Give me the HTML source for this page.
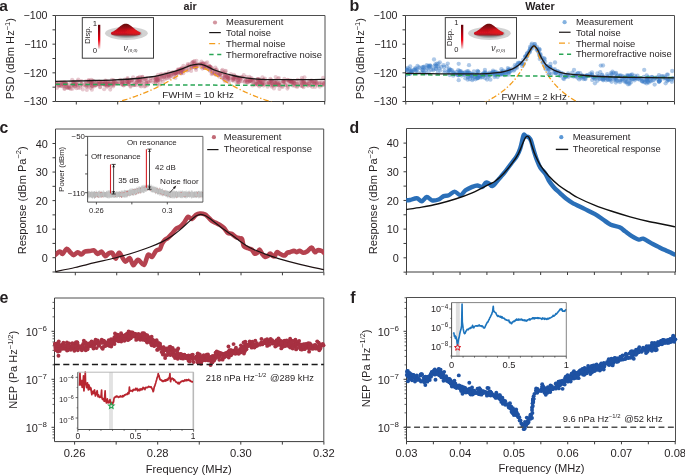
<!DOCTYPE html><html><head><meta charset="utf-8"><style>html,body{margin:0;padding:0;background:#fff;overflow:hidden}svg{display:block;will-change:transform}text{font-family:"Liberation Sans",sans-serif}</style></head><body>
<svg width="685" height="476" viewBox="0 0 685 476">
<defs><linearGradient id="cb" x1="0" y1="0" x2="0" y2="1"><stop offset="0" stop-color="#5e0008"/><stop offset="0.35" stop-color="#b00010"/><stop offset="0.62" stop-color="#f00010"/><stop offset="0.82" stop-color="#f07078"/><stop offset="1" stop-color="#ece4e4"/></linearGradient><radialGradient id="disk" cx="0.5" cy="0.5" r="0.5"><stop offset="0" stop-color="#6a6a6a"/><stop offset="0.6" stop-color="#8e8e8e"/><stop offset="1" stop-color="#c6c6c6"/></radialGradient><linearGradient id="bump" x1="0" y1="0" x2="0" y2="1"><stop offset="0" stop-color="#640810"/><stop offset="0.25" stop-color="#8a0a12"/><stop offset="0.5" stop-color="#c00e18"/><stop offset="0.72" stop-color="#d8121c"/><stop offset="0.88" stop-color="#a81218" stop-opacity="0.85"/><stop offset="1" stop-color="#606060" stop-opacity="0.2"/></linearGradient><radialGradient id="bumphl" cx="0.8" cy="0.55" r="0.35"><stop offset="0" stop-color="#ff2020" stop-opacity="0.55"/><stop offset="1" stop-color="#ff2020" stop-opacity="0"/></radialGradient><filter id="soft" x="-20%" y="-20%" width="140%" height="140%"><feGaussianBlur stdDeviation="0.55"/></filter><clipPath id="ca"><rect x="55.5" y="15" width="269.5" height="86.5"/></clipPath><clipPath id="cbp"><rect x="405.5" y="15" width="269" height="86.5"/></clipPath><clipPath id="cc"><rect x="55.5" y="129" width="268.5" height="143.2"/></clipPath><clipPath id="cd"><rect x="406.2" y="129" width="269" height="142.6"/></clipPath></defs>
<rect width="685" height="476" fill="#fff"/>
<line x1="55.5" y1="15.5" x2="325" y2="15.5" stroke="#4e4e4e" stroke-width="1" />
<line x1="325" y1="15.5" x2="325" y2="101.5" stroke="#4e4e4e" stroke-width="1" />
<line x1="55.5" y1="101.5" x2="325" y2="101.5" stroke="#3c3c3c" stroke-width="1" />
<line x1="55.5" y1="15.5" x2="55.5" y2="101.5" stroke="#3c3c3c" stroke-width="1" />
<line x1="52.5" y1="15.5" x2="55.5" y2="15.5" stroke="#3c3c3c" stroke-width="1" />
<line x1="52.5" y1="29.83" x2="55.5" y2="29.83" stroke="#3c3c3c" stroke-width="1" />
<line x1="52.5" y1="44.17" x2="55.5" y2="44.17" stroke="#3c3c3c" stroke-width="1" />
<line x1="52.5" y1="58.5" x2="55.5" y2="58.5" stroke="#3c3c3c" stroke-width="1" />
<line x1="52.5" y1="72.83" x2="55.5" y2="72.83" stroke="#3c3c3c" stroke-width="1" />
<line x1="52.5" y1="87.17" x2="55.5" y2="87.17" stroke="#3c3c3c" stroke-width="1" />
<line x1="52.5" y1="101.5" x2="55.5" y2="101.5" stroke="#3c3c3c" stroke-width="1" />
<line x1="76.3" y1="101.5" x2="76.3" y2="104.5" stroke="#3c3c3c" stroke-width="1" />
<line x1="117.7" y1="101.5" x2="117.7" y2="104.5" stroke="#3c3c3c" stroke-width="1" />
<line x1="159.1" y1="101.5" x2="159.1" y2="104.5" stroke="#3c3c3c" stroke-width="1" />
<line x1="200.5" y1="101.5" x2="200.5" y2="104.5" stroke="#3c3c3c" stroke-width="1" />
<line x1="241.9" y1="101.5" x2="241.9" y2="104.5" stroke="#3c3c3c" stroke-width="1" />
<line x1="283.3" y1="101.5" x2="283.3" y2="104.5" stroke="#3c3c3c" stroke-width="1" />
<line x1="324.7" y1="101.5" x2="324.7" y2="104.5" stroke="#3c3c3c" stroke-width="1" />
<text x="47.5" y="19.45" font-size="10.65" text-anchor="end" font-weight="normal" fill="#231f20" >−100</text>
<text x="47.5" y="48.12" font-size="10.65" text-anchor="end" font-weight="normal" fill="#231f20" >−110</text>
<text x="47.5" y="76.78" font-size="10.65" text-anchor="end" font-weight="normal" fill="#231f20" >−120</text>
<text x="47.5" y="105.45" font-size="10.65" text-anchor="end" font-weight="normal" fill="#231f20" >−130</text>
<text transform="translate(13.9,58.7) rotate(-90)" font-size="11.1" text-anchor="middle" fill="#231f20">PSD (dBm Hz<tspan font-size="7.5" dy="-4.2">−1</tspan><tspan dy="4.2">)</tspan></text>
<text x="-0.8" y="10.9" font-size="15.5" text-anchor="start" font-weight="bold" fill="#231f20" >a</text>
<text x="190.2" y="9.9" font-size="10.8" text-anchor="middle" font-weight="bold" fill="#231f20" >air</text>
<line x1="405.5" y1="15.5" x2="674.5" y2="15.5" stroke="#4e4e4e" stroke-width="1" />
<line x1="674.5" y1="15.5" x2="674.5" y2="101.5" stroke="#4e4e4e" stroke-width="1" />
<line x1="405.5" y1="101.5" x2="674.5" y2="101.5" stroke="#3c3c3c" stroke-width="1" />
<line x1="405.5" y1="15.5" x2="405.5" y2="101.5" stroke="#3c3c3c" stroke-width="1" />
<line x1="402.5" y1="15.5" x2="405.5" y2="15.5" stroke="#3c3c3c" stroke-width="1" />
<line x1="402.5" y1="29.83" x2="405.5" y2="29.83" stroke="#3c3c3c" stroke-width="1" />
<line x1="402.5" y1="44.17" x2="405.5" y2="44.17" stroke="#3c3c3c" stroke-width="1" />
<line x1="402.5" y1="58.5" x2="405.5" y2="58.5" stroke="#3c3c3c" stroke-width="1" />
<line x1="402.5" y1="72.83" x2="405.5" y2="72.83" stroke="#3c3c3c" stroke-width="1" />
<line x1="402.5" y1="87.17" x2="405.5" y2="87.17" stroke="#3c3c3c" stroke-width="1" />
<line x1="402.5" y1="101.5" x2="405.5" y2="101.5" stroke="#3c3c3c" stroke-width="1" />
<line x1="405.8" y1="101.5" x2="405.8" y2="104.5" stroke="#3c3c3c" stroke-width="1" />
<line x1="432.67" y1="101.5" x2="432.67" y2="104.5" stroke="#3c3c3c" stroke-width="1" />
<line x1="459.54" y1="101.5" x2="459.54" y2="104.5" stroke="#3c3c3c" stroke-width="1" />
<line x1="486.41" y1="101.5" x2="486.41" y2="104.5" stroke="#3c3c3c" stroke-width="1" />
<line x1="513.28" y1="101.5" x2="513.28" y2="104.5" stroke="#3c3c3c" stroke-width="1" />
<line x1="540.15" y1="101.5" x2="540.15" y2="104.5" stroke="#3c3c3c" stroke-width="1" />
<line x1="567.02" y1="101.5" x2="567.02" y2="104.5" stroke="#3c3c3c" stroke-width="1" />
<line x1="593.89" y1="101.5" x2="593.89" y2="104.5" stroke="#3c3c3c" stroke-width="1" />
<line x1="620.76" y1="101.5" x2="620.76" y2="104.5" stroke="#3c3c3c" stroke-width="1" />
<line x1="647.63" y1="101.5" x2="647.63" y2="104.5" stroke="#3c3c3c" stroke-width="1" />
<line x1="674.5" y1="101.5" x2="674.5" y2="104.5" stroke="#3c3c3c" stroke-width="1" />
<text x="397.5" y="19.45" font-size="10.65" text-anchor="end" font-weight="normal" fill="#231f20" >−100</text>
<text x="397.5" y="48.12" font-size="10.65" text-anchor="end" font-weight="normal" fill="#231f20" >−110</text>
<text x="397.5" y="76.78" font-size="10.65" text-anchor="end" font-weight="normal" fill="#231f20" >−120</text>
<text x="397.5" y="105.45" font-size="10.65" text-anchor="end" font-weight="normal" fill="#231f20" >−130</text>
<text transform="translate(364.3,58.7) rotate(-90)" font-size="11.1" text-anchor="middle" fill="#231f20">PSD (dBm Hz<tspan font-size="7.5" dy="-4.2">−1</tspan><tspan dy="4.2">)</tspan></text>
<text x="349.5" y="11" font-size="16" text-anchor="start" font-weight="bold" fill="#231f20" >b</text>
<text x="540" y="9.9" font-size="10.8" text-anchor="middle" font-weight="bold" fill="#231f20" >Water</text>
<g clip-path="url(#ca)">
<g fill="#b34c63" fill-opacity="0.3"><circle cx="223.96" cy="79.54" r="2.05"/><circle cx="297.3" cy="85.99" r="2.05"/><circle cx="264.55" cy="84.39" r="2.05"/><circle cx="116.19" cy="81.66" r="2.05"/><circle cx="136.39" cy="85.15" r="2.05"/><circle cx="290.92" cy="82.98" r="2.05"/><circle cx="56.92" cy="84.52" r="2.05"/><circle cx="276.82" cy="82.42" r="2.05"/><circle cx="270.31" cy="83.19" r="2.05"/><circle cx="181.61" cy="69.43" r="2.05"/><circle cx="137.17" cy="81.73" r="2.05"/><circle cx="130.54" cy="79.99" r="2.05"/><circle cx="124.19" cy="81.92" r="2.05"/><circle cx="175.45" cy="77.94" r="2.05"/><circle cx="191.48" cy="65.71" r="2.05"/><circle cx="204.67" cy="65.35" r="2.05"/><circle cx="323.79" cy="83.9" r="2.05"/><circle cx="269.12" cy="84.52" r="2.05"/><circle cx="223.18" cy="72.43" r="2.05"/><circle cx="322.02" cy="82.31" r="2.05"/><circle cx="113.53" cy="85.28" r="2.05"/><circle cx="98.68" cy="84.35" r="2.05"/><circle cx="220.58" cy="74.1" r="2.05"/><circle cx="67.34" cy="87.95" r="2.05"/><circle cx="65.12" cy="83.07" r="2.05"/><circle cx="194.26" cy="65.33" r="2.05"/><circle cx="181.14" cy="69.45" r="2.05"/><circle cx="302.68" cy="86.33" r="2.05"/><circle cx="225.08" cy="71.31" r="2.05"/><circle cx="194.05" cy="63.71" r="2.05"/><circle cx="189.41" cy="65.47" r="2.05"/><circle cx="122.21" cy="84.31" r="2.05"/><circle cx="58.68" cy="85.98" r="2.05"/><circle cx="107.35" cy="86.57" r="2.05"/><circle cx="242" cy="76.89" r="2.05"/><circle cx="109.56" cy="85.07" r="2.05"/><circle cx="155.09" cy="78.68" r="2.05"/><circle cx="56.51" cy="83.21" r="2.05"/><circle cx="279.2" cy="84.26" r="2.05"/><circle cx="97.13" cy="81.78" r="2.05"/><circle cx="127.62" cy="77.98" r="2.05"/><circle cx="292.75" cy="82.28" r="2.05"/><circle cx="192.89" cy="62.17" r="2.05"/><circle cx="283.81" cy="81.66" r="2.05"/><circle cx="227.9" cy="77.43" r="2.05"/><circle cx="255.41" cy="82.95" r="2.05"/><circle cx="80.16" cy="87.77" r="2.05"/><circle cx="201.34" cy="64.45" r="2.05"/><circle cx="192.34" cy="62.23" r="2.05"/><circle cx="290.33" cy="81.44" r="2.05"/><circle cx="152.86" cy="77.74" r="2.05"/><circle cx="216.71" cy="69.5" r="2.05"/><circle cx="71.47" cy="85.42" r="2.05"/><circle cx="159.97" cy="76.75" r="2.05"/><circle cx="142.56" cy="77.02" r="2.05"/><circle cx="95.98" cy="85.37" r="2.05"/><circle cx="275.5" cy="82.8" r="2.05"/><circle cx="157.76" cy="79.51" r="2.05"/><circle cx="319.27" cy="83.05" r="2.05"/><circle cx="214.5" cy="72.57" r="2.05"/><circle cx="218.56" cy="73.07" r="2.05"/><circle cx="227.44" cy="79.17" r="2.05"/><circle cx="237.8" cy="80.39" r="2.05"/><circle cx="96.14" cy="84.69" r="2.05"/><circle cx="174.16" cy="74.32" r="2.05"/><circle cx="120.06" cy="79.75" r="2.05"/><circle cx="163.97" cy="76.64" r="2.05"/><circle cx="81.56" cy="83.68" r="2.05"/><circle cx="316.33" cy="83.34" r="2.05"/><circle cx="113.44" cy="80.28" r="2.05"/><circle cx="236.54" cy="82.75" r="2.05"/><circle cx="136.46" cy="82.2" r="2.05"/><circle cx="291.06" cy="80.43" r="2.05"/><circle cx="233.97" cy="74.73" r="2.05"/><circle cx="90.97" cy="83.37" r="2.05"/><circle cx="283.25" cy="82.89" r="2.05"/><circle cx="310.16" cy="81.4" r="2.05"/><circle cx="299.11" cy="83.28" r="2.05"/><circle cx="209.04" cy="66.77" r="2.05"/><circle cx="94.7" cy="85.09" r="2.05"/><circle cx="107.37" cy="81.9" r="2.05"/><circle cx="305.57" cy="82.95" r="2.05"/><circle cx="204.35" cy="67.91" r="2.05"/><circle cx="104.16" cy="89.26" r="2.05"/><circle cx="293.75" cy="80.88" r="2.05"/><circle cx="228.4" cy="75.76" r="2.05"/><circle cx="209.03" cy="66.33" r="2.05"/><circle cx="156.91" cy="80.65" r="2.05"/><circle cx="166.25" cy="73.74" r="2.05"/><circle cx="120.04" cy="81.89" r="2.05"/><circle cx="65.76" cy="84.49" r="2.05"/><circle cx="291.64" cy="80.95" r="2.05"/><circle cx="181.55" cy="68.3" r="2.05"/><circle cx="203.09" cy="64.3" r="2.05"/><circle cx="142.32" cy="76.78" r="2.05"/><circle cx="257.98" cy="79.29" r="2.05"/><circle cx="62.29" cy="83.69" r="2.05"/><circle cx="155.8" cy="79.5" r="2.05"/><circle cx="63.68" cy="84.17" r="2.05"/><circle cx="88.62" cy="80.15" r="2.05"/><circle cx="316.15" cy="81.86" r="2.05"/><circle cx="232.77" cy="79.9" r="2.05"/><circle cx="170.91" cy="75.87" r="2.05"/><circle cx="196.65" cy="64.55" r="2.05"/><circle cx="290.72" cy="81.15" r="2.05"/><circle cx="148.26" cy="81.93" r="2.05"/><circle cx="214.58" cy="69.95" r="2.05"/><circle cx="239.75" cy="77.32" r="2.05"/><circle cx="151.28" cy="78.28" r="2.05"/><circle cx="195.4" cy="68.11" r="2.05"/><circle cx="261.73" cy="83.18" r="2.05"/><circle cx="300.52" cy="85.62" r="2.05"/><circle cx="96.21" cy="82.77" r="2.05"/><circle cx="307.06" cy="85.08" r="2.05"/><circle cx="56.9" cy="83.35" r="2.05"/><circle cx="258.43" cy="82.15" r="2.05"/><circle cx="273.94" cy="88.5" r="2.05"/><circle cx="92.36" cy="85.63" r="2.05"/><circle cx="168.39" cy="74.44" r="2.05"/><circle cx="275.21" cy="82.86" r="2.05"/><circle cx="59.35" cy="85.36" r="2.05"/><circle cx="224.87" cy="78.19" r="2.05"/><circle cx="269.22" cy="81.89" r="2.05"/><circle cx="193.75" cy="61.43" r="2.05"/><circle cx="251.12" cy="81.21" r="2.05"/><circle cx="116.52" cy="83.16" r="2.05"/><circle cx="109" cy="83.68" r="2.05"/><circle cx="153.36" cy="82.57" r="2.05"/><circle cx="103.85" cy="84.31" r="2.05"/><circle cx="148.76" cy="82.25" r="2.05"/><circle cx="311.02" cy="80.55" r="2.05"/><circle cx="210.01" cy="70.65" r="2.05"/><circle cx="147.15" cy="85.34" r="2.05"/><circle cx="128.68" cy="84.19" r="2.05"/><circle cx="312.07" cy="83.51" r="2.05"/><circle cx="175.29" cy="73.32" r="2.05"/><circle cx="319.72" cy="86.74" r="2.05"/><circle cx="194.43" cy="63.07" r="2.05"/><circle cx="195.95" cy="64.58" r="2.05"/><circle cx="297.12" cy="84.1" r="2.05"/><circle cx="255.68" cy="83.93" r="2.05"/><circle cx="211.99" cy="68.95" r="2.05"/><circle cx="170.48" cy="75.48" r="2.05"/><circle cx="292.17" cy="82.49" r="2.05"/><circle cx="166.44" cy="76.47" r="2.05"/><circle cx="304.18" cy="82.75" r="2.05"/><circle cx="74.02" cy="81.91" r="2.05"/><circle cx="171.38" cy="74.42" r="2.05"/><circle cx="195.51" cy="66.83" r="2.05"/><circle cx="311.78" cy="80.83" r="2.05"/><circle cx="123.14" cy="82.27" r="2.05"/><circle cx="272.73" cy="84.48" r="2.05"/><circle cx="237.81" cy="77.1" r="2.05"/><circle cx="248.75" cy="81.91" r="2.05"/><circle cx="225.18" cy="73.31" r="2.05"/><circle cx="317.34" cy="85.36" r="2.05"/><circle cx="145.16" cy="86.12" r="2.05"/><circle cx="162.84" cy="81.8" r="2.05"/><circle cx="110.18" cy="82.92" r="2.05"/><circle cx="69.16" cy="86.13" r="2.05"/><circle cx="112.88" cy="83.56" r="2.05"/><circle cx="302.22" cy="83.28" r="2.05"/><circle cx="281.93" cy="86.49" r="2.05"/><circle cx="85.79" cy="81.23" r="2.05"/><circle cx="218.22" cy="75.16" r="2.05"/><circle cx="184.64" cy="68.81" r="2.05"/><circle cx="215.77" cy="74.86" r="2.05"/><circle cx="233.17" cy="78.67" r="2.05"/><circle cx="138.14" cy="80.35" r="2.05"/><circle cx="314.58" cy="83.52" r="2.05"/><circle cx="181.04" cy="72.25" r="2.05"/><circle cx="224.77" cy="75.57" r="2.05"/><circle cx="226.69" cy="77.26" r="2.05"/><circle cx="105.06" cy="82.42" r="2.05"/><circle cx="72.17" cy="79.76" r="2.05"/><circle cx="166.4" cy="78.2" r="2.05"/><circle cx="261.41" cy="84.22" r="2.05"/><circle cx="275.2" cy="83.37" r="2.05"/><circle cx="252.23" cy="82.1" r="2.05"/><circle cx="86.01" cy="86.41" r="2.05"/><circle cx="301.65" cy="82.06" r="2.05"/><circle cx="271.65" cy="81.45" r="2.05"/><circle cx="292.04" cy="82.68" r="2.05"/><circle cx="196.53" cy="67.36" r="2.05"/><circle cx="302.26" cy="80.01" r="2.05"/><circle cx="68.07" cy="87.14" r="2.05"/><circle cx="63.66" cy="83.18" r="2.05"/><circle cx="60.95" cy="82.2" r="2.05"/><circle cx="123.62" cy="85.55" r="2.05"/><circle cx="122.49" cy="82.62" r="2.05"/><circle cx="106.03" cy="80.68" r="2.05"/><circle cx="208.32" cy="66.99" r="2.05"/><circle cx="66.01" cy="86.6" r="2.05"/><circle cx="214.61" cy="73.85" r="2.05"/><circle cx="100.24" cy="82.78" r="2.05"/><circle cx="238.19" cy="80.44" r="2.05"/><circle cx="61.18" cy="86.19" r="2.05"/><circle cx="139.2" cy="80.32" r="2.05"/><circle cx="308.38" cy="83.79" r="2.05"/><circle cx="200.6" cy="64.69" r="2.05"/><circle cx="274.22" cy="81.86" r="2.05"/><circle cx="232.84" cy="77.08" r="2.05"/><circle cx="220.1" cy="73.78" r="2.05"/><circle cx="107.04" cy="83.57" r="2.05"/><circle cx="210.3" cy="67.67" r="2.05"/><circle cx="66.2" cy="83.61" r="2.05"/><circle cx="271.55" cy="85.45" r="2.05"/><circle cx="314.24" cy="83.39" r="2.05"/><circle cx="285.66" cy="85.04" r="2.05"/><circle cx="69.17" cy="87.15" r="2.05"/><circle cx="146.77" cy="82.08" r="2.05"/><circle cx="141.2" cy="86.53" r="2.05"/><circle cx="85.88" cy="82.32" r="2.05"/><circle cx="224.37" cy="77.12" r="2.05"/><circle cx="270.41" cy="82.29" r="2.05"/><circle cx="140.05" cy="85.73" r="2.05"/><circle cx="288.03" cy="86.84" r="2.05"/><circle cx="270.33" cy="78.69" r="2.05"/><circle cx="90.3" cy="81.87" r="2.05"/><circle cx="262.17" cy="84.18" r="2.05"/><circle cx="293.37" cy="84.83" r="2.05"/><circle cx="108.67" cy="85.07" r="2.05"/><circle cx="210.1" cy="68.63" r="2.05"/><circle cx="227.64" cy="77.52" r="2.05"/><circle cx="219.72" cy="74.91" r="2.05"/><circle cx="81.44" cy="84.08" r="2.05"/><circle cx="233.69" cy="80.67" r="2.05"/><circle cx="225.81" cy="70.9" r="2.05"/><circle cx="277.54" cy="84.46" r="2.05"/><circle cx="272.05" cy="80.74" r="2.05"/><circle cx="143.67" cy="83.34" r="2.05"/><circle cx="250.09" cy="81.19" r="2.05"/><circle cx="289.23" cy="81.14" r="2.05"/><circle cx="296.15" cy="83.91" r="2.05"/><circle cx="99.03" cy="81.74" r="2.05"/><circle cx="62.7" cy="82.59" r="2.05"/><circle cx="230.89" cy="74.14" r="2.05"/><circle cx="113.36" cy="83.21" r="2.05"/><circle cx="207.42" cy="68.35" r="2.05"/><circle cx="310.12" cy="85.23" r="2.05"/><circle cx="157.73" cy="78.42" r="2.05"/><circle cx="123.62" cy="85.08" r="2.05"/><circle cx="178.53" cy="71.73" r="2.05"/><circle cx="232.63" cy="77.9" r="2.05"/><circle cx="82.75" cy="85.48" r="2.05"/><circle cx="158.07" cy="80.98" r="2.05"/><circle cx="91.54" cy="83.22" r="2.05"/><circle cx="234.03" cy="77.97" r="2.05"/><circle cx="279.33" cy="82.72" r="2.05"/><circle cx="157.06" cy="79.07" r="2.05"/><circle cx="155.68" cy="77.22" r="2.05"/><circle cx="200.9" cy="67.07" r="2.05"/><circle cx="113.46" cy="82.39" r="2.05"/><circle cx="122.18" cy="83.87" r="2.05"/><circle cx="144.4" cy="79.32" r="2.05"/><circle cx="178.78" cy="72.37" r="2.05"/><circle cx="77.47" cy="85.21" r="2.05"/><circle cx="258.36" cy="81.57" r="2.05"/><circle cx="211.56" cy="74.11" r="2.05"/><circle cx="136.27" cy="82.8" r="2.05"/><circle cx="76.4" cy="88.28" r="2.05"/><circle cx="261.18" cy="84.78" r="2.05"/><circle cx="90.83" cy="82.53" r="2.05"/><circle cx="91.4" cy="83.13" r="2.05"/><circle cx="90.72" cy="84.95" r="2.05"/><circle cx="77.4" cy="84.48" r="2.05"/><circle cx="299.77" cy="83.18" r="2.05"/><circle cx="128.06" cy="81.9" r="2.05"/><circle cx="138.08" cy="77.85" r="2.05"/><circle cx="279.94" cy="82.58" r="2.05"/><circle cx="222.57" cy="69.76" r="2.05"/><circle cx="105.94" cy="84.36" r="2.05"/><circle cx="172.68" cy="72.39" r="2.05"/><circle cx="293.72" cy="81.52" r="2.05"/><circle cx="156.66" cy="78.5" r="2.05"/><circle cx="247.08" cy="81.85" r="2.05"/><circle cx="81.59" cy="81.1" r="2.05"/><circle cx="251.51" cy="78.02" r="2.05"/><circle cx="264.76" cy="80.5" r="2.05"/><circle cx="278.04" cy="78.57" r="2.05"/><circle cx="237.2" cy="77.18" r="2.05"/><circle cx="155.41" cy="82.76" r="2.05"/><circle cx="72.81" cy="82.12" r="2.05"/><circle cx="195.31" cy="66.37" r="2.05"/><circle cx="259.64" cy="79.56" r="2.05"/><circle cx="106.93" cy="84.17" r="2.05"/><circle cx="127.25" cy="81.87" r="2.05"/><circle cx="199.98" cy="64.54" r="2.05"/><circle cx="257.18" cy="83.66" r="2.05"/><circle cx="297.13" cy="86.95" r="2.05"/><circle cx="89.39" cy="84.46" r="2.05"/><circle cx="105.16" cy="83.84" r="2.05"/><circle cx="270.98" cy="80.86" r="2.05"/><circle cx="229.2" cy="78.33" r="2.05"/><circle cx="249.8" cy="81.11" r="2.05"/><circle cx="324.13" cy="84.55" r="2.05"/><circle cx="308.61" cy="82.91" r="2.05"/><circle cx="282.7" cy="86.92" r="2.05"/><circle cx="264.93" cy="78.49" r="2.05"/><circle cx="161.96" cy="76.96" r="2.05"/><circle cx="228.31" cy="78.69" r="2.05"/><circle cx="105.21" cy="82.8" r="2.05"/><circle cx="260.18" cy="80.87" r="2.05"/><circle cx="259.7" cy="81.99" r="2.05"/><circle cx="249.89" cy="78.63" r="2.05"/><circle cx="175.37" cy="73.21" r="2.05"/><circle cx="157.42" cy="84.18" r="2.05"/><circle cx="168.63" cy="77.98" r="2.05"/><circle cx="64.48" cy="82.13" r="2.05"/><circle cx="283.04" cy="81.17" r="2.05"/><circle cx="201.67" cy="64.08" r="2.05"/><circle cx="159.94" cy="80.38" r="2.05"/><circle cx="203.19" cy="63.57" r="2.05"/><circle cx="249.98" cy="80.16" r="2.05"/><circle cx="158.3" cy="80.54" r="2.05"/><circle cx="279.36" cy="84.97" r="2.05"/><circle cx="303.3" cy="82.23" r="2.05"/><circle cx="159.91" cy="75.72" r="2.05"/><circle cx="92.64" cy="80.53" r="2.05"/><circle cx="260.42" cy="81.09" r="2.05"/><circle cx="323.1" cy="77.83" r="2.05"/><circle cx="95.38" cy="85.5" r="2.05"/><circle cx="247.57" cy="79.94" r="2.05"/><circle cx="277.92" cy="84.12" r="2.05"/><circle cx="303.59" cy="87.16" r="2.05"/><circle cx="88.75" cy="86.63" r="2.05"/><circle cx="80.24" cy="81.75" r="2.05"/><circle cx="321.73" cy="84.68" r="2.05"/><circle cx="86.97" cy="86.65" r="2.05"/><circle cx="103.15" cy="81.99" r="2.05"/><circle cx="210.45" cy="66.91" r="2.05"/><circle cx="175.77" cy="72.55" r="2.05"/><circle cx="257.73" cy="78.93" r="2.05"/><circle cx="106.86" cy="86.75" r="2.05"/><circle cx="301.94" cy="77.77" r="2.05"/><circle cx="114.03" cy="80.81" r="2.05"/><circle cx="262.78" cy="82.16" r="2.05"/><circle cx="73.72" cy="83.93" r="2.05"/><circle cx="183.08" cy="70.07" r="2.05"/><circle cx="64.27" cy="85.17" r="2.05"/><circle cx="140.07" cy="81.18" r="2.05"/><circle cx="139.65" cy="84.19" r="2.05"/><circle cx="249.47" cy="76.9" r="2.05"/><circle cx="178.13" cy="71.85" r="2.05"/><circle cx="70.8" cy="82.9" r="2.05"/><circle cx="323.75" cy="83.02" r="2.05"/><circle cx="295" cy="83.58" r="2.05"/><circle cx="302.45" cy="81.05" r="2.05"/><circle cx="121.95" cy="81.45" r="2.05"/><circle cx="161.71" cy="79.43" r="2.05"/><circle cx="116.72" cy="83.89" r="2.05"/><circle cx="89.16" cy="82.54" r="2.05"/><circle cx="64.4" cy="89.06" r="2.05"/><circle cx="191.15" cy="71.05" r="2.05"/><circle cx="88.68" cy="80.83" r="2.05"/><circle cx="103.01" cy="84.3" r="2.05"/><circle cx="287.4" cy="88.62" r="2.05"/><circle cx="186" cy="69.93" r="2.05"/><circle cx="105.01" cy="84.06" r="2.05"/><circle cx="236.03" cy="78.57" r="2.05"/><circle cx="127.15" cy="81.39" r="2.05"/><circle cx="197.51" cy="64.17" r="2.05"/><circle cx="131.76" cy="81.09" r="2.05"/><circle cx="194.61" cy="66.71" r="2.05"/><circle cx="224.89" cy="74.66" r="2.05"/><circle cx="200.01" cy="63.71" r="2.05"/><circle cx="162.12" cy="74.92" r="2.05"/><circle cx="268.62" cy="82.85" r="2.05"/><circle cx="290.89" cy="81.13" r="2.05"/><circle cx="103.84" cy="83.21" r="2.05"/><circle cx="92.24" cy="86.24" r="2.05"/><circle cx="86.01" cy="84.93" r="2.05"/><circle cx="319.5" cy="83.93" r="2.05"/><circle cx="309.26" cy="83.78" r="2.05"/><circle cx="117.66" cy="83.2" r="2.05"/><circle cx="316.89" cy="82.59" r="2.05"/><circle cx="111.51" cy="82.67" r="2.05"/><circle cx="192" cy="67.37" r="2.05"/><circle cx="189.55" cy="64.19" r="2.05"/><circle cx="302.08" cy="86.01" r="2.05"/><circle cx="66.42" cy="84.62" r="2.05"/><circle cx="140.49" cy="79.96" r="2.05"/><circle cx="217.19" cy="71.31" r="2.05"/><circle cx="73.39" cy="82.94" r="2.05"/><circle cx="119.25" cy="83.35" r="2.05"/><circle cx="180.83" cy="69.14" r="2.05"/><circle cx="292.89" cy="85.61" r="2.05"/><circle cx="260.58" cy="80.91" r="2.05"/><circle cx="278.91" cy="78.07" r="2.05"/><circle cx="260.61" cy="81.03" r="2.05"/><circle cx="246.23" cy="76.7" r="2.05"/><circle cx="284.49" cy="83" r="2.05"/><circle cx="239.16" cy="82.09" r="2.05"/><circle cx="253.77" cy="83.54" r="2.05"/><circle cx="136.79" cy="79" r="2.05"/><circle cx="100.68" cy="82.03" r="2.05"/><circle cx="259.38" cy="86.47" r="2.05"/><circle cx="100.19" cy="84.42" r="2.05"/><circle cx="303.29" cy="83.06" r="2.05"/><circle cx="216.3" cy="74.32" r="2.05"/><circle cx="144.28" cy="86.55" r="2.05"/><circle cx="307.93" cy="85.86" r="2.05"/><circle cx="97.31" cy="84.1" r="2.05"/><circle cx="194.15" cy="65.95" r="2.05"/><circle cx="80.17" cy="85.64" r="2.05"/><circle cx="315.68" cy="81.54" r="2.05"/><circle cx="210.56" cy="66.74" r="2.05"/><circle cx="272.09" cy="83.13" r="2.05"/><circle cx="131.48" cy="80.23" r="2.05"/><circle cx="271.58" cy="82.87" r="2.05"/><circle cx="244.92" cy="81.1" r="2.05"/><circle cx="228.97" cy="82.12" r="2.05"/><circle cx="311.68" cy="81.09" r="2.05"/><circle cx="172.33" cy="73.85" r="2.05"/><circle cx="167.37" cy="75.53" r="2.05"/><circle cx="242.03" cy="81.32" r="2.05"/><circle cx="280.55" cy="85.38" r="2.05"/><circle cx="145.8" cy="79.85" r="2.05"/><circle cx="235.97" cy="77.21" r="2.05"/><circle cx="111.84" cy="79.72" r="2.05"/><circle cx="204.18" cy="63.66" r="2.05"/><circle cx="262.79" cy="83.93" r="2.05"/><circle cx="73.1" cy="84.54" r="2.05"/><circle cx="251.65" cy="79.65" r="2.05"/><circle cx="59.66" cy="83.82" r="2.05"/><circle cx="313.78" cy="83" r="2.05"/><circle cx="181.81" cy="71.41" r="2.05"/><circle cx="165.74" cy="75.13" r="2.05"/><circle cx="249.66" cy="81.08" r="2.05"/><circle cx="196.53" cy="60.74" r="2.05"/><circle cx="252.46" cy="79.45" r="2.05"/><circle cx="78.34" cy="87.89" r="2.05"/><circle cx="207.17" cy="62.3" r="2.05"/><circle cx="205.91" cy="65.68" r="2.05"/><circle cx="306.7" cy="83.51" r="2.05"/><circle cx="66.17" cy="83.72" r="2.05"/><circle cx="177.53" cy="70.31" r="2.05"/><circle cx="225.57" cy="75.65" r="2.05"/><circle cx="203.93" cy="65.6" r="2.05"/><circle cx="75.49" cy="84.21" r="2.05"/><circle cx="215.38" cy="67.45" r="2.05"/><circle cx="115.38" cy="82.86" r="2.05"/><circle cx="108.2" cy="81.59" r="2.05"/><circle cx="292.31" cy="81.89" r="2.05"/><circle cx="108.82" cy="83.95" r="2.05"/><circle cx="177.93" cy="73.34" r="2.05"/><circle cx="257.7" cy="84.42" r="2.05"/><circle cx="246.12" cy="80.01" r="2.05"/><circle cx="204.66" cy="67.91" r="2.05"/><circle cx="273" cy="85.6" r="2.05"/><circle cx="181.04" cy="73.14" r="2.05"/><circle cx="222.69" cy="77.75" r="2.05"/><circle cx="276.2" cy="82.73" r="2.05"/><circle cx="238.25" cy="79.17" r="2.05"/><circle cx="228.47" cy="78.62" r="2.05"/><circle cx="164.95" cy="73.69" r="2.05"/><circle cx="205.97" cy="66.92" r="2.05"/><circle cx="162.24" cy="76.36" r="2.05"/><circle cx="256.09" cy="81.51" r="2.05"/><circle cx="158.03" cy="74.83" r="2.05"/><circle cx="181.25" cy="68.58" r="2.05"/><circle cx="259.1" cy="82.5" r="2.05"/><circle cx="191.24" cy="67.9" r="2.05"/><circle cx="146.6" cy="82.99" r="2.05"/><circle cx="278.33" cy="82.89" r="2.05"/><circle cx="158.17" cy="78.21" r="2.05"/><circle cx="283.15" cy="81.26" r="2.05"/><circle cx="267.12" cy="83.81" r="2.05"/><circle cx="176.04" cy="72.14" r="2.05"/><circle cx="247.62" cy="82.67" r="2.05"/><circle cx="64.77" cy="88.42" r="2.05"/><circle cx="160.55" cy="77.94" r="2.05"/><circle cx="287.36" cy="79.8" r="2.05"/><circle cx="211.69" cy="67.85" r="2.05"/><circle cx="205.83" cy="63.18" r="2.05"/><circle cx="234.65" cy="76.03" r="2.05"/><circle cx="238.13" cy="82.4" r="2.05"/><circle cx="212.78" cy="70.84" r="2.05"/><circle cx="168.86" cy="72.03" r="2.05"/><circle cx="104.95" cy="85.01" r="2.05"/><circle cx="134.37" cy="84.9" r="2.05"/><circle cx="134.44" cy="81.33" r="2.05"/><circle cx="171.59" cy="72.91" r="2.05"/><circle cx="324.75" cy="81.96" r="2.05"/><circle cx="150.51" cy="80.8" r="2.05"/><circle cx="176.07" cy="74.09" r="2.05"/><circle cx="155.65" cy="81.81" r="2.05"/><circle cx="212.19" cy="72.7" r="2.05"/><circle cx="310.96" cy="85.58" r="2.05"/><circle cx="295.11" cy="86.09" r="2.05"/><circle cx="157.14" cy="80.33" r="2.05"/><circle cx="127.43" cy="79.19" r="2.05"/><circle cx="293.85" cy="82.81" r="2.05"/><circle cx="188.59" cy="67.67" r="2.05"/><circle cx="240.25" cy="79.15" r="2.05"/><circle cx="75.25" cy="86.4" r="2.05"/><circle cx="289.04" cy="82.31" r="2.05"/><circle cx="139.84" cy="79.63" r="2.05"/><circle cx="188.78" cy="70.07" r="2.05"/><circle cx="108.87" cy="84.91" r="2.05"/><circle cx="168.76" cy="75.9" r="2.05"/><circle cx="278.66" cy="85.11" r="2.05"/><circle cx="278.53" cy="85.4" r="2.05"/><circle cx="183.15" cy="70.42" r="2.05"/><circle cx="262.45" cy="77.33" r="2.05"/><circle cx="178.95" cy="70.03" r="2.05"/><circle cx="156.12" cy="78.1" r="2.05"/><circle cx="202.62" cy="63.04" r="2.05"/><circle cx="109.76" cy="83.85" r="2.05"/><circle cx="140.81" cy="84.2" r="2.05"/><circle cx="245.91" cy="80" r="2.05"/><circle cx="263.15" cy="80.28" r="2.05"/><circle cx="70.78" cy="88.94" r="2.05"/><circle cx="253" cy="81.04" r="2.05"/><circle cx="275.8" cy="80.34" r="2.05"/><circle cx="175.48" cy="73.43" r="2.05"/><circle cx="72.33" cy="85.39" r="2.05"/><circle cx="239.55" cy="78.29" r="2.05"/><circle cx="121.84" cy="84.61" r="2.05"/><circle cx="228.88" cy="75.87" r="2.05"/><circle cx="157" cy="76.88" r="2.05"/><circle cx="227.22" cy="76.77" r="2.05"/><circle cx="125.07" cy="84.39" r="2.05"/><circle cx="183.93" cy="67.89" r="2.05"/><circle cx="196.9" cy="65.43" r="2.05"/><circle cx="225.56" cy="75.57" r="2.05"/><circle cx="110.25" cy="89.61" r="2.05"/><circle cx="314.77" cy="81.35" r="2.05"/><circle cx="133.42" cy="85.23" r="2.05"/><circle cx="137.97" cy="81.73" r="2.05"/><circle cx="124.58" cy="82.44" r="2.05"/><circle cx="73.68" cy="86.01" r="2.05"/><circle cx="169.48" cy="77.13" r="2.05"/><circle cx="263.51" cy="85.58" r="2.05"/><circle cx="246.73" cy="81.92" r="2.05"/><circle cx="108.21" cy="82.15" r="2.05"/><circle cx="92.4" cy="82.76" r="2.05"/><circle cx="142.12" cy="82.55" r="2.05"/><circle cx="262.54" cy="84.02" r="2.05"/><circle cx="187.04" cy="70.75" r="2.05"/><circle cx="304.3" cy="83.96" r="2.05"/><circle cx="232.4" cy="80.37" r="2.05"/><circle cx="222.83" cy="78.08" r="2.05"/><circle cx="262.39" cy="83.1" r="2.05"/><circle cx="257.69" cy="79.18" r="2.05"/><circle cx="148.16" cy="77.97" r="2.05"/><circle cx="124.76" cy="79.55" r="2.05"/><circle cx="173.44" cy="77.2" r="2.05"/><circle cx="187.35" cy="65.66" r="2.05"/><circle cx="93.69" cy="86.61" r="2.05"/><circle cx="174.44" cy="74.6" r="2.05"/><circle cx="227.93" cy="80.39" r="2.05"/><circle cx="92.08" cy="86.16" r="2.05"/><circle cx="92.7" cy="83.71" r="2.05"/><circle cx="102.32" cy="83.21" r="2.05"/><circle cx="131.86" cy="82.48" r="2.05"/><circle cx="314.68" cy="83.3" r="2.05"/><circle cx="62.45" cy="83.43" r="2.05"/><circle cx="105.02" cy="83.5" r="2.05"/><circle cx="99.98" cy="87.26" r="2.05"/><circle cx="183.34" cy="65.84" r="2.05"/><circle cx="59.56" cy="85.21" r="2.05"/><circle cx="178.98" cy="69.51" r="2.05"/><circle cx="99.41" cy="84.15" r="2.05"/><circle cx="128.17" cy="84.37" r="2.05"/><circle cx="269.06" cy="82.84" r="2.05"/><circle cx="105.11" cy="85.27" r="2.05"/><circle cx="221.82" cy="70.84" r="2.05"/><circle cx="165" cy="79.11" r="2.05"/><circle cx="168.04" cy="74.34" r="2.05"/><circle cx="275.64" cy="84.42" r="2.05"/><circle cx="98.87" cy="84.16" r="2.05"/><circle cx="304.47" cy="77.35" r="2.05"/><circle cx="296.3" cy="81.43" r="2.05"/><circle cx="235.61" cy="79.41" r="2.05"/><circle cx="68.83" cy="87.93" r="2.05"/><circle cx="234.26" cy="79.2" r="2.05"/><circle cx="217.29" cy="73" r="2.05"/><circle cx="263.61" cy="79.69" r="2.05"/><circle cx="113.13" cy="86.43" r="2.05"/><circle cx="312.43" cy="86.93" r="2.05"/><circle cx="294.33" cy="83.16" r="2.05"/><circle cx="86.32" cy="83.64" r="2.05"/><circle cx="140.45" cy="78.05" r="2.05"/><circle cx="64.24" cy="86.52" r="2.05"/><circle cx="279.44" cy="89.02" r="2.05"/><circle cx="302.12" cy="84.64" r="2.05"/><circle cx="322.25" cy="85.54" r="2.05"/><circle cx="220.41" cy="74.96" r="2.05"/><circle cx="234.98" cy="76.59" r="2.05"/><circle cx="238.33" cy="82.52" r="2.05"/><circle cx="209.16" cy="65.53" r="2.05"/><circle cx="312.18" cy="82.49" r="2.05"/><circle cx="219.32" cy="73.92" r="2.05"/><circle cx="145.98" cy="82.85" r="2.05"/><circle cx="193.72" cy="66.18" r="2.05"/><circle cx="60.53" cy="85.48" r="2.05"/><circle cx="250.65" cy="80.09" r="2.05"/><circle cx="242.51" cy="77.61" r="2.05"/><circle cx="168.97" cy="75.47" r="2.05"/><circle cx="284.97" cy="81.53" r="2.05"/><circle cx="259.11" cy="79.67" r="2.05"/><circle cx="146.24" cy="78.08" r="2.05"/><circle cx="76.39" cy="83.29" r="2.05"/><circle cx="91.13" cy="79.9" r="2.05"/><circle cx="105.16" cy="80.6" r="2.05"/><circle cx="137.41" cy="78.29" r="2.05"/><circle cx="176.11" cy="73.06" r="2.05"/><circle cx="305.6" cy="83.93" r="2.05"/><circle cx="130.53" cy="86.79" r="2.05"/><circle cx="297.67" cy="79.79" r="2.05"/><circle cx="238.88" cy="78.2" r="2.05"/><circle cx="285.52" cy="85.1" r="2.05"/><circle cx="164.18" cy="76.46" r="2.05"/><circle cx="56.38" cy="83.96" r="2.05"/><circle cx="267.59" cy="86.7" r="2.05"/><circle cx="121.66" cy="82.13" r="2.05"/><circle cx="93.9" cy="81.35" r="2.05"/><circle cx="270.96" cy="80.1" r="2.05"/><circle cx="240.47" cy="80.78" r="2.05"/><circle cx="112.75" cy="83.97" r="2.05"/><circle cx="127.61" cy="79.53" r="2.05"/><circle cx="308.62" cy="80.84" r="2.05"/><circle cx="127.87" cy="83.71" r="2.05"/><circle cx="244.8" cy="82.14" r="2.05"/><circle cx="90.41" cy="82.59" r="2.05"/><circle cx="275.15" cy="84.41" r="2.05"/><circle cx="87.19" cy="85.35" r="2.05"/><circle cx="194.57" cy="61.16" r="2.05"/><circle cx="64.99" cy="83.88" r="2.05"/><circle cx="203.75" cy="66.47" r="2.05"/><circle cx="283.66" cy="81.83" r="2.05"/><circle cx="78.25" cy="79.62" r="2.05"/><circle cx="129.41" cy="81.82" r="2.05"/><circle cx="261.58" cy="84.34" r="2.05"/><circle cx="219.38" cy="76.81" r="2.05"/><circle cx="139.8" cy="76.85" r="2.05"/><circle cx="224.99" cy="81.32" r="2.05"/><circle cx="178.04" cy="69.4" r="2.05"/><circle cx="287.91" cy="85.2" r="2.05"/><circle cx="134.45" cy="84.83" r="2.05"/><circle cx="259.71" cy="84.74" r="2.05"/><circle cx="226.81" cy="76.56" r="2.05"/><circle cx="255.05" cy="79.68" r="2.05"/><circle cx="157.44" cy="80.18" r="2.05"/><circle cx="250.87" cy="80.22" r="2.05"/><circle cx="243.73" cy="75.13" r="2.05"/><circle cx="159.93" cy="84.4" r="2.05"/><circle cx="62.63" cy="86.16" r="2.05"/><circle cx="315.01" cy="86.9" r="2.05"/><circle cx="247.82" cy="79.36" r="2.05"/><circle cx="110.68" cy="86.61" r="2.05"/><circle cx="252.45" cy="85.48" r="2.05"/><circle cx="130.61" cy="85.79" r="2.05"/><circle cx="181.97" cy="70.18" r="2.05"/><circle cx="287.24" cy="80.45" r="2.05"/><circle cx="176.26" cy="72.21" r="2.05"/><circle cx="133.12" cy="77.36" r="2.05"/><circle cx="137.83" cy="78.11" r="2.05"/><circle cx="76.26" cy="84.58" r="2.05"/><circle cx="114.66" cy="81.03" r="2.05"/><circle cx="128.56" cy="82.13" r="2.05"/><circle cx="102.12" cy="83.42" r="2.05"/><circle cx="72.5" cy="88.7" r="2.05"/><circle cx="181.03" cy="73.49" r="2.05"/><circle cx="113.28" cy="83.18" r="2.05"/><circle cx="254.6" cy="84.86" r="2.05"/><circle cx="304.12" cy="81.33" r="2.05"/><circle cx="129.07" cy="81.73" r="2.05"/><circle cx="209.72" cy="70.57" r="2.05"/><circle cx="192.06" cy="62.95" r="2.05"/><circle cx="75.74" cy="83.77" r="2.05"/><circle cx="89.15" cy="81.13" r="2.05"/><circle cx="293.95" cy="83.35" r="2.05"/><circle cx="183.28" cy="73.2" r="2.05"/><circle cx="272.34" cy="81.36" r="2.05"/><circle cx="73.44" cy="84.93" r="2.05"/><circle cx="215.8" cy="69.8" r="2.05"/><circle cx="288.7" cy="80.57" r="2.05"/><circle cx="289.17" cy="80.38" r="2.05"/><circle cx="57.04" cy="87.87" r="2.05"/><circle cx="196.1" cy="70" r="2.05"/><circle cx="154.95" cy="80.42" r="2.05"/><circle cx="260.33" cy="81.04" r="2.05"/><circle cx="75.23" cy="85.95" r="2.05"/><circle cx="126.9" cy="81.86" r="2.05"/><circle cx="274.51" cy="84.8" r="2.05"/><circle cx="182.05" cy="70.83" r="2.05"/><circle cx="177.62" cy="72.67" r="2.05"/><circle cx="316.53" cy="84.21" r="2.05"/><circle cx="141.71" cy="80.2" r="2.05"/><circle cx="66.74" cy="83.65" r="2.05"/><circle cx="161.2" cy="74.04" r="2.05"/><circle cx="96.83" cy="82.84" r="2.05"/><circle cx="77.57" cy="81.21" r="2.05"/><circle cx="208.54" cy="67.59" r="2.05"/><circle cx="312.49" cy="80.84" r="2.05"/><circle cx="211.65" cy="69.94" r="2.05"/><circle cx="229.9" cy="78.27" r="2.05"/><circle cx="142.72" cy="78.23" r="2.05"/><circle cx="209.42" cy="66.6" r="2.05"/><circle cx="258.23" cy="80.41" r="2.05"/><circle cx="214.31" cy="72.74" r="2.05"/><circle cx="271.85" cy="86.76" r="2.05"/><circle cx="203.85" cy="67.46" r="2.05"/><circle cx="108.9" cy="82.68" r="2.05"/><circle cx="212.54" cy="73.44" r="2.05"/><circle cx="187.81" cy="63.99" r="2.05"/><circle cx="100.22" cy="87.01" r="2.05"/><circle cx="222.37" cy="73.11" r="2.05"/><circle cx="275.67" cy="76.93" r="2.05"/><circle cx="91.91" cy="89.79" r="2.05"/><circle cx="202.36" cy="68.61" r="2.05"/><circle cx="253.23" cy="79.79" r="2.05"/><circle cx="164.11" cy="77.33" r="2.05"/><circle cx="128.28" cy="82.04" r="2.05"/><circle cx="155.83" cy="79.4" r="2.05"/><circle cx="201.49" cy="61.66" r="2.05"/><circle cx="240.55" cy="78.56" r="2.05"/><circle cx="206.2" cy="67.6" r="2.05"/><circle cx="84.34" cy="84.66" r="2.05"/><circle cx="275.92" cy="85.69" r="2.05"/><circle cx="304.48" cy="83.22" r="2.05"/><circle cx="82.8" cy="89.38" r="2.05"/><circle cx="122.75" cy="81.24" r="2.05"/><circle cx="102.31" cy="84.23" r="2.05"/><circle cx="284.35" cy="78.88" r="2.05"/><circle cx="300.82" cy="80.31" r="2.05"/><circle cx="67.43" cy="87.45" r="2.05"/><circle cx="145.09" cy="78.96" r="2.05"/><circle cx="107.38" cy="84.66" r="2.05"/><circle cx="182.04" cy="70.06" r="2.05"/><circle cx="303.87" cy="80.75" r="2.05"/><circle cx="74.41" cy="83.65" r="2.05"/><circle cx="101.66" cy="82.54" r="2.05"/><circle cx="186.75" cy="66.75" r="2.05"/><circle cx="196.73" cy="66.38" r="2.05"/><circle cx="256.41" cy="83.79" r="2.05"/><circle cx="173.46" cy="72.42" r="2.05"/><circle cx="93.54" cy="81.91" r="2.05"/><circle cx="150.8" cy="80.75" r="2.05"/><circle cx="320.17" cy="82.58" r="2.05"/><circle cx="257.82" cy="84.72" r="2.05"/><circle cx="86.85" cy="89.95" r="2.05"/><circle cx="273.31" cy="84.88" r="2.05"/><circle cx="139.29" cy="81.65" r="2.05"/><circle cx="266.09" cy="82.52" r="2.05"/><circle cx="58.93" cy="82.76" r="2.05"/><circle cx="290.31" cy="81.11" r="2.05"/><circle cx="99.24" cy="81.54" r="2.05"/><circle cx="178.32" cy="70.9" r="2.05"/><circle cx="233.84" cy="77.51" r="2.05"/><circle cx="192.37" cy="67.23" r="2.05"/><circle cx="100.07" cy="82.84" r="2.05"/><circle cx="92.99" cy="83.49" r="2.05"/><circle cx="132.18" cy="79.59" r="2.05"/><circle cx="69.62" cy="88.11" r="2.05"/><circle cx="113.86" cy="84.36" r="2.05"/><circle cx="90.56" cy="87.93" r="2.05"/><circle cx="180.76" cy="72.51" r="2.05"/></g>
<path d="M111.38,103.86 L112.28,103.61 L113.19,103.36 L114.09,103.11 L114.99,102.86 L115.89,102.6 L116.79,102.34 L117.69,102.08 L118.59,101.82 L119.49,101.55 L120.4,101.29 L121.3,101.01 L122.2,100.74 L123.1,100.46 L124,100.18 L124.9,99.9 L125.8,99.61 L126.71,99.33 L127.61,99.03 L128.51,98.74 L129.41,98.44 L130.31,98.14 L131.21,97.83 L132.11,97.52 L133.02,97.21 L133.92,96.9 L134.82,96.58 L135.72,96.26 L136.62,95.93 L137.52,95.6 L138.42,95.26 L139.32,94.93 L140.23,94.58 L141.13,94.24 L142.03,93.89 L142.93,93.53 L143.83,93.17 L144.73,92.81 L145.63,92.44 L146.54,92.07 L147.44,91.69 L148.34,91.3 L149.24,90.92 L150.14,90.52 L151.04,90.12 L151.94,89.72 L152.84,89.31 L153.75,88.9 L154.65,88.48 L155.55,88.05 L156.45,87.62 L157.35,87.19 L158.25,86.74 L159.15,86.3 L160.06,85.84 L160.96,85.38 L161.86,84.92 L162.76,84.44 L163.66,83.97 L164.56,83.48 L165.46,82.99 L166.36,82.5 L167.27,81.99 L168.17,81.49 L169.07,80.97 L169.97,80.46 L170.87,79.93 L171.77,79.4 L172.67,78.87 L173.58,78.33 L174.48,77.79 L175.38,77.25 L176.28,76.7 L177.18,76.16 L178.08,75.61 L178.98,75.06 L179.88,74.51 L180.79,73.97 L181.69,73.43 L182.59,72.9 L183.49,72.38 L184.39,71.86 L185.29,71.36 L186.19,70.88 L187.1,70.41 L188,69.96 L188.9,69.53 L189.8,69.13 L190.7,68.77 L191.6,68.43 L192.5,68.13 L193.4,67.86 L194.31,67.64 L195.21,67.46 L196.11,67.33 L197.01,67.24 L197.91,67.2 L198.81,67.21 L199.71,67.28 L200.62,67.41 L201.52,67.59 L202.42,67.82 L203.32,68.1 L204.22,68.43 L205.12,68.8 L206.02,69.21 L206.92,69.65 L207.83,70.13 L208.73,70.63 L209.63,71.16 L210.53,71.7 L211.43,72.26 L212.33,72.83 L213.23,73.41 L214.14,74 L215.04,74.6 L215.94,75.2 L216.84,75.8 L217.74,76.4 L218.64,77 L219.54,77.6 L220.44,78.19 L221.35,78.78 L222.25,79.36 L223.15,79.94 L224.05,80.52 L224.95,81.09 L225.85,81.65 L226.75,82.2 L227.66,82.75 L228.56,83.29 L229.46,83.82 L230.36,84.35 L231.26,84.86 L232.16,85.38 L233.06,85.88 L233.96,86.38 L234.87,86.87 L235.77,87.35 L236.67,87.83 L237.57,88.29 L238.47,88.76 L239.37,89.21 L240.27,89.66 L241.18,90.1 L242.08,90.54 L242.98,90.97 L243.88,91.4 L244.78,91.81 L245.68,92.23 L246.58,92.63 L247.48,93.03 L248.39,93.43 L249.29,93.82 L250.19,94.21 L251.09,94.59 L251.99,94.96 L252.89,95.33 L253.79,95.7 L254.7,96.06 L255.6,96.41 L256.5,96.77 L257.4,97.11 L258.3,97.46 L259.2,97.79 L260.1,98.13 L261.01,98.46 L261.91,98.79 L262.81,99.11 L263.71,99.43 L264.61,99.74 L265.51,100.06 L266.41,100.36 L267.31,100.67 L268.22,100.97 L269.12,101.27 L270.02,101.56 L270.92,101.85 L271.82,102.14 L272.72,102.43 L273.62,102.71 L274.53,102.99 L275.43,103.26 L276.33,103.54 L277.23,103.81" stroke="#f39c1a" stroke-width="1.3" fill="none" stroke-dasharray="5.5,2.2,1.3,2.2"/>
<line x1="55.5" y1="84.3" x2="325" y2="85.7" stroke="#2aa655" stroke-width="1.5" stroke-dasharray="4.5,3"/>
<path d="M55,81.3 C58.33,81.25 68.53,81.13 75,81 C81.47,80.87 87.13,80.7 93.8,80.5 C100.47,80.3 107.7,80.13 115,79.8 C122.3,79.47 131.77,78.97 137.6,78.5 C143.43,78.03 146.35,77.53 150,77 C153.65,76.47 156.17,76.03 159.5,75.3 C162.83,74.57 166.35,73.63 170,72.6 C173.65,71.57 178.4,70.13 181.4,69.1 C184.4,68.07 186.07,67.1 188,66.4 C189.93,65.7 191.17,65.27 193,64.9 C194.83,64.53 197.08,64.13 199,64.2 C200.92,64.27 202.83,64.77 204.5,65.3 C206.17,65.83 207.42,66.65 209,67.4 C210.58,68.15 211.58,68.87 214,69.8 C216.42,70.73 220.33,72.05 223.5,73 C226.67,73.95 229.85,74.78 233,75.5 C236.15,76.22 239.25,76.78 242.4,77.3 C245.55,77.82 248.73,78.27 251.9,78.6 C255.07,78.93 258.23,79.13 261.4,79.3 C264.57,79.47 266.15,79.53 270.9,79.6 C275.65,79.67 283.57,79.7 289.9,79.7 C296.23,79.7 303.05,79.67 308.9,79.6 C314.75,79.53 322.32,79.35 325,79.3" stroke="#1a1616" stroke-width="1.3" fill="none" />
</g>
<circle cx="215" cy="22.5" r="2.1" fill="#c06a78" fill-opacity="0.7"/>
<line x1="209.2" y1="32.6" x2="220.8" y2="32.6" stroke="#1a1616" stroke-width="1.2" />
<line x1="209.2" y1="43.6" x2="220.8" y2="43.6" stroke="#f39c1a" stroke-width="1.3" stroke-dasharray="6,3.3,1.3,3"/>
<line x1="209.2" y1="54.6" x2="221.3" y2="54.6" stroke="#2aa655" stroke-width="1.5" stroke-dasharray="4.4,3.6"/>
<text x="226.1" y="24.9" font-size="9.4" text-anchor="start" font-weight="normal" fill="#231f20" >Measurement</text>
<text x="226.1" y="35.9" font-size="9.4" text-anchor="start" font-weight="normal" fill="#231f20" >Total noise</text>
<text x="226.1" y="46.9" font-size="9.4" text-anchor="start" font-weight="normal" fill="#231f20" >Thermal noise</text>
<text x="226.1" y="57.9" font-size="9.4" text-anchor="start" font-weight="normal" fill="#231f20" >Thermorefractive noise</text>
<rect x="82.3" y="17.6" width="71.2" height="40.6" fill="#fff" stroke="#3c3c3c" stroke-width="1"/>
<rect x="98" y="24.8" width="2.3" height="24" fill="url(#cb)"/>
<text x="95" y="25.9" font-size="7.8" text-anchor="middle" font-weight="normal" fill="#231f20" >1</text>
<text x="94.9" y="53.4" font-size="7.8" text-anchor="middle" font-weight="normal" fill="#231f20" >0</text>
<text transform="translate(90,35.1) rotate(-90)" font-size="7.6" text-anchor="middle" fill="#231f20">Disp.</text>
<ellipse cx="126.4" cy="33.35" rx="21.35" ry="6.55" fill="#d2d2d2"/>
<ellipse cx="126.4" cy="33.75" rx="16" ry="4.6" fill="url(#disk)" filter="url(#soft)"/>
<g filter="url(#soft)"><path d="M111,32.54 L111.76,32.23 L112.52,31.87 L113.28,31.47 L114.04,31.01 L114.79,30.52 L115.55,29.98 L116.31,29.4 L117.07,28.79 L117.83,28.16 L118.59,27.52 L119.35,26.89 L120.11,26.27 L120.87,25.69 L121.63,25.16 L122.38,24.68 L123.14,24.29 L123.9,23.98 L124.66,23.77 L125.42,23.66 L126.18,23.66 L126.94,23.77 L127.7,23.98 L128.46,24.29 L129.22,24.68 L129.97,25.16 L130.73,25.69 L131.49,26.27 L132.25,26.89 L133.01,27.52 L133.77,28.16 L134.53,28.79 L135.29,29.4 L136.05,29.98 L136.81,30.52 L137.56,31.01 L138.32,31.47 L139.08,31.87 L139.84,32.23 L140.6,32.54 L140.6,33.95 L139.84,34.77 L139.08,35.1 L138.32,35.34 L137.56,35.53 L136.81,35.69 L136.05,35.83 L135.29,35.95 L134.53,36.05 L133.77,36.14 L133.01,36.22 L132.25,36.29 L131.49,36.35 L130.73,36.4 L129.97,36.44 L129.22,36.48 L128.46,36.51 L127.7,36.53 L126.94,36.54 L126.18,36.55 L125.42,36.55 L124.66,36.54 L123.9,36.53 L123.14,36.51 L122.38,36.48 L121.63,36.44 L120.87,36.4 L120.11,36.35 L119.35,36.29 L118.59,36.22 L117.83,36.14 L117.07,36.05 L116.31,35.95 L115.55,35.83 L114.79,35.69 L114.04,35.53 L113.28,35.34 L112.52,35.1 L111.76,34.77 L111,33.95Z" fill="url(#bump)"/>
<path d="M111,32.54 L111.76,32.23 L112.52,31.87 L113.28,31.47 L114.04,31.01 L114.79,30.52 L115.55,29.98 L116.31,29.4 L117.07,28.79 L117.83,28.16 L118.59,27.52 L119.35,26.89 L120.11,26.27 L120.87,25.69 L121.63,25.16 L122.38,24.68 L123.14,24.29 L123.9,23.98 L124.66,23.77 L125.42,23.66 L126.18,23.66 L126.94,23.77 L127.7,23.98 L128.46,24.29 L129.22,24.68 L129.97,25.16 L130.73,25.69 L131.49,26.27 L132.25,26.89 L133.01,27.52 L133.77,28.16 L134.53,28.79 L135.29,29.4 L136.05,29.98 L136.81,30.52 L137.56,31.01 L138.32,31.47 L139.08,31.87 L139.84,32.23 L140.6,32.54 L140.6,33.95 L139.84,34.77 L139.08,35.1 L138.32,35.34 L137.56,35.53 L136.81,35.69 L136.05,35.83 L135.29,35.95 L134.53,36.05 L133.77,36.14 L133.01,36.22 L132.25,36.29 L131.49,36.35 L130.73,36.4 L129.97,36.44 L129.22,36.48 L128.46,36.51 L127.7,36.53 L126.94,36.54 L126.18,36.55 L125.42,36.55 L124.66,36.54 L123.9,36.53 L123.14,36.51 L122.38,36.48 L121.63,36.44 L120.87,36.4 L120.11,36.35 L119.35,36.29 L118.59,36.22 L117.83,36.14 L117.07,36.05 L116.31,35.95 L115.55,35.83 L114.79,35.69 L114.04,35.53 L113.28,35.34 L112.52,35.1 L111.76,34.77 L111,33.95Z" fill="url(#bumphl)"/></g>
<text x="123.6" y="50.6" font-size="8.6" font-family="Liberation Serif" font-style="italic" fill="#231f20">ν<tspan font-size="4.9" font-family="Liberation Serif" dy="1.6" dx="0.2">(0,0)</tspan></text>
<text x="162.2" y="97.9" font-size="9.75" text-anchor="start" font-weight="normal" fill="#231f20" >FWHM = 10 kHz</text>
<g clip-path="url(#cbp)">
<g fill="#3f7fc8" fill-opacity="0.42"><circle cx="598.47" cy="76.19" r="2.15"/><circle cx="549.37" cy="73.2" r="2.15"/><circle cx="427.21" cy="68.47" r="2.15"/><circle cx="469.17" cy="72.85" r="2.15"/><circle cx="422.45" cy="69.99" r="2.15"/><circle cx="456.82" cy="71.78" r="2.15"/><circle cx="459.35" cy="72.53" r="2.15"/><circle cx="517.1" cy="67.86" r="2.15"/><circle cx="492.04" cy="73.17" r="2.15"/><circle cx="503.03" cy="72.03" r="2.15"/><circle cx="625.24" cy="82.33" r="2.15"/><circle cx="411.25" cy="72.42" r="2.15"/><circle cx="433.31" cy="68.77" r="2.15"/><circle cx="622.8" cy="79.52" r="2.15"/><circle cx="549.14" cy="69.13" r="2.15"/><circle cx="523.56" cy="63.83" r="2.15"/><circle cx="477.41" cy="74.79" r="2.15"/><circle cx="551.38" cy="73.81" r="2.15"/><circle cx="465.1" cy="72.26" r="2.15"/><circle cx="636.4" cy="77.99" r="2.15"/><circle cx="627.17" cy="75.07" r="2.15"/><circle cx="492.08" cy="73.67" r="2.15"/><circle cx="412.09" cy="71.62" r="2.15"/><circle cx="644.28" cy="82.24" r="2.15"/><circle cx="485.84" cy="73.22" r="2.15"/><circle cx="582.2" cy="76.05" r="2.15"/><circle cx="636.34" cy="77.73" r="2.15"/><circle cx="620.26" cy="76.41" r="2.15"/><circle cx="637.51" cy="75.77" r="2.15"/><circle cx="537.08" cy="48.62" r="2.15"/><circle cx="632.08" cy="74.34" r="2.15"/><circle cx="529.55" cy="51.23" r="2.15"/><circle cx="476.47" cy="74.87" r="2.15"/><circle cx="534.88" cy="44.22" r="2.15"/><circle cx="495.72" cy="71.76" r="2.15"/><circle cx="611.86" cy="74.58" r="2.15"/><circle cx="629.23" cy="82.92" r="2.15"/><circle cx="443.47" cy="65.18" r="2.15"/><circle cx="449.73" cy="75.12" r="2.15"/><circle cx="508.7" cy="72.84" r="2.15"/><circle cx="530.12" cy="49.16" r="2.15"/><circle cx="662.75" cy="76.32" r="2.15"/><circle cx="658.82" cy="81.53" r="2.15"/><circle cx="665.63" cy="83.3" r="2.15"/><circle cx="601.8" cy="75.25" r="2.15"/><circle cx="587.67" cy="75.81" r="2.15"/><circle cx="478.24" cy="77.37" r="2.15"/><circle cx="505.74" cy="73.14" r="2.15"/><circle cx="406.22" cy="75.03" r="2.15"/><circle cx="629.56" cy="77.07" r="2.15"/><circle cx="479.77" cy="76.17" r="2.15"/><circle cx="426.83" cy="65.23" r="2.15"/><circle cx="490.39" cy="79.64" r="2.15"/><circle cx="492.43" cy="72.72" r="2.15"/><circle cx="600.25" cy="72.13" r="2.15"/><circle cx="407.04" cy="69.94" r="2.15"/><circle cx="467.37" cy="74.27" r="2.15"/><circle cx="646.65" cy="83.4" r="2.15"/><circle cx="635.46" cy="77.76" r="2.15"/><circle cx="574.71" cy="75.31" r="2.15"/><circle cx="555.86" cy="73" r="2.15"/><circle cx="465.38" cy="78.36" r="2.15"/><circle cx="640.9" cy="78.54" r="2.15"/><circle cx="610.13" cy="80.33" r="2.15"/><circle cx="543.48" cy="62.71" r="2.15"/><circle cx="448.81" cy="70.18" r="2.15"/><circle cx="463.56" cy="74.68" r="2.15"/><circle cx="507.53" cy="71.86" r="2.15"/><circle cx="494.57" cy="72.09" r="2.15"/><circle cx="421.92" cy="72.84" r="2.15"/><circle cx="514.82" cy="65.18" r="2.15"/><circle cx="526.2" cy="59.45" r="2.15"/><circle cx="482.72" cy="77.16" r="2.15"/><circle cx="508.88" cy="71.12" r="2.15"/><circle cx="494.91" cy="72.42" r="2.15"/><circle cx="506.87" cy="71.46" r="2.15"/><circle cx="572.02" cy="76.21" r="2.15"/><circle cx="539.28" cy="54.99" r="2.15"/><circle cx="458.65" cy="75.03" r="2.15"/><circle cx="619.42" cy="80.54" r="2.15"/><circle cx="543.55" cy="60.24" r="2.15"/><circle cx="528.8" cy="52.82" r="2.15"/><circle cx="597.39" cy="73.51" r="2.15"/><circle cx="607.83" cy="79.58" r="2.15"/><circle cx="633.9" cy="78.91" r="2.15"/><circle cx="623.73" cy="77.28" r="2.15"/><circle cx="585.47" cy="79.11" r="2.15"/><circle cx="599.48" cy="79.05" r="2.15"/><circle cx="447.77" cy="63.57" r="2.15"/><circle cx="593.6" cy="77.13" r="2.15"/><circle cx="473.95" cy="71.28" r="2.15"/><circle cx="474.86" cy="77.35" r="2.15"/><circle cx="437.82" cy="72.76" r="2.15"/><circle cx="512.27" cy="68.72" r="2.15"/><circle cx="410.85" cy="70.53" r="2.15"/><circle cx="582.23" cy="75.44" r="2.15"/><circle cx="606.74" cy="78.55" r="2.15"/><circle cx="614.12" cy="79.53" r="2.15"/><circle cx="440.16" cy="70.55" r="2.15"/><circle cx="577.95" cy="73.28" r="2.15"/><circle cx="631" cy="82.25" r="2.15"/><circle cx="415.18" cy="68.23" r="2.15"/><circle cx="457.52" cy="74.97" r="2.15"/><circle cx="477.53" cy="77.62" r="2.15"/><circle cx="529.77" cy="52.31" r="2.15"/><circle cx="451.81" cy="70.25" r="2.15"/><circle cx="550.46" cy="67.13" r="2.15"/><circle cx="498.02" cy="72.88" r="2.15"/><circle cx="581.72" cy="75.87" r="2.15"/><circle cx="548.43" cy="70.22" r="2.15"/><circle cx="590.11" cy="73.65" r="2.15"/><circle cx="471.77" cy="75.84" r="2.15"/><circle cx="595.7" cy="78.64" r="2.15"/><circle cx="603.12" cy="78.9" r="2.15"/><circle cx="599.71" cy="78.52" r="2.15"/><circle cx="423.91" cy="72.89" r="2.15"/><circle cx="660.01" cy="80.22" r="2.15"/><circle cx="560.68" cy="75.15" r="2.15"/><circle cx="478.75" cy="76.21" r="2.15"/><circle cx="522.28" cy="66.22" r="2.15"/><circle cx="544.73" cy="58.86" r="2.15"/><circle cx="544.78" cy="66.57" r="2.15"/><circle cx="472.2" cy="74.11" r="2.15"/><circle cx="476.78" cy="74.16" r="2.15"/><circle cx="503.31" cy="70.7" r="2.15"/><circle cx="615.57" cy="73.55" r="2.15"/><circle cx="523.17" cy="59.91" r="2.15"/><circle cx="415.89" cy="68.83" r="2.15"/><circle cx="527.14" cy="56.3" r="2.15"/><circle cx="459.67" cy="70.84" r="2.15"/><circle cx="408.84" cy="73.73" r="2.15"/><circle cx="668.32" cy="79.85" r="2.15"/><circle cx="484.51" cy="74.25" r="2.15"/><circle cx="550.09" cy="66.89" r="2.15"/><circle cx="501.86" cy="71.52" r="2.15"/><circle cx="419.87" cy="67.87" r="2.15"/><circle cx="647.84" cy="77.52" r="2.15"/><circle cx="657.19" cy="79.01" r="2.15"/><circle cx="455.65" cy="73.81" r="2.15"/><circle cx="517.94" cy="62.91" r="2.15"/><circle cx="506.01" cy="71.62" r="2.15"/><circle cx="450.48" cy="69.64" r="2.15"/><circle cx="583.49" cy="76.54" r="2.15"/><circle cx="615.86" cy="82.52" r="2.15"/><circle cx="609.86" cy="79.33" r="2.15"/><circle cx="587.14" cy="75.73" r="2.15"/><circle cx="410.2" cy="66.43" r="2.15"/><circle cx="467.26" cy="71.21" r="2.15"/><circle cx="543.93" cy="58.14" r="2.15"/><circle cx="594.56" cy="78.85" r="2.15"/><circle cx="509.45" cy="69.3" r="2.15"/><circle cx="526.35" cy="56.56" r="2.15"/><circle cx="631.65" cy="77" r="2.15"/><circle cx="411.83" cy="70.59" r="2.15"/><circle cx="477.75" cy="78.21" r="2.15"/><circle cx="483.49" cy="73.21" r="2.15"/><circle cx="672.56" cy="78.45" r="2.15"/><circle cx="466.71" cy="72.65" r="2.15"/><circle cx="418.17" cy="72.64" r="2.15"/><circle cx="517.53" cy="64.15" r="2.15"/><circle cx="580.22" cy="73.14" r="2.15"/><circle cx="446.77" cy="66.46" r="2.15"/><circle cx="631.38" cy="75.1" r="2.15"/><circle cx="458.35" cy="75.46" r="2.15"/><circle cx="594.95" cy="83.3" r="2.15"/><circle cx="449.03" cy="68.61" r="2.15"/><circle cx="642.68" cy="81.01" r="2.15"/><circle cx="459.66" cy="74.97" r="2.15"/><circle cx="602.24" cy="74.87" r="2.15"/><circle cx="631.11" cy="77.81" r="2.15"/><circle cx="474.08" cy="74.22" r="2.15"/><circle cx="430.47" cy="65.79" r="2.15"/><circle cx="563.17" cy="78.41" r="2.15"/><circle cx="539.74" cy="49.73" r="2.15"/><circle cx="534.44" cy="46.43" r="2.15"/><circle cx="615.68" cy="78.83" r="2.15"/><circle cx="530.08" cy="48.72" r="2.15"/><circle cx="539.2" cy="53.37" r="2.15"/><circle cx="536.57" cy="49.82" r="2.15"/><circle cx="527.78" cy="54.4" r="2.15"/><circle cx="514.64" cy="69.62" r="2.15"/><circle cx="448.78" cy="72.54" r="2.15"/><circle cx="484.94" cy="69.96" r="2.15"/><circle cx="476.76" cy="78.38" r="2.15"/><circle cx="472.26" cy="80.2" r="2.15"/><circle cx="616.08" cy="80.4" r="2.15"/><circle cx="436.18" cy="68.75" r="2.15"/><circle cx="460.76" cy="71.03" r="2.15"/><circle cx="547.11" cy="66.03" r="2.15"/><circle cx="489.57" cy="72.71" r="2.15"/><circle cx="470.1" cy="73.27" r="2.15"/><circle cx="505.94" cy="74.6" r="2.15"/><circle cx="540.54" cy="54.19" r="2.15"/><circle cx="586.9" cy="76.14" r="2.15"/><circle cx="667.03" cy="74.59" r="2.15"/><circle cx="634.86" cy="78.18" r="2.15"/><circle cx="521.17" cy="63.44" r="2.15"/><circle cx="526.99" cy="53.69" r="2.15"/><circle cx="517.33" cy="65.04" r="2.15"/><circle cx="469.77" cy="79.2" r="2.15"/><circle cx="661.52" cy="76.17" r="2.15"/><circle cx="423.97" cy="66.7" r="2.15"/><circle cx="460.63" cy="72.46" r="2.15"/><circle cx="583.57" cy="79.04" r="2.15"/><circle cx="564.09" cy="79.02" r="2.15"/><circle cx="480.46" cy="75.66" r="2.15"/><circle cx="657.54" cy="77.28" r="2.15"/><circle cx="515.64" cy="66.92" r="2.15"/><circle cx="565.89" cy="76.86" r="2.15"/><circle cx="429.99" cy="65.36" r="2.15"/><circle cx="645.15" cy="82.26" r="2.15"/><circle cx="433.21" cy="70.26" r="2.15"/><circle cx="511.5" cy="70.49" r="2.15"/><circle cx="643.72" cy="80.3" r="2.15"/><circle cx="659.7" cy="80.84" r="2.15"/><circle cx="648.67" cy="82.57" r="2.15"/><circle cx="628.12" cy="75.88" r="2.15"/><circle cx="468.26" cy="77.47" r="2.15"/><circle cx="414.07" cy="69.53" r="2.15"/><circle cx="527.04" cy="53.46" r="2.15"/><circle cx="422.5" cy="69.98" r="2.15"/><circle cx="663.88" cy="78.6" r="2.15"/><circle cx="407.7" cy="67.89" r="2.15"/><circle cx="493.05" cy="70.59" r="2.15"/><circle cx="460.19" cy="72.13" r="2.15"/><circle cx="409.18" cy="73.79" r="2.15"/><circle cx="539.75" cy="59.05" r="2.15"/><circle cx="425.96" cy="70.1" r="2.15"/><circle cx="647.58" cy="81.67" r="2.15"/><circle cx="590.47" cy="75.55" r="2.15"/><circle cx="505.03" cy="72.36" r="2.15"/><circle cx="631.88" cy="79.17" r="2.15"/><circle cx="619.85" cy="75.57" r="2.15"/><circle cx="493.31" cy="72.02" r="2.15"/><circle cx="633.4" cy="78.76" r="2.15"/><circle cx="655.51" cy="78.2" r="2.15"/><circle cx="572.25" cy="72.54" r="2.15"/><circle cx="500.13" cy="74.7" r="2.15"/><circle cx="647.76" cy="78.19" r="2.15"/><circle cx="659.13" cy="81.48" r="2.15"/><circle cx="498.92" cy="73.9" r="2.15"/><circle cx="428.71" cy="67.09" r="2.15"/><circle cx="638.94" cy="78.96" r="2.15"/><circle cx="584.33" cy="75.81" r="2.15"/><circle cx="467.91" cy="73.02" r="2.15"/><circle cx="558" cy="71.35" r="2.15"/><circle cx="488.4" cy="76.52" r="2.15"/><circle cx="652.76" cy="80.47" r="2.15"/><circle cx="497.53" cy="77.12" r="2.15"/><circle cx="458.29" cy="70.26" r="2.15"/><circle cx="417.12" cy="69.57" r="2.15"/><circle cx="497.64" cy="73.03" r="2.15"/><circle cx="671.66" cy="79.66" r="2.15"/><circle cx="464.23" cy="73.43" r="2.15"/><circle cx="528.72" cy="51.18" r="2.15"/><circle cx="667" cy="81.05" r="2.15"/><circle cx="407.31" cy="70.68" r="2.15"/><circle cx="484.87" cy="72.04" r="2.15"/><circle cx="626.4" cy="81.56" r="2.15"/><circle cx="431.25" cy="69.67" r="2.15"/><circle cx="655.21" cy="77.58" r="2.15"/><circle cx="630" cy="80.45" r="2.15"/><circle cx="443.98" cy="66.78" r="2.15"/><circle cx="564.84" cy="76.83" r="2.15"/><circle cx="554.93" cy="70.66" r="2.15"/><circle cx="592.1" cy="75" r="2.15"/><circle cx="488.04" cy="73.84" r="2.15"/><circle cx="508.84" cy="69.52" r="2.15"/><circle cx="470.28" cy="75.15" r="2.15"/><circle cx="484.02" cy="75.27" r="2.15"/><circle cx="452.77" cy="73.1" r="2.15"/><circle cx="648.78" cy="77.51" r="2.15"/><circle cx="644.22" cy="69.97" r="2.15"/><circle cx="502.34" cy="73.51" r="2.15"/><circle cx="591.98" cy="72.36" r="2.15"/><circle cx="537.38" cy="49.59" r="2.15"/><circle cx="481.03" cy="77.58" r="2.15"/><circle cx="499.54" cy="74.51" r="2.15"/><circle cx="665.13" cy="78.2" r="2.15"/><circle cx="497.35" cy="73.61" r="2.15"/><circle cx="561.16" cy="72.91" r="2.15"/><circle cx="659.73" cy="77.72" r="2.15"/><circle cx="485.55" cy="73.42" r="2.15"/><circle cx="623.1" cy="76.05" r="2.15"/><circle cx="436.19" cy="69.17" r="2.15"/><circle cx="602.77" cy="77.5" r="2.15"/><circle cx="622.5" cy="80.54" r="2.15"/><circle cx="630.77" cy="77.87" r="2.15"/><circle cx="667.79" cy="79.36" r="2.15"/><circle cx="596.74" cy="76.83" r="2.15"/><circle cx="668.37" cy="80.3" r="2.15"/><circle cx="480.38" cy="76.85" r="2.15"/><circle cx="545.8" cy="65.44" r="2.15"/><circle cx="463.09" cy="72.86" r="2.15"/><circle cx="427.97" cy="66.1" r="2.15"/><circle cx="523.57" cy="64.3" r="2.15"/><circle cx="599.09" cy="76.69" r="2.15"/><circle cx="614.9" cy="77.31" r="2.15"/><circle cx="410.07" cy="73.84" r="2.15"/><circle cx="658.96" cy="81.64" r="2.15"/><circle cx="472.01" cy="76.01" r="2.15"/><circle cx="484.1" cy="73.89" r="2.15"/><circle cx="629.42" cy="84.08" r="2.15"/><circle cx="646.04" cy="79.74" r="2.15"/><circle cx="603.6" cy="78.89" r="2.15"/><circle cx="495.03" cy="73.84" r="2.15"/><circle cx="530" cy="46.83" r="2.15"/><circle cx="630.01" cy="75.25" r="2.15"/><circle cx="501.62" cy="74.44" r="2.15"/><circle cx="622.13" cy="79.18" r="2.15"/><circle cx="615.86" cy="77.46" r="2.15"/><circle cx="531.57" cy="44.9" r="2.15"/><circle cx="646.67" cy="75.34" r="2.15"/><circle cx="508.94" cy="70.54" r="2.15"/><circle cx="607.23" cy="74.23" r="2.15"/><circle cx="577.59" cy="77.78" r="2.15"/><circle cx="494.61" cy="77.05" r="2.15"/><circle cx="548.55" cy="74.35" r="2.15"/><circle cx="568.52" cy="76.78" r="2.15"/><circle cx="549.91" cy="67.06" r="2.15"/><circle cx="435.28" cy="64.33" r="2.15"/><circle cx="672.2" cy="70.98" r="2.15"/><circle cx="665.52" cy="77.72" r="2.15"/><circle cx="415.58" cy="70.05" r="2.15"/><circle cx="659.51" cy="81.36" r="2.15"/><circle cx="548.47" cy="68.97" r="2.15"/><circle cx="439.31" cy="68.63" r="2.15"/><circle cx="626.23" cy="78.86" r="2.15"/><circle cx="521.97" cy="63.88" r="2.15"/><circle cx="597.35" cy="80.75" r="2.15"/><circle cx="628.02" cy="75.84" r="2.15"/><circle cx="550.23" cy="67.58" r="2.15"/><circle cx="418.86" cy="67.23" r="2.15"/><circle cx="626.74" cy="82.25" r="2.15"/><circle cx="592.2" cy="80.04" r="2.15"/><circle cx="650.33" cy="80.68" r="2.15"/><circle cx="478.17" cy="71.97" r="2.15"/><circle cx="616.71" cy="78.48" r="2.15"/><circle cx="640.37" cy="78.12" r="2.15"/><circle cx="501.01" cy="73.79" r="2.15"/><circle cx="515.84" cy="67.36" r="2.15"/><circle cx="495.34" cy="75.47" r="2.15"/><circle cx="407.04" cy="69.3" r="2.15"/><circle cx="467.79" cy="76.67" r="2.15"/><circle cx="494.68" cy="74.86" r="2.15"/><circle cx="434.66" cy="65.85" r="2.15"/><circle cx="611.43" cy="77.62" r="2.15"/><circle cx="520.35" cy="63.07" r="2.15"/><circle cx="558.35" cy="74.37" r="2.15"/><circle cx="482.06" cy="74.21" r="2.15"/><circle cx="502.43" cy="73.97" r="2.15"/><circle cx="608.16" cy="76.82" r="2.15"/><circle cx="531.88" cy="43.68" r="2.15"/><circle cx="565.96" cy="76.49" r="2.15"/><circle cx="519.2" cy="62.71" r="2.15"/><circle cx="555.34" cy="72.99" r="2.15"/><circle cx="646.89" cy="79.82" r="2.15"/><circle cx="477.43" cy="70.86" r="2.15"/><circle cx="545.13" cy="61.71" r="2.15"/><circle cx="590.36" cy="75.54" r="2.15"/><circle cx="428.85" cy="65.82" r="2.15"/><circle cx="664.28" cy="76.29" r="2.15"/><circle cx="539.67" cy="55.91" r="2.15"/><circle cx="471.5" cy="74.14" r="2.15"/><circle cx="610.06" cy="78.76" r="2.15"/><circle cx="624.89" cy="77.28" r="2.15"/><circle cx="575.14" cy="76.12" r="2.15"/><circle cx="651.95" cy="77.1" r="2.15"/><circle cx="429.42" cy="67.6" r="2.15"/><circle cx="547.42" cy="68.02" r="2.15"/><circle cx="605.34" cy="77.76" r="2.15"/><circle cx="652.12" cy="77.81" r="2.15"/><circle cx="578.05" cy="73.05" r="2.15"/><circle cx="567.52" cy="74.95" r="2.15"/><circle cx="509.93" cy="71.79" r="2.15"/><circle cx="559.26" cy="72.06" r="2.15"/><circle cx="554.74" cy="69.25" r="2.15"/><circle cx="648.95" cy="80.15" r="2.15"/><circle cx="627.99" cy="84.35" r="2.15"/><circle cx="603.81" cy="76.86" r="2.15"/><circle cx="654" cy="79.75" r="2.15"/><circle cx="423.3" cy="70.36" r="2.15"/><circle cx="612.53" cy="71.77" r="2.15"/><circle cx="530.21" cy="50.18" r="2.15"/><circle cx="607.74" cy="76.05" r="2.15"/><circle cx="485.17" cy="78.15" r="2.15"/><circle cx="531.21" cy="47.66" r="2.15"/><circle cx="627.31" cy="76.51" r="2.15"/><circle cx="414.96" cy="69.93" r="2.15"/><circle cx="483.81" cy="75.25" r="2.15"/><circle cx="536.9" cy="46.84" r="2.15"/><circle cx="634.55" cy="78.43" r="2.15"/><circle cx="478.14" cy="71.6" r="2.15"/><circle cx="626.91" cy="77.83" r="2.15"/><circle cx="471.28" cy="76.57" r="2.15"/><circle cx="487.05" cy="79.5" r="2.15"/><circle cx="554.48" cy="72.67" r="2.15"/><circle cx="581.4" cy="76.62" r="2.15"/><circle cx="642.24" cy="81.56" r="2.15"/><circle cx="642.08" cy="81.16" r="2.15"/><circle cx="472.79" cy="78.74" r="2.15"/><circle cx="606.07" cy="80.28" r="2.15"/><circle cx="576.31" cy="75.22" r="2.15"/><circle cx="509.37" cy="71.79" r="2.15"/><circle cx="614.26" cy="78.42" r="2.15"/><circle cx="646.93" cy="79.53" r="2.15"/><circle cx="534.4" cy="45.99" r="2.15"/><circle cx="651.93" cy="77.02" r="2.15"/><circle cx="439.83" cy="62.31" r="2.15"/><circle cx="450.21" cy="70.03" r="2.15"/><circle cx="611.07" cy="73.01" r="2.15"/><circle cx="487.69" cy="74.91" r="2.15"/><circle cx="562.96" cy="73.74" r="2.15"/><circle cx="539.21" cy="49.01" r="2.15"/><circle cx="444.72" cy="70.41" r="2.15"/><circle cx="608.39" cy="79.85" r="2.15"/><circle cx="604.95" cy="77.86" r="2.15"/><circle cx="444.56" cy="72.71" r="2.15"/><circle cx="475.38" cy="79.29" r="2.15"/><circle cx="620.86" cy="75.3" r="2.15"/><circle cx="650.89" cy="81.37" r="2.15"/><circle cx="639.55" cy="79.72" r="2.15"/><circle cx="540.5" cy="57.04" r="2.15"/><circle cx="504.33" cy="74.98" r="2.15"/><circle cx="525.27" cy="56.3" r="2.15"/><circle cx="452.95" cy="71.69" r="2.15"/><circle cx="538.92" cy="50.34" r="2.15"/><circle cx="467.61" cy="72.8" r="2.15"/><circle cx="449.06" cy="70.79" r="2.15"/><circle cx="507.89" cy="68.19" r="2.15"/><circle cx="422.7" cy="67.15" r="2.15"/><circle cx="532.03" cy="48.42" r="2.15"/><circle cx="592.76" cy="76.81" r="2.15"/><circle cx="580.73" cy="76.82" r="2.15"/><circle cx="667.84" cy="74.65" r="2.15"/><circle cx="643.78" cy="76.87" r="2.15"/><circle cx="575.98" cy="74.13" r="2.15"/><circle cx="646.96" cy="78.89" r="2.15"/><circle cx="525.06" cy="56.93" r="2.15"/><circle cx="620.4" cy="80.42" r="2.15"/><circle cx="482.03" cy="74.73" r="2.15"/><circle cx="547.18" cy="66.43" r="2.15"/><circle cx="669.08" cy="79.24" r="2.15"/><circle cx="566.58" cy="76.11" r="2.15"/><circle cx="541.83" cy="57.45" r="2.15"/><circle cx="617.29" cy="80.78" r="2.15"/><circle cx="489.52" cy="75.77" r="2.15"/><circle cx="629.05" cy="78.8" r="2.15"/><circle cx="410.49" cy="70.44" r="2.15"/><circle cx="469.59" cy="75.92" r="2.15"/><circle cx="453.18" cy="75.67" r="2.15"/><circle cx="474.73" cy="77.06" r="2.15"/><circle cx="659.85" cy="79.95" r="2.15"/><circle cx="411.93" cy="72.48" r="2.15"/><circle cx="485.86" cy="75.09" r="2.15"/><circle cx="560.01" cy="75.9" r="2.15"/><circle cx="594.63" cy="77.05" r="2.15"/><circle cx="613.65" cy="72.98" r="2.15"/><circle cx="508.6" cy="74.65" r="2.15"/><circle cx="464.73" cy="74.79" r="2.15"/><circle cx="634.78" cy="75.75" r="2.15"/><circle cx="438.34" cy="66.46" r="2.15"/><circle cx="422.99" cy="67.44" r="2.15"/><circle cx="467.79" cy="79.66" r="2.15"/><circle cx="538.01" cy="51.39" r="2.15"/><circle cx="658.94" cy="75.26" r="2.15"/><circle cx="601.56" cy="78.8" r="2.15"/><circle cx="557.21" cy="71.1" r="2.15"/><circle cx="545.71" cy="69.34" r="2.15"/><circle cx="592.03" cy="74.39" r="2.15"/><circle cx="574.02" cy="69.88" r="2.15"/><circle cx="495.97" cy="74.32" r="2.15"/><circle cx="430.44" cy="66.61" r="2.15"/><circle cx="459.55" cy="73.37" r="2.15"/><circle cx="616.05" cy="72.91" r="2.15"/><circle cx="576.17" cy="76.51" r="2.15"/><circle cx="619.94" cy="82.19" r="2.15"/><circle cx="417.47" cy="65.94" r="2.15"/><circle cx="647.82" cy="81.64" r="2.15"/><circle cx="508.33" cy="70.17" r="2.15"/><circle cx="654.64" cy="84.59" r="2.15"/><circle cx="565.43" cy="75.28" r="2.15"/><circle cx="552.73" cy="69.64" r="2.15"/><circle cx="625.56" cy="80.99" r="2.15"/><circle cx="573.74" cy="76.51" r="2.15"/><circle cx="586.96" cy="75.04" r="2.15"/><circle cx="447.89" cy="72.1" r="2.15"/><circle cx="568.1" cy="73.39" r="2.15"/><circle cx="501.4" cy="69.22" r="2.15"/><circle cx="425.83" cy="73.45" r="2.15"/><circle cx="441.33" cy="66.95" r="2.15"/><circle cx="534.57" cy="44.12" r="2.15"/><circle cx="476.11" cy="75.63" r="2.15"/><circle cx="611.37" cy="74.14" r="2.15"/><circle cx="438.43" cy="63.71" r="2.15"/><circle cx="409.22" cy="69.1" r="2.15"/><circle cx="673.69" cy="78.04" r="2.15"/><circle cx="489.69" cy="74.83" r="2.15"/><circle cx="542.63" cy="62.72" r="2.15"/><circle cx="462" cy="73.31" r="2.15"/><circle cx="461.67" cy="75.62" r="2.15"/><circle cx="513.72" cy="70.63" r="2.15"/><circle cx="617.96" cy="75.51" r="2.15"/><circle cx="415.99" cy="71.03" r="2.15"/><circle cx="630.73" cy="76.21" r="2.15"/><circle cx="671.88" cy="81.81" r="2.15"/><circle cx="555.91" cy="72.69" r="2.15"/><circle cx="502.34" cy="73.33" r="2.15"/><circle cx="468.43" cy="71.42" r="2.15"/><circle cx="454.71" cy="74.34" r="2.15"/><circle cx="492.48" cy="72.63" r="2.15"/><circle cx="634.6" cy="80.25" r="2.15"/><circle cx="406.38" cy="69.94" r="2.15"/><circle cx="616.93" cy="76.13" r="2.15"/><circle cx="585.04" cy="78.51" r="2.15"/><circle cx="410.62" cy="72.07" r="2.15"/><circle cx="424.21" cy="67.72" r="2.15"/><circle cx="603.23" cy="80.35" r="2.15"/><circle cx="586.58" cy="75.71" r="2.15"/><circle cx="489.83" cy="73.91" r="2.15"/><circle cx="637.19" cy="78.91" r="2.15"/><circle cx="462.03" cy="72.64" r="2.15"/><circle cx="520.34" cy="63.08" r="2.15"/><circle cx="436.44" cy="66.01" r="2.15"/><circle cx="579.19" cy="79.44" r="2.15"/><circle cx="428.91" cy="71.37" r="2.15"/><circle cx="453.78" cy="72.94" r="2.15"/><circle cx="611.65" cy="81.76" r="2.15"/><circle cx="540.06" cy="54.96" r="2.15"/><circle cx="583.54" cy="77.07" r="2.15"/><circle cx="602.93" cy="79.67" r="2.15"/><circle cx="568.66" cy="75.39" r="2.15"/><circle cx="458.7" cy="80.14" r="2.15"/><circle cx="593.4" cy="77.61" r="2.15"/><circle cx="436.69" cy="63.59" r="2.15"/><circle cx="478.08" cy="77.98" r="2.15"/><circle cx="526.05" cy="55.9" r="2.15"/><circle cx="436.28" cy="65.62" r="2.15"/><circle cx="434.01" cy="59.51" r="2.15"/><circle cx="580.96" cy="78.33" r="2.15"/><circle cx="458.7" cy="63.8" r="2.15"/><circle cx="469" cy="65.2" r="2.15"/><circle cx="550.5" cy="64" r="2.15"/><circle cx="555" cy="62.5" r="2.15"/><circle cx="600.8" cy="65.6" r="2.15"/><circle cx="603" cy="65.5" r="2.15"/></g>
<path d="M481.68,103.77 L482.36,103.45 L483.03,103.12 L483.71,102.79 L484.38,102.46 L485.05,102.12 L485.73,101.78 L486.4,101.43 L487.08,101.08 L487.75,100.72 L488.42,100.36 L489.1,100 L489.77,99.62 L490.45,99.25 L491.12,98.86 L491.8,98.47 L492.47,98.08 L493.14,97.67 L493.82,97.27 L494.49,96.85 L495.17,96.43 L495.84,96 L496.52,95.56 L497.19,95.12 L497.86,94.66 L498.54,94.2 L499.21,93.74 L499.89,93.26 L500.56,92.77 L501.23,92.27 L501.91,91.77 L502.58,91.25 L503.26,90.72 L503.93,90.19 L504.61,89.64 L505.28,89.07 L505.95,88.5 L506.63,87.91 L507.3,87.31 L507.98,86.7 L508.65,86.07 L509.32,85.42 L510,84.76 L510.67,84.08 L511.35,83.38 L512.02,82.67 L512.7,81.93 L513.37,81.17 L514.04,80.39 L514.72,79.59 L515.39,78.76 L516.07,77.91 L516.74,77.02 L517.41,76.11 L518.09,75.17 L518.76,74.2 L519.44,73.19 L520.11,72.14 L520.79,71.05 L521.46,69.93 L522.13,68.76 L522.81,67.54 L523.48,66.27 L524.16,64.96 L524.83,63.59 L525.51,62.17 L526.18,60.7 L526.85,59.18 L527.53,57.62 L528.2,56.02 L528.88,54.41 L529.55,52.81 L530.22,51.25 L530.9,49.78 L531.57,48.47 L532.25,47.4 L532.92,46.63 L533.6,46.24 L534.27,46.28 L534.94,46.81 L535.62,47.79 L536.29,49.12 L536.97,50.7 L537.64,52.41 L538.31,54.2 L538.99,56 L539.66,57.79 L540.34,59.53 L541.01,61.21 L541.69,62.83 L542.36,64.39 L543.03,65.88 L543.71,67.31 L544.38,68.68 L545.06,69.99 L545.73,71.24 L546.4,72.45 L547.08,73.6 L547.75,74.71 L548.43,75.78 L549.1,76.81 L549.78,77.8 L550.45,78.76 L551.12,79.68 L551.8,80.58 L552.47,81.44 L553.15,82.28 L553.82,83.09 L554.49,83.88 L555.17,84.64 L555.84,85.39 L556.52,86.11 L557.19,86.81 L557.87,87.49 L558.54,88.16 L559.21,88.81 L559.89,89.44 L560.56,90.06 L561.24,90.67 L561.91,91.26 L562.59,91.83 L563.26,92.4 L563.93,92.95 L564.61,93.49 L565.28,94.02 L565.96,94.54 L566.63,95.04 L567.3,95.54 L567.98,96.03 L568.65,96.51 L569.33,96.98 L570,97.44 L570.68,97.89 L571.35,98.34 L572.02,98.78 L572.7,99.21 L573.37,99.63 L574.05,100.05 L574.72,100.46 L575.39,100.86 L576.07,101.26 L576.74,101.65 L577.42,102.03 L578.09,102.41 L578.77,102.78 L579.44,103.15 L580.11,103.51 L580.79,103.87" stroke="#f39c1a" stroke-width="1.3" fill="none" stroke-dasharray="5.5,2.2,1.3,2.2"/>
<line x1="405.5" y1="74.6" x2="674.5" y2="77.6" stroke="#2aa655" stroke-width="1.5" stroke-dasharray="4.5,3"/>
<path d="M405.5,73.4 C411.25,73.47 427.58,73.72 440,73.8 C452.42,73.88 470.42,74.1 480,73.9 C489.58,73.7 493.33,73.03 497.5,72.6 C501.67,72.17 502.67,71.83 505,71.3 C507.33,70.77 509.67,70.12 511.5,69.4 C513.33,68.68 514.53,67.95 516,67 C517.47,66.05 518.72,65.27 520.3,63.7 C521.88,62.13 523.9,59.78 525.5,57.6 C527.1,55.42 528.73,52.4 529.9,50.6 C531.07,48.8 531.82,47.58 532.5,46.8 C533.18,46.02 533.48,45.88 534,45.9 C534.52,45.92 534.97,46.22 535.6,46.9 C536.23,47.58 536.85,48.22 537.8,50 C538.75,51.78 539.83,55.03 541.3,57.6 C542.77,60.17 544.55,63.33 546.6,65.4 C548.65,67.47 551.37,68.85 553.6,70 C555.83,71.15 557.67,71.65 560,72.3 C562.33,72.95 563.42,73.37 567.6,73.9 C571.78,74.43 579.7,75.07 585.1,75.5 C590.5,75.93 592.52,76.2 600,76.5 C607.48,76.8 617.58,77.08 630,77.3 C642.42,77.52 667.08,77.72 674.5,77.8" stroke="#1a1616" stroke-width="1.3" fill="none" />
</g>
<circle cx="564.6" cy="22.2" r="2.1" fill="#5b98d6" fill-opacity="0.75"/>
<line x1="559" y1="32.25" x2="570.6" y2="32.25" stroke="#1a1616" stroke-width="1.2" />
<line x1="559" y1="43.2" x2="570.6" y2="43.2" stroke="#f39c1a" stroke-width="1.3" stroke-dasharray="6,3.3,1.3,3"/>
<line x1="559" y1="54.15" x2="571.1" y2="54.15" stroke="#2aa655" stroke-width="1.5" stroke-dasharray="4.4,3.6"/>
<text x="575.9" y="24.6" font-size="9.4" text-anchor="start" font-weight="normal" fill="#231f20" >Measurement</text>
<text x="575.9" y="35.55" font-size="9.4" text-anchor="start" font-weight="normal" fill="#231f20" >Total noise</text>
<text x="575.9" y="46.5" font-size="9.4" text-anchor="start" font-weight="normal" fill="#231f20" >Thermal noise</text>
<text x="575.9" y="57.45" font-size="9.4" text-anchor="start" font-weight="normal" fill="#231f20" >Thermorefractive noise</text>
<rect x="445.3" y="17.6" width="71.2" height="40.6" fill="#fff" stroke="#3c3c3c" stroke-width="1"/>
<rect x="461" y="24.8" width="2.3" height="24" fill="url(#cb)"/>
<text x="456.3" y="25" font-size="7.5" text-anchor="middle" font-weight="normal" fill="#231f20" >1</text>
<text x="456.4" y="51.6" font-size="7.5" text-anchor="middle" font-weight="normal" fill="#231f20" >0</text>
<text transform="translate(452.3,37.45) rotate(-90)" font-size="7.6" text-anchor="middle" fill="#231f20">Disp.</text>
<ellipse cx="489.4" cy="33.35" rx="21.35" ry="6.55" fill="#d2d2d2"/>
<ellipse cx="489.4" cy="33.75" rx="16" ry="4.6" fill="url(#disk)" filter="url(#soft)"/>
<g filter="url(#soft)"><path d="M474,32.54 L474.76,32.23 L475.52,31.87 L476.28,31.47 L477.04,31.01 L477.79,30.52 L478.55,29.98 L479.31,29.4 L480.07,28.79 L480.83,28.16 L481.59,27.52 L482.35,26.89 L483.11,26.27 L483.87,25.69 L484.63,25.16 L485.38,24.68 L486.14,24.29 L486.9,23.98 L487.66,23.77 L488.42,23.66 L489.18,23.66 L489.94,23.77 L490.7,23.98 L491.46,24.29 L492.22,24.68 L492.97,25.16 L493.73,25.69 L494.49,26.27 L495.25,26.89 L496.01,27.52 L496.77,28.16 L497.53,28.79 L498.29,29.4 L499.05,29.98 L499.81,30.52 L500.56,31.01 L501.32,31.47 L502.08,31.87 L502.84,32.23 L503.6,32.54 L503.6,33.95 L502.84,34.77 L502.08,35.1 L501.32,35.34 L500.56,35.53 L499.81,35.69 L499.05,35.83 L498.29,35.95 L497.53,36.05 L496.77,36.14 L496.01,36.22 L495.25,36.29 L494.49,36.35 L493.73,36.4 L492.97,36.44 L492.22,36.48 L491.46,36.51 L490.7,36.53 L489.94,36.54 L489.18,36.55 L488.42,36.55 L487.66,36.54 L486.9,36.53 L486.14,36.51 L485.38,36.48 L484.63,36.44 L483.87,36.4 L483.11,36.35 L482.35,36.29 L481.59,36.22 L480.83,36.14 L480.07,36.05 L479.31,35.95 L478.55,35.83 L477.79,35.69 L477.04,35.53 L476.28,35.34 L475.52,35.1 L474.76,34.77 L474,33.95Z" fill="url(#bump)"/>
<path d="M474,32.54 L474.76,32.23 L475.52,31.87 L476.28,31.47 L477.04,31.01 L477.79,30.52 L478.55,29.98 L479.31,29.4 L480.07,28.79 L480.83,28.16 L481.59,27.52 L482.35,26.89 L483.11,26.27 L483.87,25.69 L484.63,25.16 L485.38,24.68 L486.14,24.29 L486.9,23.98 L487.66,23.77 L488.42,23.66 L489.18,23.66 L489.94,23.77 L490.7,23.98 L491.46,24.29 L492.22,24.68 L492.97,25.16 L493.73,25.69 L494.49,26.27 L495.25,26.89 L496.01,27.52 L496.77,28.16 L497.53,28.79 L498.29,29.4 L499.05,29.98 L499.81,30.52 L500.56,31.01 L501.32,31.47 L502.08,31.87 L502.84,32.23 L503.6,32.54 L503.6,33.95 L502.84,34.77 L502.08,35.1 L501.32,35.34 L500.56,35.53 L499.81,35.69 L499.05,35.83 L498.29,35.95 L497.53,36.05 L496.77,36.14 L496.01,36.22 L495.25,36.29 L494.49,36.35 L493.73,36.4 L492.97,36.44 L492.22,36.48 L491.46,36.51 L490.7,36.53 L489.94,36.54 L489.18,36.55 L488.42,36.55 L487.66,36.54 L486.9,36.53 L486.14,36.51 L485.38,36.48 L484.63,36.44 L483.87,36.4 L483.11,36.35 L482.35,36.29 L481.59,36.22 L480.83,36.14 L480.07,36.05 L479.31,35.95 L478.55,35.83 L477.79,35.69 L477.04,35.53 L476.28,35.34 L475.52,35.1 L474.76,34.77 L474,33.95Z" fill="url(#bumphl)"/></g>
<text x="491.2" y="50.6" font-size="8.6" font-family="Liberation Serif" font-style="italic" fill="#231f20">ν<tspan font-size="4.9" font-family="Liberation Serif" dy="1.6" dx="0.2">(0,0)</tspan></text>
<text x="501.5" y="99.6" font-size="9.6" text-anchor="start" font-weight="normal" fill="#231f20" >FWHM = 2 kHz</text>
<line x1="55.5" y1="129" x2="323.7" y2="129" stroke="#4e4e4e" stroke-width="1" />
<line x1="323.7" y1="129" x2="323.7" y2="272.3" stroke="#4e4e4e" stroke-width="1" />
<line x1="55.5" y1="272.3" x2="323.7" y2="272.3" stroke="#3c3c3c" stroke-width="1" />
<line x1="55.5" y1="129" x2="55.5" y2="272.3" stroke="#3c3c3c" stroke-width="1" />
<line x1="52.5" y1="271.97" x2="55.5" y2="271.97" stroke="#3c3c3c" stroke-width="1" />
<line x1="52.5" y1="257.7" x2="55.5" y2="257.7" stroke="#3c3c3c" stroke-width="1" />
<line x1="52.5" y1="243.42" x2="55.5" y2="243.42" stroke="#3c3c3c" stroke-width="1" />
<line x1="52.5" y1="229.15" x2="55.5" y2="229.15" stroke="#3c3c3c" stroke-width="1" />
<line x1="52.5" y1="214.88" x2="55.5" y2="214.88" stroke="#3c3c3c" stroke-width="1" />
<line x1="52.5" y1="200.6" x2="55.5" y2="200.6" stroke="#3c3c3c" stroke-width="1" />
<line x1="52.5" y1="186.32" x2="55.5" y2="186.32" stroke="#3c3c3c" stroke-width="1" />
<line x1="52.5" y1="172.05" x2="55.5" y2="172.05" stroke="#3c3c3c" stroke-width="1" />
<line x1="52.5" y1="157.78" x2="55.5" y2="157.78" stroke="#3c3c3c" stroke-width="1" />
<line x1="52.5" y1="143.5" x2="55.5" y2="143.5" stroke="#3c3c3c" stroke-width="1" />
<line x1="75.3" y1="272.3" x2="75.3" y2="275.3" stroke="#3c3c3c" stroke-width="1" />
<line x1="116.73" y1="272.3" x2="116.73" y2="275.3" stroke="#3c3c3c" stroke-width="1" />
<line x1="158.16" y1="272.3" x2="158.16" y2="275.3" stroke="#3c3c3c" stroke-width="1" />
<line x1="199.59" y1="272.3" x2="199.59" y2="275.3" stroke="#3c3c3c" stroke-width="1" />
<line x1="241.02" y1="272.3" x2="241.02" y2="275.3" stroke="#3c3c3c" stroke-width="1" />
<line x1="282.45" y1="272.3" x2="282.45" y2="275.3" stroke="#3c3c3c" stroke-width="1" />
<line x1="323.88" y1="272.3" x2="323.88" y2="275.3" stroke="#3c3c3c" stroke-width="1" />
<text x="47.9" y="262" font-size="10.9" text-anchor="end" font-weight="normal" fill="#231f20" >0</text>
<text x="47.9" y="233.45" font-size="10.9" text-anchor="end" font-weight="normal" fill="#231f20" >10</text>
<text x="47.9" y="204.9" font-size="10.9" text-anchor="end" font-weight="normal" fill="#231f20" >20</text>
<text x="47.9" y="176.35" font-size="10.9" text-anchor="end" font-weight="normal" fill="#231f20" >30</text>
<text x="47.9" y="147.8" font-size="10.9" text-anchor="end" font-weight="normal" fill="#231f20" >40</text>
<text transform="translate(25.6,200.3) rotate(-90)" font-size="11.05" text-anchor="middle" fill="#231f20">Response (dBm Pa<tspan font-size="7.5" dy="-4.2">−2</tspan><tspan dy="4.2">)</tspan></text>
<text x="-0.5" y="132.7" font-size="15.8" text-anchor="start" font-weight="bold" fill="#231f20" >c</text>
<line x1="406.5" y1="128.5" x2="675.5" y2="128.5" stroke="#4e4e4e" stroke-width="1" />
<line x1="675.5" y1="128.5" x2="675.5" y2="272" stroke="#4e4e4e" stroke-width="1" />
<line x1="406.5" y1="272" x2="675.5" y2="272" stroke="#3c3c3c" stroke-width="1" />
<line x1="406.5" y1="128.5" x2="406.5" y2="272" stroke="#3c3c3c" stroke-width="1" />
<line x1="403.5" y1="272.14" x2="406.5" y2="272.14" stroke="#3c3c3c" stroke-width="1" />
<line x1="403.5" y1="257.8" x2="406.5" y2="257.8" stroke="#3c3c3c" stroke-width="1" />
<line x1="403.5" y1="243.46" x2="406.5" y2="243.46" stroke="#3c3c3c" stroke-width="1" />
<line x1="403.5" y1="229.12" x2="406.5" y2="229.12" stroke="#3c3c3c" stroke-width="1" />
<line x1="403.5" y1="214.79" x2="406.5" y2="214.79" stroke="#3c3c3c" stroke-width="1" />
<line x1="403.5" y1="200.45" x2="406.5" y2="200.45" stroke="#3c3c3c" stroke-width="1" />
<line x1="403.5" y1="186.11" x2="406.5" y2="186.11" stroke="#3c3c3c" stroke-width="1" />
<line x1="403.5" y1="171.77" x2="406.5" y2="171.77" stroke="#3c3c3c" stroke-width="1" />
<line x1="403.5" y1="157.44" x2="406.5" y2="157.44" stroke="#3c3c3c" stroke-width="1" />
<line x1="403.5" y1="143.1" x2="406.5" y2="143.1" stroke="#3c3c3c" stroke-width="1" />
<line x1="406.3" y1="272" x2="406.3" y2="275" stroke="#3c3c3c" stroke-width="1" />
<line x1="433.17" y1="272" x2="433.17" y2="275" stroke="#3c3c3c" stroke-width="1" />
<line x1="460.04" y1="272" x2="460.04" y2="275" stroke="#3c3c3c" stroke-width="1" />
<line x1="486.91" y1="272" x2="486.91" y2="275" stroke="#3c3c3c" stroke-width="1" />
<line x1="513.78" y1="272" x2="513.78" y2="275" stroke="#3c3c3c" stroke-width="1" />
<line x1="540.65" y1="272" x2="540.65" y2="275" stroke="#3c3c3c" stroke-width="1" />
<line x1="567.52" y1="272" x2="567.52" y2="275" stroke="#3c3c3c" stroke-width="1" />
<line x1="594.39" y1="272" x2="594.39" y2="275" stroke="#3c3c3c" stroke-width="1" />
<line x1="621.26" y1="272" x2="621.26" y2="275" stroke="#3c3c3c" stroke-width="1" />
<line x1="648.13" y1="272" x2="648.13" y2="275" stroke="#3c3c3c" stroke-width="1" />
<line x1="675" y1="272" x2="675" y2="275" stroke="#3c3c3c" stroke-width="1" />
<text x="398.9" y="262.1" font-size="10.9" text-anchor="end" font-weight="normal" fill="#231f20" >0</text>
<text x="398.9" y="233.43" font-size="10.9" text-anchor="end" font-weight="normal" fill="#231f20" >10</text>
<text x="398.9" y="204.75" font-size="10.9" text-anchor="end" font-weight="normal" fill="#231f20" >20</text>
<text x="398.9" y="176.07" font-size="10.9" text-anchor="end" font-weight="normal" fill="#231f20" >30</text>
<text x="398.9" y="147.4" font-size="10.9" text-anchor="end" font-weight="normal" fill="#231f20" >40</text>
<text transform="translate(377.2,200.2) rotate(-90)" font-size="11.05" text-anchor="middle" fill="#231f20">Response (dBm Pa<tspan font-size="7.5" dy="-4.2">−2</tspan><tspan dy="4.2">)</tspan></text>
<text x="349.4" y="132.9" font-size="15.8" text-anchor="start" font-weight="bold" fill="#231f20" >d</text>
<g clip-path="url(#cc)">
<path d="M55,255.1 C55.78,254.52 58.43,251.8 59.7,251.6 C60.97,251.4 61.43,254.38 62.6,253.9 C63.77,253.42 65.43,248.98 66.7,248.7 C67.97,248.42 69.03,251.13 70.2,252.2 C71.37,253.27 72.43,255.1 73.7,255.1 C74.97,255.1 76.53,252.3 77.8,252.2 C79.07,252.1 80.13,254.6 81.3,254.5 C82.47,254.4 83.35,252.18 84.8,251.6 C86.25,251.02 88.45,251.2 90,251 C91.55,250.8 92.83,249.92 94.1,250.4 C95.37,250.88 96.33,253.7 97.6,253.9 C98.87,254.1 100.43,251.2 101.7,251.6 C102.97,252 104.03,256 105.2,256.3 C106.37,256.6 107.53,253.98 108.7,253.4 C109.87,252.82 111.03,251.93 112.2,252.8 C113.37,253.67 114.53,258.6 115.7,258.6 C116.87,258.6 117.63,252.32 119.2,252.8 C120.77,253.28 123.35,260.63 125.1,261.5 C126.85,262.37 128.33,257.38 129.7,258 C131.07,258.62 131.92,264.88 133.3,265.2 C134.68,265.52 136.22,259.95 138,259.9 C139.78,259.85 142.33,265.73 144,264.9 C145.67,264.07 146.67,256.23 148,254.9 C149.33,253.57 150.67,257.57 152,256.9 C153.33,256.23 154.67,252.23 156,250.9 C157.33,249.57 159,250.07 160,248.9 C161,247.73 161.18,245.4 162,243.9 C162.82,242.4 163.92,240.9 164.9,239.9 C165.88,238.9 166.73,238.9 167.9,237.9 C169.07,236.9 170.57,235.4 171.9,233.9 C173.23,232.4 174.57,230.07 175.9,228.9 C177.23,227.73 178.57,227.9 179.9,226.9 C181.23,225.9 182.57,224.57 183.9,222.9 C185.23,221.23 186.57,217.57 187.9,216.9 C189.23,216.23 190.57,219.23 191.9,218.9 C193.23,218.57 194.57,215.8 195.9,214.9 C197.23,214 198.4,213.6 199.9,213.5 C201.4,213.4 203.57,213.73 204.9,214.3 C206.23,214.87 206.73,215.8 207.9,216.9 C209.07,218 210.57,219.9 211.9,220.9 C213.23,221.9 214.57,222.23 215.9,222.9 C217.23,223.57 218.57,224.07 219.9,224.9 C221.23,225.73 222.58,226.57 223.9,227.9 C225.22,229.23 226.48,231.9 227.8,232.9 C229.12,233.9 230.47,233.23 231.8,233.9 C233.13,234.57 234.43,236.15 235.8,236.9 C237.17,237.65 238.97,238.03 240,238.4 C241.03,238.77 241.35,237.78 242,239.1 C242.65,240.42 242.92,244.78 243.9,246.3 C244.88,247.82 246.58,247.65 247.9,248.2 C249.22,248.75 250.7,248.72 251.8,249.6 C252.9,250.48 253.62,252.97 254.5,253.5 C255.38,254.03 256.23,253.45 257.1,252.8 C257.97,252.15 258.83,249.37 259.7,249.6 C260.57,249.83 261.42,253 262.3,254.2 C263.18,255.4 264.12,256.48 265,256.8 C265.88,257.12 266.73,256.65 267.6,256.1 C268.47,255.55 269.33,253.5 270.2,253.5 C271.07,253.5 272.03,255.67 272.8,256.1 C273.57,256.53 274.13,256.75 274.8,256.1 C275.47,255.45 276.03,252.63 276.8,252.2 C277.57,251.77 278.53,253.07 279.4,253.5 C280.27,253.93 281.12,254.47 282,254.8 C282.88,255.13 283.82,255.83 284.7,255.5 C285.58,255.17 286.43,253.35 287.3,252.8 C288.17,252.25 288.8,252.52 289.9,252.2 C291,251.88 292.8,250.9 293.9,250.9 C295,250.9 295.52,252.2 296.5,252.2 C297.48,252.2 298.7,250.8 299.8,250.9 C300.9,251 301.9,252.7 303.1,252.8 C304.3,252.9 305.58,252.37 307,251.5 C308.42,250.63 310.28,247.48 311.6,247.6 C312.92,247.72 313.92,251.77 314.9,252.2 C315.88,252.63 316.4,250.42 317.5,250.2 C318.6,249.98 320.4,250.47 321.5,250.9 C322.6,251.33 323.67,252.48 324.1,252.8" stroke="#b5424f" stroke-width="4.6" fill="none" stroke-linecap="round" stroke-linejoin="round"/>
<path d="M55.5,271.6 C58.75,270.92 68.47,268.98 75,267.5 C81.53,266.02 88.03,264.28 94.7,262.7 C101.37,261.12 108.28,259.75 115,258 C121.72,256.25 129.17,254.03 135,252.2 C140.83,250.37 145.5,248.72 150,247 C154.5,245.28 158.33,243.73 162,241.9 C165.67,240.07 169,238 172,236 C175,234 177.02,232.42 180,229.9 C182.98,227.38 187.23,223.22 189.9,220.9 C192.57,218.58 194.17,217.1 196,216 C197.83,214.9 199.23,214.3 200.9,214.3 C202.57,214.3 204.15,215.02 206,216 C207.85,216.98 209.35,218.22 212,220.2 C214.65,222.18 217.93,224.95 221.9,227.9 C225.87,230.85 232.78,235.68 235.8,237.9 C238.82,240.12 237.63,239.55 240,241.2 C242.37,242.85 246,245.73 250,247.8 C254,249.87 259.1,251.77 264,253.6 C268.9,255.43 273.4,257.02 279.4,258.8 C285.4,260.58 292.6,262.48 300,264.3 C307.4,266.12 319.83,268.8 323.8,269.7" stroke="#1e1213" stroke-width="1.2" fill="none" />
</g>
<circle cx="213.9" cy="137.2" r="2.1" fill="#c26a76"/>
<line x1="207.2" y1="149.6" x2="218.5" y2="149.6" stroke="#1a1616" stroke-width="1.2" />
<text x="223.8" y="140.2" font-size="9.45" text-anchor="start" font-weight="normal" fill="#231f20" >Measurement</text>
<text x="223.8" y="152.2" font-size="9.45" text-anchor="start" font-weight="normal" fill="#231f20" >Theoretical response</text>
<rect x="87.6" y="136.4" width="115.3" height="65.7" fill="#fff"/>
<path d="M87.6,191.63 L87.99,191.64 L88.37,191.52 L88.76,191.02 L89.14,192.17 L89.53,191.54 L89.91,191.68 L90.3,191.95 L90.68,191.46 L91.07,191.93 L91.46,191.27 L91.84,191.95 L92.23,192.07 L92.61,191.63 L93,191.9 L93.38,191.92 L93.77,191.1 L94.16,191.42 L94.54,190.96 L94.93,191.14 L95.31,192.04 L95.7,191.77 L96.08,191.75 L96.47,191.34 L96.85,191.97 L97.24,192.1 L97.63,191.64 L98.01,191.75 L98.4,191.39 L98.78,191.5 L99.17,191.43 L99.55,191.94 L99.94,191.77 L100.33,191.92 L100.71,192.12 L101.1,191.61 L101.48,191.33 L101.87,192.12 L102.25,192.09 L102.64,191.42 L103.02,192.05 L103.41,192.18 L103.8,191.91 L104.18,191.92 L104.57,191.21 L104.95,192.16 L105.34,191.9 L105.72,192 L106.11,191.45 L106.5,191.36 L106.88,191.14 L107.27,192.03 L107.65,191.88 L108.04,190.72 L108.42,191.77 L108.81,191.59 L109.19,191.64 L109.58,191.61 L109.97,191.16 L110.35,190.37 L110.74,191.97 L111.12,191.7 L111.51,191.81 L111.89,190.93 L112.28,192 L112.67,191.35 L113.05,191.48 L113.44,191.23 L113.82,191.2 L114.21,191.17 L114.59,191.84 L114.98,192.04 L115.36,192.08 L115.75,191.72 L116.14,191.12 L116.52,191.74 L116.91,191.85 L117.29,191.94 L117.68,191.47 L118.06,191.85 L118.45,191.68 L118.84,191.38 L119.22,191.84 L119.61,190.67 L119.99,191.84 L120.38,192.11 L120.76,191.58 L121.15,191.53 L121.53,191.74 L121.92,191.01 L122.31,191.74 L122.69,191.2 L123.08,191.39 L123.46,191.52 L123.85,191.63 L124.23,191.2 L124.62,189.49 L125.01,191.08 L125.39,191.04 L125.78,190.84 L126.16,190.94 L126.55,190.57 L126.93,190.85 L127.32,190.38 L127.7,190.6 L128.09,190.83 L128.48,190.18 L128.86,189.8 L129.25,189.75 L129.63,190.3 L130.02,190.48 L130.4,189.71 L130.79,189.6 L131.17,190 L131.56,189.67 L131.95,189.04 L132.33,188.35 L132.72,189.01 L133.1,189.6 L133.49,188.83 L133.87,189.28 L134.26,188.13 L134.65,188.79 L135.03,188.71 L135.42,189.08 L135.8,188.68 L136.19,188.26 L136.57,188.09 L136.96,188.51 L137.34,188.25 L137.73,187.9 L138.12,188.06 L138.5,187.58 L138.89,186.83 L139.27,187.64 L139.66,186.55 L140.04,187.06 L140.43,187.29 L140.82,186.76 L141.2,186.55 L141.59,187.26 L141.97,186.78 L142.36,186.25 L142.74,186.2 L143.13,186.35 L143.51,186.7 L143.9,186.41 L144.29,186.14 L144.67,185.18 L145.06,185.19 L145.44,185.81 L145.83,185.78 L146.21,185.24 L146.6,184.65 L146.99,184.76 L147.37,185.21 L147.76,185.23 L148.14,184.56 L148.53,185.02 L148.91,184.43 L149.3,185.44 L149.68,185.41 L150.07,185.01 L150.46,185.78 L150.84,186.21 L151.23,185.95 L151.61,185.43 L152,185.84 L152.38,186.46 L152.77,186.78 L153.16,186.82 L153.54,186.82 L153.93,187.18 L154.31,187.32 L154.7,186.9 L155.08,186.23 L155.47,187.51 L155.85,187.34 L156.24,187.68 L156.63,188.07 L157.01,187.52 L157.4,187.74 L157.78,188.58 L158.17,188.69 L158.55,188.44 L158.94,188.68 L159.33,188.99 L159.71,188.56 L160.1,189.36 L160.48,188.19 L160.87,189.16 L161.25,188.93 L161.64,188.9 L162.02,188.93 L162.41,189.52 L162.8,188.8 L163.18,190.24 L163.57,190.26 L163.95,190.38 L164.34,190.23 L164.72,190.72 L165.11,190.74 L165.49,190.07 L165.88,190.56 L166.27,190.44 L166.65,190.71 L167.04,190.87 L167.42,190.69 L167.81,190.8 L168.19,190.88 L168.58,191.38 L168.97,190.57 L169.35,191.01 L169.74,191.81 L170.12,191.84 L170.51,190.98 L170.89,191.66 L171.28,191.41 L171.66,191.87 L172.05,191.69 L172.44,191.59 L172.82,191.51 L173.21,191.51 L173.59,191.65 L173.98,192.16 L174.36,191.48 L174.75,191.74 L175.14,191.68 L175.52,191.62 L175.91,191.11 L176.29,191.39 L176.68,190.38 L177.06,191.18 L177.45,191.49 L177.83,192.1 L178.22,191.77 L178.61,192.1 L178.99,191.71 L179.38,192.09 L179.76,191.53 L180.15,192.17 L180.53,191.75 L180.92,190.32 L181.31,191.63 L181.69,191.62 L182.08,191.5 L182.46,191.89 L182.85,191.05 L183.23,191.69 L183.62,191.68 L184,191.58 L184.39,191.9 L184.78,191.65 L185.16,191.26 L185.55,191.38 L185.93,192.15 L186.32,192.05 L186.7,191.41 L187.09,191.76 L187.48,191.46 L187.86,192.02 L188.25,192.2 L188.63,190.79 L189.02,191.3 L189.4,191.68 L189.79,191.22 L190.17,192.06 L190.56,191.67 L190.95,191.91 L191.33,191.94 L191.72,191.74 L192.1,191.52 L192.49,191.96 L192.87,192.04 L193.26,191.97 L193.65,191.81 L194.03,191.97 L194.42,191.62 L194.8,191 L195.19,192.02 L195.57,192.19 L195.96,191.17 L196.34,191.48 L196.73,192.14 L197.12,191.82 L197.5,191.45 L197.89,191.75 L198.27,190.62 L198.66,191.35 L199.04,190.87 L199.43,191.72 L199.82,191.62 L200.2,191.51 L200.59,192.06 L200.97,192.01 L201.36,191.77 L201.74,190.96 L202.13,191.95 L202.51,191.58 L202.9,191.78 L202.9,197.23 L202.51,197.29 L202.13,198.13 L201.74,196.82 L201.36,197.13 L200.97,197.37 L200.59,196.99 L200.2,196.96 L199.82,197.03 L199.43,198.38 L199.04,197.18 L198.66,197.62 L198.27,197.18 L197.89,197.59 L197.5,196.9 L197.12,196.95 L196.73,197.29 L196.34,197.6 L195.96,197.86 L195.57,197.49 L195.19,196.84 L194.8,198.07 L194.42,197.16 L194.03,197.41 L193.65,197.6 L193.26,197.93 L192.87,197.06 L192.49,197.16 L192.1,196.85 L191.72,197.54 L191.33,197.24 L190.95,197 L190.56,196.82 L190.17,197.06 L189.79,197.59 L189.4,197.6 L189.02,196.88 L188.63,197.07 L188.25,196.88 L187.86,197.56 L187.48,197.91 L187.09,197 L186.7,197.51 L186.32,196.91 L185.93,197.4 L185.55,198.78 L185.16,197.1 L184.78,197.84 L184.39,197.69 L184,197.04 L183.62,196.84 L183.23,196.97 L182.85,197.41 L182.46,197.38 L182.08,197.38 L181.69,197.84 L181.31,197.28 L180.92,196.98 L180.53,198.53 L180.15,197.36 L179.76,197.07 L179.38,196.82 L178.99,196.83 L178.61,197.15 L178.22,196.88 L177.83,197.37 L177.45,197.88 L177.06,197.91 L176.68,197.89 L176.29,196.82 L175.91,197.68 L175.52,197.61 L175.14,197.28 L174.75,197.36 L174.36,197.56 L173.98,197.71 L173.59,196.87 L173.21,197.35 L172.82,197.07 L172.44,196.91 L172.05,198.83 L171.66,197.38 L171.28,197 L170.89,198.28 L170.51,197.8 L170.12,198.17 L169.74,196.7 L169.35,196.61 L168.97,198.66 L168.58,196.72 L168.19,196.63 L167.81,196.95 L167.42,198.61 L167.04,196.02 L166.65,197.52 L166.27,195.77 L165.88,196.46 L165.49,195.9 L165.11,195.67 L164.72,196.12 L164.34,195.55 L163.95,195.64 L163.57,195.3 L163.18,195.43 L162.8,195.61 L162.41,195.35 L162.02,195.66 L161.64,194.61 L161.25,194.47 L160.87,194.58 L160.48,195.06 L160.1,194.5 L159.71,194.25 L159.33,193.81 L158.94,194.05 L158.55,195.16 L158.17,193.67 L157.78,194.98 L157.4,194.22 L157.01,193.84 L156.63,193.21 L156.24,192.79 L155.85,194.4 L155.47,194.1 L155.08,192.37 L154.7,192.67 L154.31,192.21 L153.93,192.14 L153.54,191.82 L153.16,192.08 L152.77,192.13 L152.38,192.28 L152,192.36 L151.61,191.23 L151.23,192.24 L150.84,191.78 L150.46,190.81 L150.07,190.67 L149.68,190.95 L149.3,190.81 L148.91,190.17 L148.53,190.32 L148.14,190.48 L147.76,190.2 L147.37,190.64 L146.99,190.47 L146.6,190.51 L146.21,191.51 L145.83,192.14 L145.44,191.38 L145.06,190.94 L144.67,191.06 L144.29,192.99 L143.9,191.98 L143.51,193.42 L143.13,192.62 L142.74,191.99 L142.36,192.13 L141.97,191.94 L141.59,192.21 L141.2,193.2 L140.82,192.82 L140.43,193.57 L140.04,193.55 L139.66,193.26 L139.27,192.72 L138.89,193.51 L138.5,192.89 L138.12,193.48 L137.73,193.66 L137.34,193.29 L136.96,193.79 L136.57,194.32 L136.19,194.15 L135.8,194.43 L135.42,194.63 L135.03,194.21 L134.65,194.42 L134.26,194.26 L133.87,195.5 L133.49,195.09 L133.1,195.96 L132.72,194.83 L132.33,195.71 L131.95,194.86 L131.56,194.84 L131.17,195.28 L130.79,195.92 L130.4,195.69 L130.02,195.36 L129.63,196.89 L129.25,195.79 L128.86,195.62 L128.48,195.68 L128.09,195.61 L127.7,195.88 L127.32,197.03 L126.93,197.66 L126.55,197.38 L126.16,196.28 L125.78,196.35 L125.39,197.28 L125.01,196.43 L124.62,197.76 L124.23,197.31 L123.85,197.43 L123.46,196.88 L123.08,197.34 L122.69,197.04 L122.31,197.53 L121.92,197.78 L121.53,197.66 L121.15,197.57 L120.76,196.95 L120.38,196.91 L119.99,197.28 L119.61,197.22 L119.22,198.43 L118.84,196.81 L118.45,197.09 L118.06,197.05 L117.68,197.98 L117.29,196.87 L116.91,198.14 L116.52,196.81 L116.14,196.85 L115.75,197.38 L115.36,197.4 L114.98,197.25 L114.59,197.77 L114.21,197.49 L113.82,198.37 L113.44,197.17 L113.05,197.02 L112.67,197.11 L112.28,197.75 L111.89,196.99 L111.51,197.05 L111.12,197.89 L110.74,197.35 L110.35,197.47 L109.97,197.56 L109.58,197.97 L109.19,196.82 L108.81,197.11 L108.42,196.97 L108.04,197 L107.65,197.83 L107.27,198.5 L106.88,197.55 L106.5,197.26 L106.11,197.72 L105.72,197.2 L105.34,197.23 L104.95,197.48 L104.57,196.84 L104.18,197.59 L103.8,197.36 L103.41,197.57 L103.02,197.37 L102.64,196.86 L102.25,197.33 L101.87,197.42 L101.48,196.84 L101.1,198.01 L100.71,197.07 L100.33,197.73 L99.94,197.87 L99.55,196.93 L99.17,197.09 L98.78,197.69 L98.4,197.6 L98.01,197.02 L97.63,197.7 L97.24,197.45 L96.85,197.52 L96.47,197.09 L96.08,196.98 L95.7,197.53 L95.31,198.05 L94.93,197.95 L94.54,198.87 L94.16,198.88 L93.77,198.12 L93.38,197.35 L93,197.35 L92.61,198.97 L92.23,198.04 L91.84,197.29 L91.46,198.16 L91.07,197.4 L90.68,197.39 L90.3,197.21 L89.91,197.12 L89.53,196.95 L89.14,196.85 L88.76,196.88 L88.37,197.17 L87.99,196.92 L87.6,197.37Z" fill="#b9b9b9"/>
<g stroke="#c4c4c4" stroke-width="0.5"><line x1="146.37" y1="183.97" x2="146.37" y2="191.68"/><line x1="155.18" y1="187.43" x2="155.18" y2="192.54"/><line x1="174.46" y1="191.11" x2="174.46" y2="198.24"/><line x1="121.58" y1="190.37" x2="121.58" y2="197.51"/><line x1="196.13" y1="191.02" x2="196.13" y2="197.77"/><line x1="159.91" y1="188.87" x2="159.91" y2="194.03"/><line x1="184.59" y1="191.01" x2="184.59" y2="197.76"/><line x1="142.62" y1="185.29" x2="142.62" y2="192.07"/><line x1="96.23" y1="190.45" x2="96.23" y2="197.36"/><line x1="89.48" y1="190.98" x2="89.48" y2="198.1"/><line x1="161.28" y1="189.21" x2="161.28" y2="196.07"/><line x1="136.81" y1="186.82" x2="136.81" y2="195.1"/><line x1="138.45" y1="187.98" x2="138.45" y2="194.08"/><line x1="125.36" y1="190.11" x2="125.36" y2="197.75"/><line x1="108.48" y1="191.56" x2="108.48" y2="197.11"/><line x1="142.24" y1="185.5" x2="142.24" y2="192.32"/><line x1="117.22" y1="191.79" x2="117.22" y2="197.06"/><line x1="190.14" y1="190.8" x2="190.14" y2="197.81"/><line x1="108.53" y1="190.63" x2="108.53" y2="198.27"/><line x1="198.71" y1="191.9" x2="198.71" y2="198.49"/><line x1="186.43" y1="190.4" x2="186.43" y2="198.49"/><line x1="131.95" y1="188.44" x2="131.95" y2="195.4"/><line x1="176.44" y1="191.48" x2="176.44" y2="198.45"/><line x1="154.48" y1="186.52" x2="154.48" y2="193.06"/><line x1="141.36" y1="185.95" x2="141.36" y2="193.31"/><line x1="180.91" y1="190.72" x2="180.91" y2="197.96"/><line x1="183.06" y1="191.04" x2="183.06" y2="198.2"/><line x1="111.13" y1="191.23" x2="111.13" y2="197.35"/><line x1="191.66" y1="190.35" x2="191.66" y2="198.34"/><line x1="91.77" y1="190.68" x2="91.77" y2="197.19"/><line x1="88.73" y1="191.82" x2="88.73" y2="198.47"/><line x1="143.38" y1="184.93" x2="143.38" y2="192"/><line x1="122.54" y1="190.68" x2="122.54" y2="196.78"/><line x1="136.41" y1="187.89" x2="136.41" y2="194.76"/><line x1="142.85" y1="186.08" x2="142.85" y2="193.07"/><line x1="141.63" y1="185.51" x2="141.63" y2="192.29"/><line x1="191.87" y1="190.73" x2="191.87" y2="197.54"/><line x1="193.05" y1="191.6" x2="193.05" y2="197.49"/><line x1="127.67" y1="189.95" x2="127.67" y2="197.29"/><line x1="120.97" y1="190.6" x2="120.97" y2="196.91"/><line x1="162.85" y1="189.83" x2="162.85" y2="196.62"/><line x1="110.78" y1="190.95" x2="110.78" y2="197.94"/><line x1="133.87" y1="188.65" x2="133.87" y2="195.66"/><line x1="170.16" y1="190.79" x2="170.16" y2="197.75"/><line x1="88.75" y1="191.48" x2="88.75" y2="198.22"/><line x1="176.32" y1="191.54" x2="176.32" y2="197.13"/><line x1="171.98" y1="190.88" x2="171.98" y2="198.31"/><line x1="132.36" y1="189.14" x2="132.36" y2="195.15"/><line x1="116.43" y1="191.65" x2="116.43" y2="197.93"/><line x1="149.83" y1="184.26" x2="149.83" y2="190.78"/><line x1="121.89" y1="190.93" x2="121.89" y2="197.76"/><line x1="181.95" y1="191.72" x2="181.95" y2="197.8"/><line x1="155.61" y1="187.16" x2="155.61" y2="192.96"/><line x1="123.16" y1="189.98" x2="123.16" y2="196.81"/><line x1="180.42" y1="191.32" x2="180.42" y2="197.95"/><line x1="157.55" y1="187.58" x2="157.55" y2="193.3"/><line x1="103.18" y1="190.43" x2="103.18" y2="197.31"/><line x1="135.42" y1="188.13" x2="135.42" y2="195.38"/><line x1="144.08" y1="184.67" x2="144.08" y2="192.88"/><line x1="196.08" y1="191.2" x2="196.08" y2="198.17"/><line x1="124.75" y1="189.93" x2="124.75" y2="196.71"/><line x1="139.37" y1="186.08" x2="139.37" y2="192.9"/><line x1="199.75" y1="190.78" x2="199.75" y2="197.31"/><line x1="136.81" y1="188.08" x2="136.81" y2="193.68"/><line x1="182.64" y1="190.3" x2="182.64" y2="197.12"/><line x1="99.18" y1="190.35" x2="99.18" y2="197.18"/><line x1="133.11" y1="188.89" x2="133.11" y2="194.8"/><line x1="109.11" y1="190.22" x2="109.11" y2="197.06"/><line x1="189.14" y1="190.44" x2="189.14" y2="197.41"/><line x1="151.26" y1="184.47" x2="151.26" y2="192.37"/><line x1="113.08" y1="191.45" x2="113.08" y2="197.77"/><line x1="98.64" y1="191.63" x2="98.64" y2="197.59"/><line x1="136.21" y1="188.57" x2="136.21" y2="194.77"/><line x1="99.12" y1="190.89" x2="99.12" y2="197.36"/><line x1="143.56" y1="186.46" x2="143.56" y2="193.07"/><line x1="171.4" y1="191.69" x2="171.4" y2="197.46"/><line x1="123.58" y1="191.54" x2="123.58" y2="197.24"/><line x1="107.24" y1="191.22" x2="107.24" y2="197.81"/><line x1="129.42" y1="189.81" x2="129.42" y2="195.79"/><line x1="107.09" y1="190.56" x2="107.09" y2="197.37"/><line x1="184.55" y1="191.34" x2="184.55" y2="197.73"/><line x1="99.09" y1="191.43" x2="99.09" y2="198.14"/><line x1="172.79" y1="191.76" x2="172.79" y2="197.45"/><line x1="126.26" y1="190.36" x2="126.26" y2="196.51"/><line x1="171.35" y1="190.47" x2="171.35" y2="197.5"/><line x1="176.22" y1="191.18" x2="176.22" y2="197.7"/><line x1="103.54" y1="190.49" x2="103.54" y2="197.27"/><line x1="174.57" y1="190.49" x2="174.57" y2="198.51"/><line x1="196.18" y1="191.45" x2="196.18" y2="197.19"/><line x1="152.91" y1="185.34" x2="152.91" y2="192.22"/><line x1="161.82" y1="189.23" x2="161.82" y2="194.75"/><line x1="124.97" y1="190.29" x2="124.97" y2="197.92"/><line x1="108.04" y1="190.4" x2="108.04" y2="197.9"/><line x1="173.18" y1="191.15" x2="173.18" y2="198.56"/><line x1="181.88" y1="190.78" x2="181.88" y2="198.53"/><line x1="111.66" y1="190.73" x2="111.66" y2="198.08"/><line x1="101.07" y1="190.71" x2="101.07" y2="197.11"/><line x1="128.37" y1="190.18" x2="128.37" y2="195.72"/><line x1="159.66" y1="187.37" x2="159.66" y2="195.65"/><line x1="129.83" y1="189.24" x2="129.83" y2="195.53"/><line x1="198.29" y1="191.69" x2="198.29" y2="197.66"/><line x1="178.57" y1="191.24" x2="178.57" y2="197.23"/><line x1="192.82" y1="191.75" x2="192.82" y2="198"/><line x1="156.64" y1="186.62" x2="156.64" y2="193.08"/><line x1="174.48" y1="191.37" x2="174.48" y2="197.41"/><line x1="196.8" y1="190.98" x2="196.8" y2="197.93"/><line x1="92.17" y1="191.2" x2="92.17" y2="198.37"/><line x1="153.81" y1="186.34" x2="153.81" y2="192.52"/><line x1="109.48" y1="190.6" x2="109.48" y2="198.33"/><line x1="178.98" y1="190.41" x2="178.98" y2="197.19"/><line x1="114.69" y1="191.57" x2="114.69" y2="197.69"/><line x1="172.87" y1="190.26" x2="172.87" y2="197.95"/><line x1="126.12" y1="190.04" x2="126.12" y2="196.66"/><line x1="162.57" y1="188.16" x2="162.57" y2="195.15"/><line x1="165.71" y1="189.77" x2="165.71" y2="196.87"/><line x1="191.98" y1="190.52" x2="191.98" y2="198.28"/><line x1="187.81" y1="191.24" x2="187.81" y2="197.36"/><line x1="138.14" y1="186.41" x2="138.14" y2="194.02"/><line x1="166.85" y1="190.54" x2="166.85" y2="196.25"/><line x1="108.95" y1="190.53" x2="108.95" y2="198.34"/><line x1="99.31" y1="190.93" x2="99.31" y2="197.55"/><line x1="169.72" y1="190.54" x2="169.72" y2="198.32"/><line x1="191.75" y1="190.92" x2="191.75" y2="198.24"/><line x1="173.44" y1="190.4" x2="173.44" y2="198.19"/><line x1="147.17" y1="184.53" x2="147.17" y2="190.66"/><line x1="160.06" y1="187.9" x2="160.06" y2="195.49"/><line x1="171.55" y1="190.26" x2="171.55" y2="197.16"/><line x1="153.17" y1="186.58" x2="153.17" y2="192.86"/><line x1="129.6" y1="188.91" x2="129.6" y2="195.45"/><line x1="185.34" y1="190.86" x2="185.34" y2="197.35"/><line x1="130.31" y1="188.45" x2="130.31" y2="195.76"/><line x1="191.39" y1="191.76" x2="191.39" y2="198.23"/><line x1="179.47" y1="191.39" x2="179.47" y2="197.61"/><line x1="178.74" y1="191.68" x2="178.74" y2="197.46"/><line x1="183.4" y1="191.67" x2="183.4" y2="197.34"/><line x1="200.89" y1="190.92" x2="200.89" y2="197.41"/><line x1="201.24" y1="190.77" x2="201.24" y2="198.43"/><line x1="145.41" y1="184.93" x2="145.41" y2="190.96"/><line x1="131.22" y1="188.29" x2="131.22" y2="195.26"/><line x1="171.9" y1="191.31" x2="171.9" y2="197.8"/></g>
<g fill="#d84848" fill-opacity="0.55"><rect x="158.95" y="188.43" width="0.7" height="0.7"/><rect x="127.04" y="191.34" width="0.7" height="0.7"/><rect x="138.39" y="192.02" width="0.7" height="0.7"/><rect x="159.87" y="193.1" width="0.7" height="0.7"/><rect x="140.31" y="192.64" width="0.7" height="0.7"/><rect x="120.27" y="192.36" width="0.7" height="0.7"/><rect x="134.96" y="189.05" width="0.7" height="0.7"/><rect x="131.96" y="193.85" width="0.7" height="0.7"/><rect x="121.26" y="196.33" width="0.7" height="0.7"/><rect x="156.86" y="188.45" width="0.7" height="0.7"/><rect x="146.66" y="186.41" width="0.7" height="0.7"/><rect x="135.05" y="194.14" width="0.7" height="0.7"/><rect x="169.4" y="196.07" width="0.7" height="0.7"/><rect x="181.29" y="191.99" width="0.7" height="0.7"/><rect x="162.41" y="194.72" width="0.7" height="0.7"/><rect x="126.94" y="191.39" width="0.7" height="0.7"/><rect x="195.6" y="196.15" width="0.7" height="0.7"/><rect x="99.62" y="192.64" width="0.7" height="0.7"/><rect x="180.48" y="192.15" width="0.7" height="0.7"/><rect x="136.17" y="193.17" width="0.7" height="0.7"/><rect x="133.34" y="189.2" width="0.7" height="0.7"/><rect x="184.82" y="196.11" width="0.7" height="0.7"/><rect x="163.16" y="194.03" width="0.7" height="0.7"/><rect x="199.89" y="196.7" width="0.7" height="0.7"/><rect x="188.84" y="192.57" width="0.7" height="0.7"/><rect x="101.01" y="192.26" width="0.7" height="0.7"/><rect x="145.61" y="186.28" width="0.7" height="0.7"/><rect x="176.11" y="196.83" width="0.7" height="0.7"/><rect x="97.12" y="196.12" width="0.7" height="0.7"/><rect x="150.15" y="189.99" width="0.7" height="0.7"/><rect x="202.07" y="192.37" width="0.7" height="0.7"/><rect x="115.16" y="196.31" width="0.7" height="0.7"/><rect x="101.07" y="196.81" width="0.7" height="0.7"/><rect x="120.97" y="197.08" width="0.7" height="0.7"/><rect x="127.3" y="190.78" width="0.7" height="0.7"/><rect x="120.55" y="196.35" width="0.7" height="0.7"/><rect x="137.42" y="188.36" width="0.7" height="0.7"/><rect x="183.69" y="196.13" width="0.7" height="0.7"/><rect x="147.25" y="189.65" width="0.7" height="0.7"/><rect x="155.54" y="192.49" width="0.7" height="0.7"/><rect x="100.17" y="191.72" width="0.7" height="0.7"/><rect x="95.07" y="196.77" width="0.7" height="0.7"/><rect x="197.25" y="192.82" width="0.7" height="0.7"/><rect x="127.62" y="194.83" width="0.7" height="0.7"/><rect x="196.83" y="192.15" width="0.7" height="0.7"/><rect x="126.3" y="191.51" width="0.7" height="0.7"/><rect x="161.34" y="193.74" width="0.7" height="0.7"/><rect x="163.87" y="190.47" width="0.7" height="0.7"/><rect x="97.98" y="196.89" width="0.7" height="0.7"/><rect x="95.78" y="192.29" width="0.7" height="0.7"/><rect x="138.53" y="192.95" width="0.7" height="0.7"/><rect x="102.28" y="196.54" width="0.7" height="0.7"/><rect x="121.71" y="192.59" width="0.7" height="0.7"/><rect x="110.18" y="192.52" width="0.7" height="0.7"/><rect x="123.68" y="192.1" width="0.7" height="0.7"/><rect x="140.17" y="188.26" width="0.7" height="0.7"/><rect x="123.5" y="192.45" width="0.7" height="0.7"/><rect x="126.28" y="190.94" width="0.7" height="0.7"/><rect x="143.63" y="187.33" width="0.7" height="0.7"/><rect x="166.32" y="195.31" width="0.7" height="0.7"/></g>
<line x1="110.5" y1="164.4" x2="110.5" y2="193.4" stroke="#d8232a" stroke-width="1.1" />
<line x1="146.4" y1="149.3" x2="146.4" y2="187.8" stroke="#d8232a" stroke-width="1.1" />
<line x1="113.6" y1="164.4" x2="113.6" y2="194" stroke="#1a1616" stroke-width="0.8" />
<line x1="111.5" y1="164.4" x2="115.7" y2="164.4" stroke="#1a1616" stroke-width="0.8" />
<line x1="111.5" y1="194" x2="115.7" y2="194" stroke="#1a1616" stroke-width="0.8" />
<path d="M113.6,164.7 l-1.3,2.6 h2.6z M113.6,193.7 l-1.3,-2.6 h2.6z" fill="#1a1616"/>
<line x1="149.5" y1="149.1" x2="149.5" y2="189.3" stroke="#1a1616" stroke-width="0.8" />
<line x1="147.4" y1="149.1" x2="151.6" y2="149.1" stroke="#1a1616" stroke-width="0.8" />
<line x1="147.4" y1="189.3" x2="151.6" y2="189.3" stroke="#1a1616" stroke-width="0.8" />
<path d="M149.5,149.4 l-1.3,2.6 h2.6z M149.5,189 l-1.3,-2.6 h2.6z" fill="#1a1616"/>
<line x1="169.8" y1="192.7" x2="175" y2="187" stroke="#1a1616" stroke-width="0.8" />
<path d="M176.3,185.6 l-3.3,1.6 l1.9,1.7z" fill="#1a1616"/>
<text x="90.9" y="159.4" font-size="7.95" text-anchor="start" font-weight="normal" fill="#231f20" >Off resonance</text>
<text x="126.9" y="145.2" font-size="7.95" text-anchor="start" font-weight="normal" fill="#231f20" >On resonance</text>
<text x="118.2" y="182.6" font-size="7.95" text-anchor="start" font-weight="normal" fill="#231f20" >35 dB</text>
<text x="155" y="169.5" font-size="7.95" text-anchor="start" font-weight="normal" fill="#231f20" >42 dB</text>
<text x="160.1" y="183.7" font-size="8.1" text-anchor="start" font-weight="normal" fill="#231f20" >Noise floor</text>
<line x1="87.6" y1="136.4" x2="202.9" y2="136.4" stroke="#555" stroke-width="0.9" />
<line x1="202.9" y1="136.4" x2="202.9" y2="202.1" stroke="#555" stroke-width="0.9" />
<line x1="87.6" y1="202.1" x2="202.9" y2="202.1" stroke="#3c3c3c" stroke-width="0.9" />
<line x1="87.6" y1="136.4" x2="87.6" y2="202.1" stroke="#3c3c3c" stroke-width="0.9" />
<line x1="85.1" y1="136.4" x2="87.6" y2="136.4" stroke="#3c3c3c" stroke-width="0.9" />
<line x1="85.1" y1="155.17" x2="87.6" y2="155.17" stroke="#3c3c3c" stroke-width="0.9" />
<line x1="85.1" y1="173.93" x2="87.6" y2="173.93" stroke="#3c3c3c" stroke-width="0.9" />
<line x1="85.1" y1="192.7" x2="87.6" y2="192.7" stroke="#3c3c3c" stroke-width="0.9" />
<line x1="96.4" y1="202.1" x2="96.4" y2="204.4" stroke="#3c3c3c" stroke-width="0.9" />
<line x1="131.85" y1="202.1" x2="131.85" y2="204.4" stroke="#3c3c3c" stroke-width="0.9" />
<line x1="167.3" y1="202.1" x2="167.3" y2="204.4" stroke="#3c3c3c" stroke-width="0.9" />
<text x="85" y="139.2" font-size="7.9" text-anchor="end" font-weight="normal" fill="#231f20" >−50</text>
<text x="85" y="195.5" font-size="7.9" text-anchor="end" font-weight="normal" fill="#231f20" >−110</text>
<text x="96.4" y="212.5" font-size="7.6" text-anchor="middle" font-weight="normal" fill="#231f20" >0.26</text>
<text x="167.3" y="212.5" font-size="7.6" text-anchor="middle" font-weight="normal" fill="#231f20" >0.3</text>
<text transform="translate(63.9,169.3) rotate(-90)" font-size="7.7" text-anchor="middle" fill="#231f20">Power (dBm)</text>
<g clip-path="url(#cd)">
<path d="M405.5,200.3 C406.25,200.25 408.12,200.33 410,200 C411.88,199.67 414.83,198.1 416.8,198.3 C418.77,198.5 420.13,201.42 421.8,201.2 C423.47,200.98 425.12,197.15 426.8,197 C428.48,196.85 429.93,199.88 431.9,200.3 C433.87,200.72 436.63,200.2 438.6,199.5 C440.57,198.8 442.02,196.8 443.7,196.1 C445.38,195.4 446.88,196.05 448.7,195.3 C450.52,194.55 452.63,191.6 454.6,191.6 C456.57,191.6 458.68,195.52 460.5,195.3 C462.32,195.08 463.55,191.7 465.5,190.3 C467.45,188.9 470.23,187.7 472.2,186.9 C474.17,186.1 475.62,185.5 477.3,185.5 C478.98,185.5 480.9,187.37 482.3,186.9 C483.7,186.43 484.58,183.27 485.7,182.7 C486.82,182.13 487.88,182.93 489,183.5 C490.12,184.07 491.13,186.38 492.4,186.1 C493.67,185.82 495.2,183.35 496.6,181.8 C498,180.25 499.4,178.47 500.8,176.8 C502.2,175.13 503.17,174.13 505,171.8 C506.83,169.47 509.83,165.42 511.8,162.8 C513.77,160.18 515.4,158.48 516.8,156.1 C518.2,153.72 519.22,151.45 520.2,148.5 C521.18,145.55 522.08,140.72 522.7,138.4 C523.32,136.08 523.35,134.93 523.9,134.6 C524.45,134.27 525.22,135.97 526,136.4 C526.78,136.83 527.75,136.43 528.6,137.2 C529.45,137.97 530.25,138.83 531.1,141 C531.95,143.17 532.72,146.98 533.7,150.2 C534.68,153.42 535.88,157.37 537,160.3 C538.12,163.23 539,165.57 540.4,167.8 C541.8,170.03 544,171.58 545.4,173.7 C546.8,175.82 547.4,178.25 548.8,180.5 C550.2,182.75 551.93,185.1 553.8,187.2 C555.67,189.3 557.97,191.2 560,193.1 C562.03,195 563.95,196.98 566,198.6 C568.05,200.22 569.22,201.08 572.3,202.8 C575.38,204.52 580.72,207 584.5,208.9 C588.28,210.8 591.92,212.43 595,214.2 C598.08,215.97 600.37,217.75 603,219.5 C605.63,221.25 608.03,223.4 610.8,224.7 C613.57,226 617.23,226.22 619.6,227.3 C621.97,228.38 622.97,229.73 625,231.2 C627.03,232.67 629.5,234.7 631.8,236.1 C634.1,237.5 636.9,239.17 638.8,239.6 C640.7,240.03 641.15,238.12 643.2,238.7 C645.25,239.28 648.63,241.78 651.1,243.1 C653.57,244.42 655.67,245.43 658,246.6 C660.33,247.77 662.3,248.78 665.1,250.1 C667.9,251.42 673.18,253.77 674.8,254.5" stroke="#2a6fb8" stroke-width="4.4" fill="none" stroke-linecap="round" stroke-linejoin="round"/>
<path d="M405.5,209.6 C408.22,209.18 416.28,208.08 421.8,207.1 C427.32,206.12 433,205.05 438.6,203.7 C444.2,202.35 449.8,200.82 455.4,199 C461,197.18 466.6,195.23 472.2,192.8 C477.8,190.37 485.2,186.32 489,184.4 C492.8,182.48 492.6,183.08 495,181.3 C497.4,179.52 500.6,176.63 503.4,173.7 C506.2,170.77 509.28,167.05 511.8,163.7 C514.32,160.35 516.68,156.97 518.5,153.6 C520.32,150.23 521.57,146.13 522.7,143.5 C523.83,140.87 524.53,139.03 525.3,137.8 C526.07,136.57 526.6,136 527.3,136.1 C528,136.2 528.72,136.75 529.5,138.4 C530.28,140.05 531.03,143.18 532,146 C532.97,148.82 533.9,152.08 535.3,155.3 C536.7,158.52 538.15,161.85 540.4,165.3 C542.65,168.75 545.72,172.63 548.8,176 C551.88,179.37 555.53,182.8 558.9,185.5 C562.27,188.2 565.9,190.2 569,192.2 C572.1,194.2 573.17,195.3 577.5,197.5 C581.83,199.7 589.15,203.07 595,205.4 C600.85,207.73 606.75,209.6 612.6,211.5 C618.45,213.4 624.27,215.18 630.1,216.8 C635.93,218.42 641.77,219.88 647.6,221.2 C653.43,222.52 660.53,223.75 665.1,224.7 C669.67,225.65 673.35,226.53 675,226.9" stroke="#101010" stroke-width="1.4" fill="none" />
</g>
<circle cx="561.3" cy="137.2" r="2.1" fill="#5b98d6"/>
<line x1="555.8" y1="149.4" x2="568.2" y2="149.4" stroke="#101010" stroke-width="1.4" />
<text x="572.7" y="140" font-size="9.45" text-anchor="start" font-weight="normal" fill="#231f20" >Measurement</text>
<text x="572.7" y="152.1" font-size="9.45" text-anchor="start" font-weight="normal" fill="#231f20" >Theoretical response</text>
<line x1="54.5" y1="298" x2="323.8" y2="298" stroke="#4e4e4e" stroke-width="1" />
<line x1="323.8" y1="298" x2="323.8" y2="441.6" stroke="#4e4e4e" stroke-width="1" />
<line x1="54.5" y1="441.6" x2="323.8" y2="441.6" stroke="#3c3c3c" stroke-width="1" />
<line x1="54.5" y1="298" x2="54.5" y2="441.6" stroke="#3c3c3c" stroke-width="1" />
<line x1="51.5" y1="331.3" x2="54.5" y2="331.3" stroke="#3c3c3c" stroke-width="1" />
<line x1="52.5" y1="316.85" x2="54.5" y2="316.85" stroke="#3c3c3c" stroke-width="0.8" />
<line x1="52.5" y1="308.4" x2="54.5" y2="308.4" stroke="#3c3c3c" stroke-width="0.8" />
<line x1="52.5" y1="302.4" x2="54.5" y2="302.4" stroke="#3c3c3c" stroke-width="0.8" />
<line x1="51.5" y1="379.3" x2="54.5" y2="379.3" stroke="#3c3c3c" stroke-width="1" />
<line x1="52.5" y1="364.85" x2="54.5" y2="364.85" stroke="#3c3c3c" stroke-width="0.8" />
<line x1="52.5" y1="356.4" x2="54.5" y2="356.4" stroke="#3c3c3c" stroke-width="0.8" />
<line x1="52.5" y1="350.4" x2="54.5" y2="350.4" stroke="#3c3c3c" stroke-width="0.8" />
<line x1="52.5" y1="345.75" x2="54.5" y2="345.75" stroke="#3c3c3c" stroke-width="0.8" />
<line x1="52.5" y1="341.95" x2="54.5" y2="341.95" stroke="#3c3c3c" stroke-width="0.8" />
<line x1="52.5" y1="338.74" x2="54.5" y2="338.74" stroke="#3c3c3c" stroke-width="0.8" />
<line x1="52.5" y1="335.95" x2="54.5" y2="335.95" stroke="#3c3c3c" stroke-width="0.8" />
<line x1="52.5" y1="333.5" x2="54.5" y2="333.5" stroke="#3c3c3c" stroke-width="0.8" />
<line x1="51.5" y1="427.3" x2="54.5" y2="427.3" stroke="#3c3c3c" stroke-width="1" />
<line x1="52.5" y1="412.85" x2="54.5" y2="412.85" stroke="#3c3c3c" stroke-width="0.8" />
<line x1="52.5" y1="404.4" x2="54.5" y2="404.4" stroke="#3c3c3c" stroke-width="0.8" />
<line x1="52.5" y1="398.4" x2="54.5" y2="398.4" stroke="#3c3c3c" stroke-width="0.8" />
<line x1="52.5" y1="393.75" x2="54.5" y2="393.75" stroke="#3c3c3c" stroke-width="0.8" />
<line x1="52.5" y1="389.95" x2="54.5" y2="389.95" stroke="#3c3c3c" stroke-width="0.8" />
<line x1="52.5" y1="386.74" x2="54.5" y2="386.74" stroke="#3c3c3c" stroke-width="0.8" />
<line x1="52.5" y1="383.95" x2="54.5" y2="383.95" stroke="#3c3c3c" stroke-width="0.8" />
<line x1="52.5" y1="381.5" x2="54.5" y2="381.5" stroke="#3c3c3c" stroke-width="0.8" />
<line x1="52.5" y1="437.95" x2="54.5" y2="437.95" stroke="#3c3c3c" stroke-width="0.8" />
<line x1="52.5" y1="434.74" x2="54.5" y2="434.74" stroke="#3c3c3c" stroke-width="0.8" />
<line x1="52.5" y1="431.95" x2="54.5" y2="431.95" stroke="#3c3c3c" stroke-width="0.8" />
<line x1="52.5" y1="429.5" x2="54.5" y2="429.5" stroke="#3c3c3c" stroke-width="0.8" />
<text x="46.9" y="335.5" font-size="10.9" text-anchor="end" fill="#231f20">10<tspan font-size="7.9" dy="-4.6">−6</tspan></text>
<text x="46.9" y="383.5" font-size="10.9" text-anchor="end" fill="#231f20">10<tspan font-size="7.9" dy="-4.6">−7</tspan></text>
<text x="46.9" y="431.5" font-size="10.9" text-anchor="end" fill="#231f20">10<tspan font-size="7.9" dy="-4.6">−8</tspan></text>
<text transform="translate(17.4,369.8) rotate(-90)" font-size="11.1" text-anchor="middle" fill="#231f20">NEP (Pa Hz<tspan font-size="7.4" dy="-4.2">−1/2</tspan><tspan dy="4.2">)</tspan></text>
<text x="-0.6" y="302.9" font-size="16" text-anchor="start" font-weight="bold" fill="#231f20" >e</text>
<line x1="406.5" y1="297.5" x2="675.5" y2="297.5" stroke="#4e4e4e" stroke-width="1" />
<line x1="675.5" y1="297.5" x2="675.5" y2="441.5" stroke="#4e4e4e" stroke-width="1" />
<line x1="406.5" y1="441.5" x2="675.5" y2="441.5" stroke="#3c3c3c" stroke-width="1" />
<line x1="406.5" y1="297.5" x2="406.5" y2="441.5" stroke="#3c3c3c" stroke-width="1" />
<line x1="403.5" y1="331.3" x2="406.5" y2="331.3" stroke="#3c3c3c" stroke-width="1" />
<line x1="404.5" y1="316.85" x2="406.5" y2="316.85" stroke="#3c3c3c" stroke-width="0.8" />
<line x1="404.5" y1="308.4" x2="406.5" y2="308.4" stroke="#3c3c3c" stroke-width="0.8" />
<line x1="404.5" y1="302.4" x2="406.5" y2="302.4" stroke="#3c3c3c" stroke-width="0.8" />
<line x1="404.5" y1="297.75" x2="406.5" y2="297.75" stroke="#3c3c3c" stroke-width="0.8" />
<line x1="403.5" y1="379.3" x2="406.5" y2="379.3" stroke="#3c3c3c" stroke-width="1" />
<line x1="404.5" y1="364.85" x2="406.5" y2="364.85" stroke="#3c3c3c" stroke-width="0.8" />
<line x1="404.5" y1="356.4" x2="406.5" y2="356.4" stroke="#3c3c3c" stroke-width="0.8" />
<line x1="404.5" y1="350.4" x2="406.5" y2="350.4" stroke="#3c3c3c" stroke-width="0.8" />
<line x1="404.5" y1="345.75" x2="406.5" y2="345.75" stroke="#3c3c3c" stroke-width="0.8" />
<line x1="404.5" y1="341.95" x2="406.5" y2="341.95" stroke="#3c3c3c" stroke-width="0.8" />
<line x1="404.5" y1="338.74" x2="406.5" y2="338.74" stroke="#3c3c3c" stroke-width="0.8" />
<line x1="404.5" y1="335.95" x2="406.5" y2="335.95" stroke="#3c3c3c" stroke-width="0.8" />
<line x1="404.5" y1="333.5" x2="406.5" y2="333.5" stroke="#3c3c3c" stroke-width="0.8" />
<line x1="403.5" y1="427.3" x2="406.5" y2="427.3" stroke="#3c3c3c" stroke-width="1" />
<line x1="404.5" y1="412.85" x2="406.5" y2="412.85" stroke="#3c3c3c" stroke-width="0.8" />
<line x1="404.5" y1="404.4" x2="406.5" y2="404.4" stroke="#3c3c3c" stroke-width="0.8" />
<line x1="404.5" y1="398.4" x2="406.5" y2="398.4" stroke="#3c3c3c" stroke-width="0.8" />
<line x1="404.5" y1="393.75" x2="406.5" y2="393.75" stroke="#3c3c3c" stroke-width="0.8" />
<line x1="404.5" y1="389.95" x2="406.5" y2="389.95" stroke="#3c3c3c" stroke-width="0.8" />
<line x1="404.5" y1="386.74" x2="406.5" y2="386.74" stroke="#3c3c3c" stroke-width="0.8" />
<line x1="404.5" y1="383.95" x2="406.5" y2="383.95" stroke="#3c3c3c" stroke-width="0.8" />
<line x1="404.5" y1="381.5" x2="406.5" y2="381.5" stroke="#3c3c3c" stroke-width="0.8" />
<line x1="404.5" y1="437.95" x2="406.5" y2="437.95" stroke="#3c3c3c" stroke-width="0.8" />
<line x1="404.5" y1="434.74" x2="406.5" y2="434.74" stroke="#3c3c3c" stroke-width="0.8" />
<line x1="404.5" y1="431.95" x2="406.5" y2="431.95" stroke="#3c3c3c" stroke-width="0.8" />
<line x1="404.5" y1="429.5" x2="406.5" y2="429.5" stroke="#3c3c3c" stroke-width="0.8" />
<text x="398.9" y="335.5" font-size="10.9" text-anchor="end" fill="#231f20">10<tspan font-size="7.9" dy="-4.6">−6</tspan></text>
<text x="398.9" y="383.5" font-size="10.9" text-anchor="end" fill="#231f20">10<tspan font-size="7.9" dy="-4.6">−7</tspan></text>
<text x="398.9" y="431.5" font-size="10.9" text-anchor="end" fill="#231f20">10<tspan font-size="7.9" dy="-4.6">−8</tspan></text>
<text transform="translate(369.6,368.4) rotate(-90)" font-size="11.1" text-anchor="middle" fill="#231f20">NEP (Pa Hz<tspan font-size="7.4" dy="-4.2">−1/2</tspan><tspan dy="4.2">)</tspan></text>
<text x="350.2" y="302.9" font-size="16" text-anchor="start" font-weight="bold" fill="#231f20" >f</text>
<line x1="74.6" y1="441.6" x2="74.6" y2="444.6" stroke="#3c3c3c" stroke-width="1" />
<line x1="116.15" y1="441.6" x2="116.15" y2="444.6" stroke="#3c3c3c" stroke-width="1" />
<line x1="157.7" y1="441.6" x2="157.7" y2="444.6" stroke="#3c3c3c" stroke-width="1" />
<line x1="199.25" y1="441.6" x2="199.25" y2="444.6" stroke="#3c3c3c" stroke-width="1" />
<line x1="240.8" y1="441.6" x2="240.8" y2="444.6" stroke="#3c3c3c" stroke-width="1" />
<line x1="282.35" y1="441.6" x2="282.35" y2="444.6" stroke="#3c3c3c" stroke-width="1" />
<line x1="323.9" y1="441.6" x2="323.9" y2="444.6" stroke="#3c3c3c" stroke-width="1" />
<text x="74.6" y="456.9" font-size="11.2" text-anchor="middle" font-weight="normal" fill="#231f20" >0.26</text>
<text x="157.7" y="456.9" font-size="11.2" text-anchor="middle" font-weight="normal" fill="#231f20" >0.28</text>
<text x="240.8" y="456.9" font-size="11.2" text-anchor="middle" font-weight="normal" fill="#231f20" >0.30</text>
<text x="323.9" y="456.9" font-size="11.2" text-anchor="middle" font-weight="normal" fill="#231f20" >0.32</text>
<text x="188.8" y="473" font-size="11.15" text-anchor="middle" font-weight="normal" fill="#231f20" >Frequency (MHz)</text>
<line x1="406.5" y1="441.3" x2="406.5" y2="444.3" stroke="#3c3c3c" stroke-width="1" />
<line x1="433.37" y1="441.3" x2="433.37" y2="444.3" stroke="#3c3c3c" stroke-width="1" />
<line x1="460.24" y1="441.3" x2="460.24" y2="444.3" stroke="#3c3c3c" stroke-width="1" />
<line x1="487.11" y1="441.3" x2="487.11" y2="444.3" stroke="#3c3c3c" stroke-width="1" />
<line x1="513.98" y1="441.3" x2="513.98" y2="444.3" stroke="#3c3c3c" stroke-width="1" />
<line x1="540.85" y1="441.3" x2="540.85" y2="444.3" stroke="#3c3c3c" stroke-width="1" />
<line x1="567.72" y1="441.3" x2="567.72" y2="444.3" stroke="#3c3c3c" stroke-width="1" />
<line x1="594.59" y1="441.3" x2="594.59" y2="444.3" stroke="#3c3c3c" stroke-width="1" />
<line x1="621.46" y1="441.3" x2="621.46" y2="444.3" stroke="#3c3c3c" stroke-width="1" />
<line x1="648.33" y1="441.3" x2="648.33" y2="444.3" stroke="#3c3c3c" stroke-width="1" />
<line x1="675.2" y1="441.3" x2="675.2" y2="444.3" stroke="#3c3c3c" stroke-width="1" />
<text x="406.5" y="457.2" font-size="11.2" text-anchor="middle" font-weight="normal" fill="#231f20" >0.03</text>
<text x="460.24" y="457.2" font-size="11.2" text-anchor="middle" font-weight="normal" fill="#231f20" >0.04</text>
<text x="513.98" y="457.2" font-size="11.2" text-anchor="middle" font-weight="normal" fill="#231f20" >0.05</text>
<text x="567.72" y="457.2" font-size="11.2" text-anchor="middle" font-weight="normal" fill="#231f20" >0.06</text>
<text x="621.46" y="457.2" font-size="11.2" text-anchor="middle" font-weight="normal" fill="#231f20" >0.07</text>
<text x="675.2" y="457.2" font-size="11.2" text-anchor="middle" font-weight="normal" fill="#231f20" >0.08</text>
<text x="541.5" y="472.4" font-size="11.15" text-anchor="middle" font-weight="normal" fill="#231f20" >Frequency (MHz)</text>
<g fill="#a73142" fill-opacity="1"><circle cx="123.24" cy="338.58" r="1.95"/><circle cx="96.55" cy="348.12" r="1.95"/><circle cx="183.94" cy="355.22" r="1.95"/><circle cx="103.86" cy="342.08" r="1.95"/><circle cx="95.35" cy="343.24" r="1.95"/><circle cx="243.63" cy="342.4" r="1.95"/><circle cx="170.19" cy="350.13" r="1.95"/><circle cx="235.48" cy="353.76" r="1.95"/><circle cx="181.06" cy="355.31" r="1.95"/><circle cx="190.22" cy="356.08" r="1.95"/><circle cx="138.17" cy="337.65" r="1.95"/><circle cx="169.31" cy="347.13" r="1.95"/><circle cx="184.01" cy="355.16" r="1.95"/><circle cx="146.71" cy="339.15" r="1.95"/><circle cx="277" cy="344.16" r="1.95"/><circle cx="120.82" cy="337.18" r="1.95"/><circle cx="113.89" cy="343.15" r="1.95"/><circle cx="147.21" cy="342.59" r="1.95"/><circle cx="265.95" cy="340.69" r="1.95"/><circle cx="282.75" cy="344.7" r="1.95"/><circle cx="206.66" cy="354.65" r="1.95"/><circle cx="151.63" cy="336.76" r="1.95"/><circle cx="229.22" cy="354.74" r="1.95"/><circle cx="277.07" cy="342.66" r="1.95"/><circle cx="119.91" cy="339.62" r="1.95"/><circle cx="234.27" cy="350.5" r="1.95"/><circle cx="245.67" cy="345.39" r="1.95"/><circle cx="159.59" cy="348.76" r="1.95"/><circle cx="93.5" cy="348.58" r="1.95"/><circle cx="218.08" cy="356.34" r="1.95"/><circle cx="111.1" cy="339.11" r="1.95"/><circle cx="153.61" cy="345.53" r="1.95"/><circle cx="201.14" cy="359.7" r="1.95"/><circle cx="313.76" cy="347.24" r="1.95"/><circle cx="93.96" cy="344.96" r="1.95"/><circle cx="74.35" cy="350.73" r="1.95"/><circle cx="199.62" cy="358.48" r="1.95"/><circle cx="308.47" cy="347.41" r="1.95"/><circle cx="66.94" cy="342.52" r="1.95"/><circle cx="227.42" cy="352.52" r="1.95"/><circle cx="61.85" cy="345.32" r="1.95"/><circle cx="202.9" cy="358.24" r="1.95"/><circle cx="86.59" cy="346.89" r="1.95"/><circle cx="232" cy="350.82" r="1.95"/><circle cx="151.71" cy="345.32" r="1.95"/><circle cx="230.78" cy="350.44" r="1.95"/><circle cx="124.05" cy="337.05" r="1.95"/><circle cx="74.67" cy="345.94" r="1.95"/><circle cx="103.48" cy="340.64" r="1.95"/><circle cx="128.27" cy="337.66" r="1.95"/><circle cx="98.87" cy="345.38" r="1.95"/><circle cx="107.94" cy="342.57" r="1.95"/><circle cx="201.05" cy="362.71" r="1.95"/><circle cx="172.36" cy="352.73" r="1.95"/><circle cx="276.75" cy="343.19" r="1.95"/><circle cx="188.51" cy="355.35" r="1.95"/><circle cx="199.79" cy="354.45" r="1.95"/><circle cx="245.74" cy="344.53" r="1.95"/><circle cx="284.32" cy="342.42" r="1.95"/><circle cx="211.96" cy="356.98" r="1.95"/><circle cx="64.42" cy="348.84" r="1.95"/><circle cx="178.17" cy="348.41" r="1.95"/><circle cx="63.19" cy="344.41" r="1.95"/><circle cx="217.39" cy="352.83" r="1.95"/><circle cx="72.02" cy="348.77" r="1.95"/><circle cx="199.82" cy="357.01" r="1.95"/><circle cx="94.87" cy="343.2" r="1.95"/><circle cx="284.89" cy="340.69" r="1.95"/><circle cx="79.89" cy="347.96" r="1.95"/><circle cx="232.08" cy="351.57" r="1.95"/><circle cx="244.04" cy="348.47" r="1.95"/><circle cx="128.61" cy="331.52" r="1.95"/><circle cx="214.13" cy="360.46" r="1.95"/><circle cx="143.35" cy="336.97" r="1.95"/><circle cx="124.24" cy="339.29" r="1.95"/><circle cx="124.42" cy="340.8" r="1.95"/><circle cx="58.77" cy="345.95" r="1.95"/><circle cx="235.72" cy="351" r="1.95"/><circle cx="73.85" cy="347.09" r="1.95"/><circle cx="107.55" cy="344.24" r="1.95"/><circle cx="77.92" cy="345.05" r="1.95"/><circle cx="271.09" cy="342.05" r="1.95"/><circle cx="197.09" cy="357.11" r="1.95"/><circle cx="180.36" cy="356.14" r="1.95"/><circle cx="211.59" cy="360.22" r="1.95"/><circle cx="272.17" cy="342.09" r="1.95"/><circle cx="222.57" cy="359.67" r="1.95"/><circle cx="192.73" cy="354.61" r="1.95"/><circle cx="138.84" cy="336.23" r="1.95"/><circle cx="193.66" cy="362.12" r="1.95"/><circle cx="320.36" cy="344.36" r="1.95"/><circle cx="207.97" cy="354.54" r="1.95"/><circle cx="183.01" cy="358.64" r="1.95"/><circle cx="293.72" cy="346" r="1.95"/><circle cx="69.19" cy="343.56" r="1.95"/><circle cx="71.54" cy="347.57" r="1.95"/><circle cx="267.08" cy="339.32" r="1.95"/><circle cx="308.22" cy="343.16" r="1.95"/><circle cx="68.2" cy="346.19" r="1.95"/><circle cx="60.98" cy="345.68" r="1.95"/><circle cx="57.13" cy="343.53" r="1.95"/><circle cx="209.88" cy="357.33" r="1.95"/><circle cx="91.6" cy="342.72" r="1.95"/><circle cx="205.67" cy="358.41" r="1.95"/><circle cx="233.26" cy="352.12" r="1.95"/><circle cx="58.69" cy="348.11" r="1.95"/><circle cx="288.82" cy="342.76" r="1.95"/><circle cx="122.52" cy="335.49" r="1.95"/><circle cx="203.69" cy="355.26" r="1.95"/><circle cx="149.75" cy="339.49" r="1.95"/><circle cx="146.94" cy="341.66" r="1.95"/><circle cx="163.12" cy="351.33" r="1.95"/><circle cx="55.5" cy="344.22" r="1.95"/><circle cx="169.97" cy="354.13" r="1.95"/><circle cx="125.87" cy="334.71" r="1.95"/><circle cx="150.75" cy="343.05" r="1.95"/><circle cx="98.37" cy="343.1" r="1.95"/><circle cx="144.68" cy="338.47" r="1.95"/><circle cx="242.86" cy="350.15" r="1.95"/><circle cx="319.43" cy="344.69" r="1.95"/><circle cx="107.59" cy="344.02" r="1.95"/><circle cx="287.9" cy="341.19" r="1.95"/><circle cx="220.05" cy="356.04" r="1.95"/><circle cx="81.7" cy="348.64" r="1.95"/><circle cx="58.46" cy="355.8" r="1.95"/><circle cx="292.57" cy="346.15" r="1.95"/><circle cx="117.53" cy="339.87" r="1.95"/><circle cx="83.11" cy="343.94" r="1.95"/><circle cx="231.04" cy="355.27" r="1.95"/><circle cx="244.79" cy="343.4" r="1.95"/><circle cx="295.54" cy="343.21" r="1.95"/><circle cx="189.24" cy="358.6" r="1.95"/><circle cx="138.51" cy="334.07" r="1.95"/><circle cx="140.21" cy="339.8" r="1.95"/><circle cx="109.64" cy="345.7" r="1.95"/><circle cx="225.57" cy="353.09" r="1.95"/><circle cx="308.25" cy="344.97" r="1.95"/><circle cx="77.31" cy="342.51" r="1.95"/><circle cx="158.62" cy="342.94" r="1.95"/><circle cx="149.25" cy="340.74" r="1.95"/><circle cx="76.1" cy="346.86" r="1.95"/><circle cx="214.69" cy="358.51" r="1.95"/><circle cx="319.22" cy="345.95" r="1.95"/><circle cx="129.01" cy="334.75" r="1.95"/><circle cx="250.31" cy="344.84" r="1.95"/><circle cx="297.03" cy="341.89" r="1.95"/><circle cx="127.39" cy="336.76" r="1.95"/><circle cx="301.98" cy="349.37" r="1.95"/><circle cx="256.04" cy="346.35" r="1.95"/><circle cx="228.37" cy="352.52" r="1.95"/><circle cx="106.78" cy="342.52" r="1.95"/><circle cx="129.2" cy="339.15" r="1.95"/><circle cx="81.85" cy="350.29" r="1.95"/><circle cx="295.72" cy="341.63" r="1.95"/><circle cx="272.35" cy="341.12" r="1.95"/><circle cx="77.82" cy="346.14" r="1.95"/><circle cx="197.5" cy="361.1" r="1.95"/><circle cx="111.89" cy="340.67" r="1.95"/><circle cx="260.68" cy="343.86" r="1.95"/><circle cx="208.85" cy="357.52" r="1.95"/><circle cx="309.09" cy="351.67" r="1.95"/><circle cx="250.32" cy="345.01" r="1.95"/><circle cx="81.62" cy="345.83" r="1.95"/><circle cx="154.89" cy="342.72" r="1.95"/><circle cx="209.69" cy="360.63" r="1.95"/><circle cx="300.06" cy="347.29" r="1.95"/><circle cx="154.4" cy="340.66" r="1.95"/><circle cx="105.1" cy="343.9" r="1.95"/><circle cx="130.8" cy="332.28" r="1.95"/><circle cx="121.33" cy="337.12" r="1.95"/><circle cx="96.1" cy="341.25" r="1.95"/><circle cx="147.11" cy="335.18" r="1.95"/><circle cx="121.56" cy="337.23" r="1.95"/><circle cx="191.97" cy="355.89" r="1.95"/><circle cx="295.32" cy="346.24" r="1.95"/><circle cx="311.5" cy="347.8" r="1.95"/><circle cx="97.43" cy="343.54" r="1.95"/><circle cx="207.85" cy="355.66" r="1.95"/><circle cx="235.97" cy="353.17" r="1.95"/><circle cx="95.57" cy="339.64" r="1.95"/><circle cx="197.71" cy="353.83" r="1.95"/><circle cx="108.37" cy="344.93" r="1.95"/><circle cx="152.54" cy="343.42" r="1.95"/><circle cx="141.74" cy="338.07" r="1.95"/><circle cx="273.97" cy="341.79" r="1.95"/><circle cx="117.55" cy="336.76" r="1.95"/><circle cx="199.95" cy="357.15" r="1.95"/><circle cx="212.2" cy="359.33" r="1.95"/><circle cx="143.33" cy="334.3" r="1.95"/><circle cx="304.8" cy="344.61" r="1.95"/><circle cx="143.94" cy="333.08" r="1.95"/><circle cx="142.34" cy="333.15" r="1.95"/><circle cx="241.02" cy="351.5" r="1.95"/><circle cx="185.85" cy="357.65" r="1.95"/><circle cx="249.69" cy="341.42" r="1.95"/><circle cx="95.67" cy="341.8" r="1.95"/><circle cx="94.38" cy="343.19" r="1.95"/><circle cx="252.72" cy="345.01" r="1.95"/><circle cx="159.13" cy="343.86" r="1.95"/><circle cx="285.33" cy="342.9" r="1.95"/><circle cx="117.38" cy="334.76" r="1.95"/><circle cx="119.2" cy="336.42" r="1.95"/><circle cx="286.97" cy="344.49" r="1.95"/><circle cx="151.91" cy="343.55" r="1.95"/><circle cx="84.07" cy="343.62" r="1.95"/><circle cx="113.83" cy="339.33" r="1.95"/><circle cx="261.74" cy="344.02" r="1.95"/><circle cx="125.99" cy="336.44" r="1.95"/><circle cx="204.17" cy="357.05" r="1.95"/><circle cx="279.26" cy="343.94" r="1.95"/><circle cx="218.89" cy="357.05" r="1.95"/><circle cx="257.2" cy="345.65" r="1.95"/><circle cx="317.59" cy="347.2" r="1.95"/><circle cx="135.08" cy="334.17" r="1.95"/><circle cx="290.46" cy="343.85" r="1.95"/><circle cx="202.9" cy="358.18" r="1.95"/><circle cx="108.74" cy="340.11" r="1.95"/><circle cx="90.05" cy="343.16" r="1.95"/><circle cx="142.8" cy="338.13" r="1.95"/><circle cx="91.57" cy="341.39" r="1.95"/><circle cx="262.33" cy="344.38" r="1.95"/><circle cx="204.62" cy="358.96" r="1.95"/><circle cx="66.41" cy="346.57" r="1.95"/><circle cx="291.03" cy="345.48" r="1.95"/><circle cx="215" cy="358.73" r="1.95"/><circle cx="173.77" cy="355.72" r="1.95"/><circle cx="92.45" cy="343.94" r="1.95"/><circle cx="181.03" cy="354.19" r="1.95"/><circle cx="301.54" cy="345.36" r="1.95"/><circle cx="211.88" cy="362.4" r="1.95"/><circle cx="178.17" cy="356.11" r="1.95"/><circle cx="218.26" cy="354.67" r="1.95"/><circle cx="202.77" cy="357.56" r="1.95"/><circle cx="222.44" cy="353.77" r="1.95"/><circle cx="108.08" cy="343.3" r="1.95"/><circle cx="94.54" cy="344.96" r="1.95"/><circle cx="57.87" cy="351.53" r="1.95"/><circle cx="278.51" cy="338.49" r="1.95"/><circle cx="55.37" cy="348.06" r="1.95"/><circle cx="123.48" cy="339.32" r="1.95"/><circle cx="212.13" cy="356.42" r="1.95"/><circle cx="189.1" cy="357.41" r="1.95"/><circle cx="297.27" cy="344.19" r="1.95"/><circle cx="111.92" cy="342.72" r="1.95"/><circle cx="85.2" cy="348.58" r="1.95"/><circle cx="97.7" cy="340.57" r="1.95"/><circle cx="188.57" cy="360.64" r="1.95"/><circle cx="132.93" cy="334.06" r="1.95"/><circle cx="177.14" cy="357.16" r="1.95"/><circle cx="239.74" cy="351" r="1.95"/><circle cx="141.05" cy="338.8" r="1.95"/><circle cx="233.62" cy="353.39" r="1.95"/><circle cx="59.79" cy="349.12" r="1.95"/><circle cx="201.58" cy="358.48" r="1.95"/><circle cx="298.84" cy="343.65" r="1.95"/><circle cx="306.07" cy="347.85" r="1.95"/><circle cx="208.48" cy="359.88" r="1.95"/><circle cx="319.25" cy="350.2" r="1.95"/><circle cx="117.89" cy="335" r="1.95"/><circle cx="134.65" cy="334.82" r="1.95"/><circle cx="175.17" cy="355.72" r="1.95"/><circle cx="191.55" cy="355.27" r="1.95"/><circle cx="275.18" cy="341.92" r="1.95"/><circle cx="174.98" cy="358.11" r="1.95"/><circle cx="67.44" cy="350" r="1.95"/><circle cx="242.98" cy="346.66" r="1.95"/><circle cx="114.46" cy="344.01" r="1.95"/><circle cx="292.11" cy="347.2" r="1.95"/><circle cx="111.59" cy="344.55" r="1.95"/><circle cx="134.14" cy="335.98" r="1.95"/><circle cx="91.46" cy="345.66" r="1.95"/><circle cx="135.98" cy="334.09" r="1.95"/><circle cx="216.34" cy="356.18" r="1.95"/><circle cx="126.49" cy="338.85" r="1.95"/><circle cx="67.55" cy="347.05" r="1.95"/><circle cx="212.4" cy="362.3" r="1.95"/><circle cx="252.42" cy="343.04" r="1.95"/><circle cx="83.83" cy="340.79" r="1.95"/><circle cx="168.75" cy="350.92" r="1.95"/><circle cx="72.88" cy="346.22" r="1.95"/><circle cx="59.06" cy="347.38" r="1.95"/><circle cx="155.36" cy="344.01" r="1.95"/><circle cx="131.66" cy="333.25" r="1.95"/><circle cx="290.21" cy="347.55" r="1.95"/><circle cx="58.14" cy="344.79" r="1.95"/><circle cx="228.58" cy="355.21" r="1.95"/><circle cx="252.07" cy="343.19" r="1.95"/><circle cx="166.8" cy="348.36" r="1.95"/><circle cx="189.35" cy="361.1" r="1.95"/><circle cx="121.05" cy="333.19" r="1.95"/><circle cx="122.47" cy="336.66" r="1.95"/><circle cx="68.77" cy="347.45" r="1.95"/><circle cx="298.41" cy="344.71" r="1.95"/><circle cx="62.22" cy="348.74" r="1.95"/><circle cx="91.42" cy="344.9" r="1.95"/><circle cx="249.55" cy="343.13" r="1.95"/><circle cx="177.73" cy="358.84" r="1.95"/><circle cx="192.38" cy="357.7" r="1.95"/><circle cx="133.79" cy="334.64" r="1.95"/><circle cx="97.9" cy="341.59" r="1.95"/><circle cx="269.7" cy="340.16" r="1.95"/><circle cx="87.83" cy="347.43" r="1.95"/><circle cx="134.16" cy="336.43" r="1.95"/><circle cx="256.98" cy="343.18" r="1.95"/><circle cx="134.78" cy="333.76" r="1.95"/><circle cx="310.7" cy="347.68" r="1.95"/><circle cx="101.7" cy="339.82" r="1.95"/><circle cx="196.58" cy="357.54" r="1.95"/><circle cx="199.39" cy="357.79" r="1.95"/><circle cx="189.28" cy="355.9" r="1.95"/><circle cx="263.04" cy="342.38" r="1.95"/><circle cx="66.91" cy="345.33" r="1.95"/><circle cx="201.51" cy="356.54" r="1.95"/><circle cx="267.18" cy="345.9" r="1.95"/><circle cx="68.15" cy="348.33" r="1.95"/><circle cx="201.62" cy="361.15" r="1.95"/><circle cx="173.17" cy="352.95" r="1.95"/><circle cx="163.46" cy="351.85" r="1.95"/><circle cx="199.31" cy="360.19" r="1.95"/><circle cx="222.73" cy="358.16" r="1.95"/><circle cx="243.98" cy="353.54" r="1.95"/><circle cx="296.4" cy="344.75" r="1.95"/><circle cx="231.32" cy="353.43" r="1.95"/><circle cx="323.52" cy="345.35" r="1.95"/><circle cx="233.55" cy="344.08" r="1.95"/><circle cx="126.98" cy="333.79" r="1.95"/><circle cx="94.14" cy="344.65" r="1.95"/><circle cx="73.59" cy="347.02" r="1.95"/><circle cx="126.73" cy="335.79" r="1.95"/><circle cx="86.58" cy="348.8" r="1.95"/><circle cx="238.55" cy="353.49" r="1.95"/><circle cx="240.18" cy="349.01" r="1.95"/><circle cx="219.33" cy="359.82" r="1.95"/><circle cx="157.59" cy="349.52" r="1.95"/><circle cx="179.43" cy="355.39" r="1.95"/><circle cx="124.37" cy="335.82" r="1.95"/><circle cx="301.89" cy="349.43" r="1.95"/><circle cx="58.77" cy="346.13" r="1.95"/><circle cx="140.84" cy="335.25" r="1.95"/><circle cx="208.76" cy="358.58" r="1.95"/><circle cx="103.15" cy="342.43" r="1.95"/><circle cx="284.55" cy="345.76" r="1.95"/><circle cx="183.88" cy="357.67" r="1.95"/><circle cx="154.29" cy="345.99" r="1.95"/><circle cx="71.42" cy="347.25" r="1.95"/><circle cx="130.22" cy="333.85" r="1.95"/><circle cx="213.29" cy="357.64" r="1.95"/><circle cx="130.23" cy="337.68" r="1.95"/><circle cx="66.66" cy="346.02" r="1.95"/><circle cx="210.57" cy="364.96" r="1.95"/><circle cx="136.34" cy="335.85" r="1.95"/><circle cx="282.43" cy="341.75" r="1.95"/><circle cx="240.8" cy="352.39" r="1.95"/><circle cx="248.79" cy="346.1" r="1.95"/><circle cx="294.23" cy="344.88" r="1.95"/><circle cx="272.63" cy="341.71" r="1.95"/><circle cx="143.17" cy="337.09" r="1.95"/><circle cx="207.73" cy="360.27" r="1.95"/><circle cx="124.22" cy="339.9" r="1.95"/><circle cx="108.77" cy="342.64" r="1.95"/><circle cx="109.94" cy="344.24" r="1.95"/><circle cx="84.4" cy="348.34" r="1.95"/><circle cx="118.88" cy="341.25" r="1.95"/><circle cx="115.01" cy="333.44" r="1.95"/><circle cx="235.62" cy="349.48" r="1.95"/><circle cx="122.22" cy="336.97" r="1.95"/><circle cx="67.07" cy="346.35" r="1.95"/><circle cx="168.04" cy="351.97" r="1.95"/><circle cx="108.61" cy="345.47" r="1.95"/><circle cx="240.14" cy="351.41" r="1.95"/><circle cx="114.21" cy="340.66" r="1.95"/><circle cx="204.49" cy="358.45" r="1.95"/><circle cx="101.9" cy="347.82" r="1.95"/><circle cx="184.34" cy="354.67" r="1.95"/><circle cx="288.04" cy="344.48" r="1.95"/><circle cx="136.18" cy="339.9" r="1.95"/><circle cx="196.47" cy="359.17" r="1.95"/><circle cx="172.62" cy="348.03" r="1.95"/><circle cx="73.36" cy="346.47" r="1.95"/><circle cx="60.07" cy="345.86" r="1.95"/><circle cx="281.38" cy="342.75" r="1.95"/><circle cx="146.16" cy="340.12" r="1.95"/><circle cx="239.26" cy="351.39" r="1.95"/><circle cx="165.64" cy="350.15" r="1.95"/><circle cx="280.26" cy="344.98" r="1.95"/><circle cx="107.02" cy="344.39" r="1.95"/><circle cx="184.79" cy="356.51" r="1.95"/><circle cx="202.18" cy="359.12" r="1.95"/><circle cx="268.21" cy="342.41" r="1.95"/><circle cx="62.43" cy="346.32" r="1.95"/><circle cx="152.11" cy="340.65" r="1.95"/><circle cx="182.46" cy="355.38" r="1.95"/><circle cx="213.07" cy="355.85" r="1.95"/><circle cx="92.6" cy="342.03" r="1.95"/><circle cx="200.89" cy="361.43" r="1.95"/><circle cx="241.25" cy="349.01" r="1.95"/><circle cx="251.91" cy="343.88" r="1.95"/><circle cx="114.92" cy="340.27" r="1.95"/><circle cx="173.21" cy="352.94" r="1.95"/><circle cx="134.74" cy="335.45" r="1.95"/><circle cx="158.89" cy="346.63" r="1.95"/><circle cx="152.26" cy="339.96" r="1.95"/><circle cx="309.02" cy="348.44" r="1.95"/><circle cx="58.11" cy="344.79" r="1.95"/><circle cx="309.72" cy="348.63" r="1.95"/><circle cx="63.41" cy="342.74" r="1.95"/><circle cx="75.48" cy="343.08" r="1.95"/><circle cx="109.98" cy="345.52" r="1.95"/><circle cx="131.74" cy="334.86" r="1.95"/><circle cx="285.49" cy="341.87" r="1.95"/><circle cx="281.03" cy="343.84" r="1.95"/><circle cx="306.16" cy="343.98" r="1.95"/><circle cx="159.45" cy="347.08" r="1.95"/><circle cx="58.76" cy="341.42" r="1.95"/><circle cx="223.03" cy="354.26" r="1.95"/><circle cx="296.65" cy="343.84" r="1.95"/><circle cx="83.43" cy="347.63" r="1.95"/><circle cx="277.42" cy="344.73" r="1.95"/><circle cx="54.98" cy="343.73" r="1.95"/><circle cx="251.71" cy="347.65" r="1.95"/><circle cx="187.34" cy="355.92" r="1.95"/><circle cx="299.1" cy="340.96" r="1.95"/><circle cx="290.13" cy="338.69" r="1.95"/><circle cx="67.02" cy="350.43" r="1.95"/><circle cx="188.65" cy="357.52" r="1.95"/><circle cx="119.69" cy="337.84" r="1.95"/><circle cx="172.83" cy="351.06" r="1.95"/><circle cx="72.35" cy="343.23" r="1.95"/><circle cx="151.6" cy="344.48" r="1.95"/><circle cx="164.52" cy="350.06" r="1.95"/><circle cx="55.55" cy="349.94" r="1.95"/><circle cx="182.29" cy="354.8" r="1.95"/><circle cx="295.42" cy="339.74" r="1.95"/><circle cx="70.86" cy="347.97" r="1.95"/><circle cx="308.92" cy="345.46" r="1.95"/><circle cx="186.27" cy="356.33" r="1.95"/><circle cx="111.21" cy="346.6" r="1.95"/><circle cx="315.48" cy="345" r="1.95"/><circle cx="182.02" cy="357.83" r="1.95"/><circle cx="172.16" cy="352.6" r="1.95"/><circle cx="155.88" cy="342.55" r="1.95"/><circle cx="291.84" cy="345.66" r="1.95"/><circle cx="89.49" cy="344.26" r="1.95"/><circle cx="111.18" cy="345.83" r="1.95"/><circle cx="130.77" cy="337.69" r="1.95"/><circle cx="71.31" cy="346.08" r="1.95"/><circle cx="281.81" cy="344.45" r="1.95"/><circle cx="186.08" cy="358.1" r="1.95"/><circle cx="216.51" cy="356.76" r="1.95"/><circle cx="292.96" cy="346.77" r="1.95"/><circle cx="187.74" cy="356.91" r="1.95"/><circle cx="128.91" cy="337.61" r="1.95"/><circle cx="197.56" cy="356.21" r="1.95"/><circle cx="189.21" cy="358.11" r="1.95"/><circle cx="134.97" cy="336.49" r="1.95"/><circle cx="116.92" cy="338.11" r="1.95"/><circle cx="150.86" cy="339.93" r="1.95"/><circle cx="252.45" cy="342.65" r="1.95"/><circle cx="99.02" cy="345.71" r="1.95"/><circle cx="322.74" cy="343.83" r="1.95"/><circle cx="117.86" cy="340.72" r="1.95"/><circle cx="127.92" cy="340.13" r="1.95"/><circle cx="87.59" cy="346.86" r="1.95"/><circle cx="160.03" cy="343.64" r="1.95"/><circle cx="154.64" cy="343.73" r="1.95"/><circle cx="238.11" cy="353.11" r="1.95"/><circle cx="295.8" cy="344.56" r="1.95"/><circle cx="121.25" cy="341.55" r="1.95"/><circle cx="272.47" cy="343.66" r="1.95"/><circle cx="137.52" cy="337.91" r="1.95"/><circle cx="164.03" cy="349.41" r="1.95"/><circle cx="89.04" cy="344.57" r="1.95"/><circle cx="294.91" cy="344.49" r="1.95"/><circle cx="155.03" cy="343.86" r="1.95"/><circle cx="243.24" cy="349.85" r="1.95"/><circle cx="61.62" cy="347.98" r="1.95"/><circle cx="242.23" cy="348.47" r="1.95"/><circle cx="115.45" cy="340.53" r="1.95"/><circle cx="176.08" cy="354.47" r="1.95"/><circle cx="235.95" cy="347.71" r="1.95"/><circle cx="100.47" cy="342.15" r="1.95"/><circle cx="196.47" cy="356.56" r="1.95"/><circle cx="279.56" cy="342.43" r="1.95"/><circle cx="98.51" cy="343.47" r="1.95"/><circle cx="180.43" cy="354.06" r="1.95"/><circle cx="104.07" cy="341.61" r="1.95"/><circle cx="93.09" cy="346.4" r="1.95"/><circle cx="186.46" cy="357.62" r="1.95"/><circle cx="177.48" cy="350.12" r="1.95"/><circle cx="227.88" cy="353.9" r="1.95"/><circle cx="285.51" cy="340.86" r="1.95"/><circle cx="244.78" cy="351.28" r="1.95"/><circle cx="145.07" cy="336" r="1.95"/><circle cx="185.4" cy="355.65" r="1.95"/><circle cx="235.95" cy="351.65" r="1.95"/><circle cx="280.37" cy="342.51" r="1.95"/><circle cx="238.36" cy="350.52" r="1.95"/><circle cx="189.85" cy="361.62" r="1.95"/><circle cx="90.44" cy="345.98" r="1.95"/><circle cx="288.33" cy="345.79" r="1.95"/><circle cx="130.27" cy="338.29" r="1.95"/><circle cx="163.59" cy="347.54" r="1.95"/><circle cx="292.72" cy="348.59" r="1.95"/><circle cx="110.34" cy="344.82" r="1.95"/><circle cx="300.59" cy="348.14" r="1.95"/><circle cx="116.2" cy="338.17" r="1.95"/><circle cx="77.99" cy="347.65" r="1.95"/><circle cx="192.82" cy="359.26" r="1.95"/><circle cx="268.68" cy="340.66" r="1.95"/><circle cx="162.86" cy="354.61" r="1.95"/><circle cx="281.45" cy="344.36" r="1.95"/><circle cx="161.24" cy="347.71" r="1.95"/><circle cx="274" cy="342.89" r="1.95"/><circle cx="84.86" cy="348.52" r="1.95"/><circle cx="130.81" cy="338.11" r="1.95"/><circle cx="87.48" cy="347.43" r="1.95"/><circle cx="253.68" cy="346.59" r="1.95"/><circle cx="180.97" cy="358.22" r="1.95"/><circle cx="231.06" cy="350.14" r="1.95"/><circle cx="118.7" cy="338.46" r="1.95"/><circle cx="252.35" cy="341.77" r="1.95"/><circle cx="321.86" cy="345.73" r="1.95"/><circle cx="75.79" cy="348.89" r="1.95"/><circle cx="140.36" cy="337.85" r="1.95"/><circle cx="288.63" cy="341.53" r="1.95"/><circle cx="283.84" cy="342.6" r="1.95"/><circle cx="289.34" cy="346.42" r="1.95"/><circle cx="115.52" cy="339.15" r="1.95"/><circle cx="206.16" cy="358.19" r="1.95"/><circle cx="77.68" cy="346.44" r="1.95"/><circle cx="170.57" cy="348.07" r="1.95"/><circle cx="209.65" cy="360.13" r="1.95"/><circle cx="124.13" cy="339.01" r="1.95"/><circle cx="168.18" cy="352.96" r="1.95"/><circle cx="153.12" cy="340.18" r="1.95"/><circle cx="77.29" cy="343.93" r="1.95"/><circle cx="72.95" cy="344.32" r="1.95"/><circle cx="264.85" cy="342.49" r="1.95"/><circle cx="55.29" cy="345.97" r="1.95"/><circle cx="320.07" cy="345.78" r="1.95"/><circle cx="296.09" cy="349.42" r="1.95"/><circle cx="320.38" cy="348.49" r="1.95"/><circle cx="266.07" cy="340.19" r="1.95"/><circle cx="55.16" cy="344.28" r="1.95"/><circle cx="85.73" cy="350.29" r="1.95"/><circle cx="140.32" cy="335.63" r="1.95"/><circle cx="103.34" cy="346.87" r="1.95"/><circle cx="70.79" cy="349.77" r="1.95"/><circle cx="301.44" cy="344.81" r="1.95"/><circle cx="299.63" cy="345.19" r="1.95"/><circle cx="261.06" cy="342.64" r="1.95"/><circle cx="122.65" cy="336.7" r="1.95"/><circle cx="284.04" cy="341.05" r="1.95"/><circle cx="275.1" cy="341.64" r="1.95"/><circle cx="141.65" cy="337.94" r="1.95"/><circle cx="88.88" cy="344.79" r="1.95"/><circle cx="91.01" cy="344.86" r="1.95"/><circle cx="164.63" cy="349.28" r="1.95"/><circle cx="278.59" cy="339.71" r="1.95"/><circle cx="75.06" cy="348.97" r="1.95"/><circle cx="170.22" cy="346.78" r="1.95"/><circle cx="149.99" cy="338.87" r="1.95"/><circle cx="294.82" cy="346.38" r="1.95"/><circle cx="95.69" cy="341.23" r="1.95"/><circle cx="231.05" cy="354.37" r="1.95"/><circle cx="141.48" cy="338.89" r="1.95"/><circle cx="228.61" cy="351.7" r="1.95"/><circle cx="275.93" cy="343.12" r="1.95"/><circle cx="276.57" cy="340.14" r="1.95"/><circle cx="282.2" cy="344.29" r="1.95"/><circle cx="133.3" cy="335.28" r="1.95"/><circle cx="128.8" cy="336.78" r="1.95"/><circle cx="87.53" cy="349.23" r="1.95"/><circle cx="123.26" cy="339.59" r="1.95"/><circle cx="86.64" cy="349.33" r="1.95"/><circle cx="265.63" cy="343.31" r="1.95"/><circle cx="67.24" cy="344.14" r="1.95"/><circle cx="106.13" cy="344.08" r="1.95"/><circle cx="267.29" cy="342.96" r="1.95"/><circle cx="261.45" cy="339.06" r="1.95"/><circle cx="316.66" cy="348.62" r="1.95"/><circle cx="157.81" cy="345.87" r="1.95"/><circle cx="66.65" cy="347.84" r="1.95"/><circle cx="272.14" cy="340.17" r="1.95"/><circle cx="131.6" cy="335.44" r="1.95"/><circle cx="262.71" cy="342.86" r="1.95"/><circle cx="59.72" cy="345.98" r="1.95"/><circle cx="63.87" cy="347.41" r="1.95"/><circle cx="215.57" cy="352.78" r="1.95"/><circle cx="238.73" cy="353.67" r="1.95"/><circle cx="205.84" cy="355.86" r="1.95"/><circle cx="197.82" cy="353.42" r="1.95"/><circle cx="215.3" cy="355.5" r="1.95"/><circle cx="89.76" cy="343.7" r="1.95"/><circle cx="71.63" cy="347.17" r="1.95"/><circle cx="148.59" cy="337.32" r="1.95"/><circle cx="202.02" cy="359.13" r="1.95"/><circle cx="121.52" cy="336.76" r="1.95"/><circle cx="102.71" cy="348.82" r="1.95"/><circle cx="174.71" cy="354.54" r="1.95"/><circle cx="164.83" cy="354.93" r="1.95"/><circle cx="126.86" cy="334.78" r="1.95"/><circle cx="304.15" cy="347.85" r="1.95"/><circle cx="308.44" cy="344.19" r="1.95"/><circle cx="67.1" cy="348.25" r="1.95"/><circle cx="183.78" cy="357.45" r="1.95"/><circle cx="118.53" cy="335.94" r="1.95"/><circle cx="145.01" cy="334.41" r="1.95"/><circle cx="62.17" cy="344.42" r="1.95"/><circle cx="76.07" cy="342.11" r="1.95"/><circle cx="63.53" cy="345.52" r="1.95"/><circle cx="88.34" cy="343.72" r="1.95"/><circle cx="229.35" cy="350.13" r="1.95"/><circle cx="75.6" cy="345.78" r="1.95"/><circle cx="293.09" cy="346.03" r="1.95"/><circle cx="270.64" cy="339.03" r="1.95"/><circle cx="127.01" cy="335.77" r="1.95"/><circle cx="240.72" cy="349.82" r="1.95"/><circle cx="310.86" cy="345.63" r="1.95"/><circle cx="85.81" cy="344.71" r="1.95"/><circle cx="205.33" cy="360.28" r="1.95"/><circle cx="179.88" cy="356.44" r="1.95"/><circle cx="138.07" cy="338.57" r="1.95"/><circle cx="132.04" cy="334.69" r="1.95"/><circle cx="77.79" cy="350.3" r="1.95"/><circle cx="228.76" cy="357.62" r="1.95"/><circle cx="107.75" cy="342.47" r="1.95"/><circle cx="168.34" cy="351.4" r="1.95"/><circle cx="304.44" cy="349.06" r="1.95"/><circle cx="148.29" cy="337.35" r="1.95"/><circle cx="139.65" cy="337.54" r="1.95"/><circle cx="305.62" cy="346.5" r="1.95"/><circle cx="211.66" cy="356.58" r="1.95"/><circle cx="208.14" cy="357.83" r="1.95"/><circle cx="114.39" cy="337.24" r="1.95"/><circle cx="227.18" cy="352.81" r="1.95"/><circle cx="156.61" cy="340.23" r="1.95"/><circle cx="200.95" cy="363.7" r="1.95"/><circle cx="161.59" cy="351.96" r="1.95"/><circle cx="76.33" cy="348.4" r="1.95"/><circle cx="290.86" cy="345.02" r="1.95"/><circle cx="240.79" cy="352.06" r="1.95"/><circle cx="312.55" cy="348.88" r="1.95"/><circle cx="137.03" cy="339.14" r="1.95"/><circle cx="130.29" cy="337.78" r="1.95"/><circle cx="91.03" cy="343.2" r="1.95"/><circle cx="136.83" cy="337.68" r="1.95"/><circle cx="142.05" cy="334.69" r="1.95"/><circle cx="104.04" cy="340.89" r="1.95"/><circle cx="125.75" cy="334.93" r="1.95"/><circle cx="133.68" cy="336.05" r="1.95"/><circle cx="285.55" cy="345.86" r="1.95"/><circle cx="174.68" cy="350.11" r="1.95"/><circle cx="275.27" cy="346.56" r="1.95"/><circle cx="67.9" cy="350.11" r="1.95"/><circle cx="105.25" cy="342.62" r="1.95"/><circle cx="311.07" cy="345.05" r="1.95"/><circle cx="68.05" cy="346.53" r="1.95"/><circle cx="73.21" cy="347.89" r="1.95"/><circle cx="193.99" cy="357.42" r="1.95"/><circle cx="132.55" cy="332.49" r="1.95"/><circle cx="106.8" cy="344.19" r="1.95"/><circle cx="218.43" cy="352.1" r="1.95"/><circle cx="218.53" cy="357.14" r="1.95"/><circle cx="105.15" cy="346.17" r="1.95"/><circle cx="199.67" cy="359.13" r="1.95"/><circle cx="176.98" cy="355.55" r="1.95"/><circle cx="282.47" cy="344.24" r="1.95"/><circle cx="72.93" cy="347.32" r="1.95"/><circle cx="117.28" cy="340.18" r="1.95"/><circle cx="206.67" cy="356.45" r="1.95"/><circle cx="63.49" cy="346.64" r="1.95"/><circle cx="282.25" cy="342.91" r="1.95"/><circle cx="315.24" cy="348.52" r="1.95"/><circle cx="142.91" cy="339.74" r="1.95"/><circle cx="263.15" cy="343.03" r="1.95"/><circle cx="121.58" cy="337.18" r="1.95"/><circle cx="309.81" cy="344.56" r="1.95"/><circle cx="111.51" cy="342.44" r="1.95"/><circle cx="56.09" cy="349.14" r="1.95"/><circle cx="72.89" cy="346.42" r="1.95"/><circle cx="178.02" cy="353.86" r="1.95"/><circle cx="64.83" cy="345.4" r="1.95"/><circle cx="318.52" cy="347.47" r="1.95"/><circle cx="224.47" cy="355.5" r="1.95"/><circle cx="207.69" cy="358.23" r="1.95"/><circle cx="223.15" cy="355.5" r="1.95"/><circle cx="167.12" cy="355.17" r="1.95"/><circle cx="293.03" cy="344.36" r="1.95"/><circle cx="246.46" cy="349.24" r="1.95"/><circle cx="170.39" cy="355.02" r="1.95"/><circle cx="131" cy="335.53" r="1.95"/><circle cx="93.38" cy="346.8" r="1.95"/><circle cx="139.38" cy="336.42" r="1.95"/><circle cx="149.6" cy="338.16" r="1.95"/><circle cx="76.16" cy="344.92" r="1.95"/><circle cx="303.59" cy="344.15" r="1.95"/><circle cx="123.97" cy="339.41" r="1.95"/><circle cx="199.93" cy="358.46" r="1.95"/><circle cx="72.31" cy="347.05" r="1.95"/><circle cx="203.16" cy="360.32" r="1.95"/><circle cx="228.47" cy="346.49" r="1.95"/><circle cx="75.98" cy="346.25" r="1.95"/><circle cx="317.23" cy="341.34" r="1.95"/><circle cx="98.43" cy="344.47" r="1.95"/><circle cx="125.3" cy="335.72" r="1.95"/><circle cx="252.84" cy="344.07" r="1.95"/><circle cx="145.19" cy="340.22" r="1.95"/><circle cx="290.6" cy="340.32" r="1.95"/><circle cx="118.65" cy="339.98" r="1.95"/><circle cx="139.05" cy="336.63" r="1.95"/><circle cx="240.94" cy="345.34" r="1.95"/><circle cx="286.1" cy="344.98" r="1.95"/><circle cx="292.51" cy="344.7" r="1.95"/><circle cx="132.08" cy="333.96" r="1.95"/><circle cx="197.49" cy="356.73" r="1.95"/><circle cx="165.15" cy="357.93" r="1.95"/><circle cx="236.56" cy="350.31" r="1.95"/><circle cx="115.74" cy="336.12" r="1.95"/><circle cx="280.46" cy="340.8" r="1.95"/><circle cx="246.59" cy="344.42" r="1.95"/><circle cx="101.6" cy="342.91" r="1.95"/><circle cx="139.07" cy="336.62" r="1.95"/><circle cx="145.02" cy="334.58" r="1.95"/><circle cx="304.95" cy="347.59" r="1.95"/><circle cx="177.33" cy="352.71" r="1.95"/><circle cx="220.46" cy="353.05" r="1.95"/><circle cx="305.14" cy="344.47" r="1.95"/><circle cx="161.31" cy="347.39" r="1.95"/><circle cx="309.3" cy="348.23" r="1.95"/><circle cx="133.17" cy="336.14" r="1.95"/><circle cx="57.93" cy="345.56" r="1.95"/><circle cx="82.14" cy="346.34" r="1.95"/><circle cx="240.94" cy="350.19" r="1.95"/><circle cx="157.19" cy="349.9" r="1.95"/><circle cx="278.97" cy="341.41" r="1.95"/><circle cx="198.03" cy="359.48" r="1.95"/><circle cx="239.15" cy="352.02" r="1.95"/><circle cx="149.45" cy="337.77" r="1.95"/><circle cx="212.65" cy="358.52" r="1.95"/><circle cx="242.49" cy="349.38" r="1.95"/><circle cx="155.97" cy="343.26" r="1.95"/><circle cx="186.67" cy="358.33" r="1.95"/><circle cx="281.69" cy="345.4" r="1.95"/><circle cx="304.74" cy="348.93" r="1.95"/><circle cx="148.84" cy="339.11" r="1.95"/><circle cx="72.55" cy="346.14" r="1.95"/><circle cx="281.29" cy="348.41" r="1.95"/><circle cx="174.95" cy="350.76" r="1.95"/><circle cx="315.53" cy="346.11" r="1.95"/><circle cx="259.93" cy="344.68" r="1.95"/><circle cx="153.62" cy="343.08" r="1.95"/><circle cx="283.49" cy="344.71" r="1.95"/><circle cx="202.02" cy="358.83" r="1.95"/><circle cx="246.62" cy="346.98" r="1.95"/><circle cx="292.82" cy="347.63" r="1.95"/><circle cx="210.74" cy="357.73" r="1.95"/><circle cx="309.63" cy="346.71" r="1.95"/><circle cx="161.78" cy="348.47" r="1.95"/><circle cx="156.5" cy="343.79" r="1.95"/><circle cx="226.91" cy="354.07" r="1.95"/><circle cx="163.56" cy="347.12" r="1.95"/><circle cx="245.02" cy="348.75" r="1.95"/><circle cx="197.56" cy="362.31" r="1.95"/><circle cx="254.43" cy="347.57" r="1.95"/><circle cx="276.88" cy="345.6" r="1.95"/><circle cx="207.31" cy="356.13" r="1.95"/><circle cx="300.75" cy="349.41" r="1.95"/><circle cx="264.86" cy="340.22" r="1.95"/><circle cx="285.31" cy="343.27" r="1.95"/><circle cx="59.75" cy="350.94" r="1.95"/><circle cx="58.66" cy="344.03" r="1.95"/><circle cx="225.4" cy="356.49" r="1.95"/><circle cx="144.16" cy="337.16" r="1.95"/><circle cx="289.59" cy="343.71" r="1.95"/><circle cx="160" cy="345.3" r="1.95"/><circle cx="254.83" cy="344.57" r="1.95"/><circle cx="120.76" cy="338.03" r="1.95"/><circle cx="224.02" cy="357.38" r="1.95"/><circle cx="297.04" cy="348.21" r="1.95"/><circle cx="286.66" cy="340.4" r="1.95"/><circle cx="153.18" cy="341.27" r="1.95"/><circle cx="184.25" cy="355.31" r="1.95"/><circle cx="198.69" cy="355.7" r="1.95"/><circle cx="147.28" cy="335.89" r="1.95"/><circle cx="184.83" cy="356.48" r="1.95"/><circle cx="314.25" cy="345.26" r="1.95"/><circle cx="291.43" cy="340.61" r="1.95"/><circle cx="139.21" cy="335.52" r="1.95"/><circle cx="238.68" cy="351.7" r="1.95"/><circle cx="309.92" cy="343.46" r="1.95"/><circle cx="152.02" cy="339.53" r="1.95"/><circle cx="283" cy="346.8" r="1.95"/><circle cx="269.23" cy="344.92" r="1.95"/><circle cx="293.3" cy="341.05" r="1.95"/><circle cx="77.22" cy="342.54" r="1.95"/><circle cx="303.05" cy="347.06" r="1.95"/><circle cx="318.69" cy="342.7" r="1.95"/><circle cx="119.5" cy="338.78" r="1.95"/><circle cx="224.99" cy="353.64" r="1.95"/><circle cx="78.77" cy="347.14" r="1.95"/><circle cx="216.71" cy="351.53" r="1.95"/><circle cx="245.31" cy="341.58" r="1.95"/><circle cx="255.29" cy="340.71" r="1.95"/><circle cx="285.25" cy="345.72" r="1.95"/><circle cx="133.52" cy="334.69" r="1.95"/><circle cx="85.72" cy="342.37" r="1.95"/><circle cx="274.51" cy="343.59" r="1.95"/><circle cx="61.42" cy="348.59" r="1.95"/><circle cx="117.28" cy="339.28" r="1.95"/><circle cx="118.29" cy="338.85" r="1.95"/><circle cx="263.25" cy="343.05" r="1.95"/><circle cx="173.55" cy="355.75" r="1.95"/><circle cx="280.11" cy="343.26" r="1.95"/><circle cx="234.37" cy="353.16" r="1.95"/><circle cx="281.49" cy="342.91" r="1.95"/><circle cx="266.2" cy="340.92" r="1.95"/><circle cx="291.5" cy="342.32" r="1.95"/><circle cx="128.86" cy="336.81" r="1.95"/><circle cx="150.23" cy="339.79" r="1.95"/></g>
<line x1="53.7" y1="364.5" x2="323.8" y2="364.5" stroke="#1a1a1a" stroke-width="1.5" stroke-dasharray="6.1,3.45"/>
<text x="205.8" y="380.8" font-size="9.35" fill="#231f20">218 nPa Hz<tspan font-size="5.9" dy="-4.0">−1/2</tspan><tspan dy="4.0" dx="1.2"> @289 kHz</tspan></text>
<rect x="77.8" y="372.2" width="115.8" height="57.3" fill="#fff"/>
<rect x="109.1" y="372.2" width="3.8" height="57.3" fill="#e2e2e2"/>
<rect x="192.3" y="372.2" width="1.4" height="57.3" fill="#d0d0d0"/>
<path d="M79.53,385.78 L79.97,373.07 L80.41,380.81 L80.85,380.1 L81.3,385.18 L81.74,382.61 L82.18,387.39 L82.62,380.23 L83.06,382.86 L83.5,375.84 L83.77,388.02 L83.94,390.86 L84.38,385.38 L84.83,382.36 L85.27,372 L85.53,381.34 L85.71,382.58 L86.15,384.62 L86.59,387.54 L87.03,384.13 L87.47,382.86 L87.92,387.11 L88.36,389.91 L88.8,384.85 L89.24,386.08 L89.68,388.18 L90.12,389.53 L90.56,387.59 L91,388.42 L91.45,392.6 L91.89,394.73 L92.33,391.86 L92.77,391.33 L93.21,392.03 L93.65,393.54 L94.09,390.49 L94.53,389.96 L94.98,393.51 L95.42,395.99 L95.86,394.71 L96.3,393.36 L96.74,391.96 L97.18,390.68 L97.62,395.16 L98.07,396.65 L98.51,394.89 L98.95,395.91 L99.39,397.17 L99.83,397.4 L100.27,397.25 L100.71,396.54 L101.15,395.42 L101.6,390.11 L101.86,397.27 L102.21,398.93 L102.74,399.51 L103.36,398.61 L103.8,399.71 L104.24,401.3 L104.68,396.82 L105.13,390.86 L105.39,397.43 L105.74,400.84 L106.1,401.81 L106.45,402.86 L106.89,400.99 L107.33,398.94 L107.77,401.15 L108.22,402.93 L108.66,401.9 L109.1,402.33 L109.54,400.67 L109.98,399.62 L110.42,402.8 L110.86,403.92 L111.3,403.35 L111.75,402.47 L112.19,402.53 L112.63,404.23 L113.07,402.23 L113.51,402.26 L113.95,398.87 L114.39,397.4 L114.83,397.5 L115.28,397.11 L115.72,396.82 L116.16,396.08 L116.6,396.88 L117.04,396.08 L117.48,396.8 L117.92,396.83 L118.37,397.19 L118.81,397.44 L119.25,396.46 L119.69,396.86 L120.13,396.79 L120.57,395.97 L121.01,396.48 L121.45,396.79 L121.9,396.65 L122.34,396.84 L122.78,395.61 L123.22,396.58 L123.66,396.37 L124.1,395.74 L124.54,394.97 L124.98,395.16 L125.43,394.47 L125.87,394.79 L126.31,394.32 L126.75,394.42 L127.19,393.64 L127.63,394.39 L128.07,392.62 L128.52,393.06 L128.96,393.61 L129.22,389.62 L129.4,387.1 L129.57,389.75 L129.84,391.22 L130.28,390.68 L130.72,390.81 L131.16,390.95 L131.6,390.69 L132.05,390.44 L132.49,391.45 L132.93,390.17 L133.37,389.42 L133.81,390.07 L134.25,389.82 L134.69,389.79 L135.14,389.81 L135.58,388.35 L136.02,389.01 L135.81,389.79 L136.2,389.43 L136.59,389.7 L136.97,388.39 L137.36,389.64 L137.75,390.86 L138.14,389.4 L138.52,390.12 L138.9,390.34 L139.28,390.32 L139.66,390.64 L140.03,388.97 L140.41,389.63 L140.79,389.84 L141.16,388.72 L141.54,389.14 L141.92,389.85 L142.3,389.45 L142.67,388.95 L143.05,387.38 L143.43,388.42 L143.8,388.58 L144.18,388.19 L144.56,388.22 L144.94,389.56 L145.31,388 L145.69,387.51 L146.07,387.91 L146.44,387.51 L146.82,387.36 L147.2,387.31 L147.57,387.54 L148.03,387.15 L148.48,386.35 L148.93,386.68 L149.38,386.96 L149.84,386.53 L150.29,387.26 L150.74,387.39 L151.19,386.9 L151.65,387.79 L152.1,388.99 L152.55,389.25 L153.19,391.69 L153.58,390.62 L153.97,388.4 L154.36,386.54 L154.81,385.94 L155.27,384.29 L155.72,382.9 L156.17,381.15 L156.62,379.8 L157.08,377.91 L157.47,376.85 L157.86,375.5 L158.25,373.59 L158.62,375.34 L158.98,375.54 L159.34,377.34 L159.79,379.02 L160.24,379.84 L160.7,379.71 L161.15,380.09 L161.6,380.11 L162.05,381.05 L162.51,381.45 L162.96,380.65 L163.32,381.44 L163.68,381.28 L164.05,381.13 L164.41,380.3 L164.77,380.92 L165.13,379.86 L165.49,381.06 L165.86,380.31 L166.22,379.58 L166.58,380.56 L167.03,380.17 L167.48,379.06 L167.94,380.04 L168.39,378.15 L168.84,378.29 L169.48,376.87 L169.93,373.5 L170.2,378.6 L170.56,381.74 L170.92,379.95 L171.29,379.02 L171.65,379.2 L172.01,378.1 L172.46,378.46 L172.91,379 L173.37,378.95 L173.82,380.51 L174.27,379.51 L174.72,380.07 L175.09,380.63 L175.45,381.13 L175.81,381.85 L176.17,382.22 L176.53,382.08 L176.9,382.32 L177.26,382.78 L177.62,383.4 L177.98,383.62 L178.34,383.34 L178.8,382.35 L179.25,383.94 L179.7,383.1 L180.15,382.49 L180.61,382.22 L181.06,381.53 L181.42,381.22 L181.78,381.43 L182.14,381.39 L182.51,381.12 L182.87,380.66 L183.23,381.08 L183.59,381.39 L183.95,380.82 L184.32,380.96 L184.68,379.93 L185.04,380.68 L185.4,380.62 L185.76,380.04 L186.13,379.72 L186.49,380.59 L186.85,379.95 L187.21,380.45 L187.57,379.95 L187.94,380.33 L188.3,379.8 L188.66,379.42 L189.02,380.21 L189.38,380.24 L189.75,380.83 L190.11,380.48 L190.47,380.63 L190.83,381.32 L191.19,381.58 L191.56,381.53 L191.92,381.78 L192.28,381.67 L192.64,381.96 L193,382.16" stroke="#b8252f" stroke-width="1.7" fill="none" stroke-linejoin="round"/>
<path d="M111.3,403 L112.09,404.91 L114.15,405.07 L112.58,406.42 L113.06,408.43 L111.3,407.35 L109.54,408.43 L110.02,406.42 L108.45,405.07 L110.51,404.91Z" stroke="#2aa655" stroke-width="1.1" fill="none"/>
<line x1="77.8" y1="372.2" x2="193.6" y2="372.2" stroke="#b0b0b0" stroke-width="0.9" />
<line x1="193.6" y1="372.2" x2="193.6" y2="429.5" stroke="#b0b0b0" stroke-width="0.9" />
<line x1="77.8" y1="429.5" x2="193.6" y2="429.5" stroke="#3c3c3c" stroke-width="0.9" />
<line x1="77.8" y1="372.2" x2="77.8" y2="429.5" stroke="#3c3c3c" stroke-width="0.9" />
<line x1="75.6" y1="377.3" x2="77.8" y2="377.3" stroke="#3c3c3c" stroke-width="0.8" />
<line x1="75.6" y1="397.6" x2="77.8" y2="397.6" stroke="#3c3c3c" stroke-width="0.8" />
<line x1="75.6" y1="418" x2="77.8" y2="418" stroke="#3c3c3c" stroke-width="0.8" />
<line x1="76.6" y1="387.5" x2="77.8" y2="387.5" stroke="#3c3c3c" stroke-width="0.6" />
<line x1="76.6" y1="407.8" x2="77.8" y2="407.8" stroke="#3c3c3c" stroke-width="0.6" />
<line x1="76.6" y1="428.1" x2="77.8" y2="428.1" stroke="#3c3c3c" stroke-width="0.6" />
<line x1="77.8" y1="429.5" x2="77.8" y2="431.7" stroke="#3c3c3c" stroke-width="0.8" />
<line x1="89.38" y1="429.5" x2="89.38" y2="430.8" stroke="#3c3c3c" stroke-width="0.8" />
<line x1="100.96" y1="429.5" x2="100.96" y2="430.8" stroke="#3c3c3c" stroke-width="0.8" />
<line x1="112.54" y1="429.5" x2="112.54" y2="430.8" stroke="#3c3c3c" stroke-width="0.8" />
<line x1="124.12" y1="429.5" x2="124.12" y2="430.8" stroke="#3c3c3c" stroke-width="0.8" />
<line x1="135.7" y1="429.5" x2="135.7" y2="431.7" stroke="#3c3c3c" stroke-width="0.8" />
<line x1="147.28" y1="429.5" x2="147.28" y2="430.8" stroke="#3c3c3c" stroke-width="0.8" />
<line x1="158.86" y1="429.5" x2="158.86" y2="430.8" stroke="#3c3c3c" stroke-width="0.8" />
<line x1="170.44" y1="429.5" x2="170.44" y2="430.8" stroke="#3c3c3c" stroke-width="0.8" />
<line x1="182.02" y1="429.5" x2="182.02" y2="430.8" stroke="#3c3c3c" stroke-width="0.8" />
<line x1="193.6" y1="429.5" x2="193.6" y2="431.7" stroke="#3c3c3c" stroke-width="0.8" />
<text x="73.8" y="381.9" font-size="7.8" text-anchor="end" fill="#231f20">10<tspan font-size="5.4" dy="-3.1">−4</tspan></text>
<text x="73.8" y="402.2" font-size="7.8" text-anchor="end" fill="#231f20">10<tspan font-size="5.4" dy="-3.1">−6</tspan></text>
<text x="73.8" y="422.6" font-size="7.8" text-anchor="end" fill="#231f20">10<tspan font-size="5.4" dy="-3.1">−8</tspan></text>
<text x="77.8" y="439" font-size="8.4" text-anchor="middle" font-weight="normal" fill="#231f20" >0</text>
<text x="135.7" y="439" font-size="8.4" text-anchor="middle" font-weight="normal" fill="#231f20" >0.5</text>
<text x="193" y="439" font-size="8.4" text-anchor="middle" font-weight="normal" fill="#231f20" >1</text>
<g fill="#1e52a3" fill-opacity="1"><circle cx="485.19" cy="391.85" r="1.95"/><circle cx="440.86" cy="375.13" r="1.95"/><circle cx="644.34" cy="349.22" r="1.95"/><circle cx="498.14" cy="396.27" r="1.95"/><circle cx="608.72" cy="359.3" r="1.95"/><circle cx="646.33" cy="347.21" r="1.95"/><circle cx="482.6" cy="393.28" r="1.95"/><circle cx="408" cy="381.24" r="1.95"/><circle cx="547.83" cy="387.26" r="1.95"/><circle cx="469.86" cy="389.29" r="1.95"/><circle cx="641.67" cy="351.41" r="1.95"/><circle cx="450.84" cy="383.87" r="1.95"/><circle cx="600.62" cy="365.31" r="1.95"/><circle cx="413.41" cy="377.23" r="1.95"/><circle cx="479.44" cy="388.15" r="1.95"/><circle cx="459.46" cy="386.64" r="1.95"/><circle cx="635.8" cy="354.25" r="1.95"/><circle cx="567.73" cy="381.64" r="1.95"/><circle cx="584.01" cy="370.82" r="1.95"/><circle cx="428.65" cy="378.71" r="1.95"/><circle cx="489.55" cy="394.28" r="1.95"/><circle cx="646.66" cy="351.5" r="1.95"/><circle cx="571.52" cy="377.59" r="1.95"/><circle cx="610.38" cy="361.07" r="1.95"/><circle cx="541.52" cy="389.39" r="1.95"/><circle cx="461.74" cy="389.93" r="1.95"/><circle cx="652.45" cy="345.78" r="1.95"/><circle cx="477.51" cy="388.66" r="1.95"/><circle cx="452.25" cy="384.74" r="1.95"/><circle cx="581.12" cy="372.83" r="1.95"/><circle cx="429.72" cy="380.06" r="1.95"/><circle cx="612.25" cy="361.99" r="1.95"/><circle cx="598.12" cy="366.36" r="1.95"/><circle cx="509.62" cy="405.66" r="1.95"/><circle cx="545.11" cy="388.15" r="1.95"/><circle cx="537.54" cy="388.85" r="1.95"/><circle cx="426.6" cy="378.71" r="1.95"/><circle cx="427.93" cy="378.65" r="1.95"/><circle cx="501.33" cy="401.92" r="1.95"/><circle cx="408.26" cy="372.86" r="1.95"/><circle cx="456.43" cy="385.82" r="1.95"/><circle cx="504.88" cy="401.18" r="1.95"/><circle cx="575.28" cy="377.73" r="1.95"/><circle cx="545.26" cy="390.74" r="1.95"/><circle cx="453.23" cy="383.54" r="1.95"/><circle cx="610.85" cy="364" r="1.95"/><circle cx="620.28" cy="358.78" r="1.95"/><circle cx="584.86" cy="369.99" r="1.95"/><circle cx="591.62" cy="372.59" r="1.95"/><circle cx="474.7" cy="393.11" r="1.95"/><circle cx="632.09" cy="357.27" r="1.95"/><circle cx="563.95" cy="382.7" r="1.95"/><circle cx="454.26" cy="386.38" r="1.95"/><circle cx="590.66" cy="370.01" r="1.95"/><circle cx="575.33" cy="372.59" r="1.95"/><circle cx="559.53" cy="384.81" r="1.95"/><circle cx="533.24" cy="399.35" r="1.95"/><circle cx="612.86" cy="362.93" r="1.95"/><circle cx="602.94" cy="365.68" r="1.95"/><circle cx="565.02" cy="378.42" r="1.95"/><circle cx="424.55" cy="376.95" r="1.95"/><circle cx="468.92" cy="392.53" r="1.95"/><circle cx="669.92" cy="342.05" r="1.95"/><circle cx="514.81" cy="411.99" r="1.95"/><circle cx="576.82" cy="374.91" r="1.95"/><circle cx="441.91" cy="377.32" r="1.95"/><circle cx="560.25" cy="381.23" r="1.95"/><circle cx="570.32" cy="376.52" r="1.95"/><circle cx="611.58" cy="359.88" r="1.95"/><circle cx="667.24" cy="342.74" r="1.95"/><circle cx="529.21" cy="418.6" r="1.95"/><circle cx="490.64" cy="392.84" r="1.95"/><circle cx="449.49" cy="378.86" r="1.95"/><circle cx="496.45" cy="396.24" r="1.95"/><circle cx="525.83" cy="425.34" r="1.95"/><circle cx="665.97" cy="340.48" r="1.95"/><circle cx="544.08" cy="389" r="1.95"/><circle cx="588.15" cy="371.53" r="1.95"/><circle cx="603.9" cy="362.84" r="1.95"/><circle cx="410.18" cy="376.31" r="1.95"/><circle cx="469.19" cy="392.41" r="1.95"/><circle cx="551.9" cy="386.28" r="1.95"/><circle cx="421.92" cy="374.14" r="1.95"/><circle cx="447.04" cy="381.03" r="1.95"/><circle cx="609.02" cy="362.94" r="1.95"/><circle cx="587.9" cy="369.84" r="1.95"/><circle cx="443.79" cy="377.6" r="1.95"/><circle cx="438.24" cy="370.79" r="1.95"/><circle cx="633.43" cy="351.5" r="1.95"/><circle cx="533.63" cy="396.16" r="1.95"/><circle cx="491.57" cy="395.02" r="1.95"/><circle cx="600.04" cy="369.16" r="1.95"/><circle cx="586.53" cy="373.28" r="1.95"/><circle cx="674.06" cy="337.81" r="1.95"/><circle cx="434.35" cy="373.89" r="1.95"/><circle cx="613.31" cy="362.94" r="1.95"/><circle cx="530.32" cy="416.12" r="1.95"/><circle cx="473.26" cy="392.81" r="1.95"/><circle cx="540.61" cy="390.37" r="1.95"/><circle cx="412.01" cy="380.33" r="1.95"/><circle cx="440.02" cy="369.59" r="1.95"/><circle cx="435.78" cy="373.59" r="1.95"/><circle cx="592.79" cy="369.03" r="1.95"/><circle cx="597.12" cy="367.63" r="1.95"/><circle cx="472.1" cy="394.07" r="1.95"/><circle cx="489.17" cy="394.93" r="1.95"/><circle cx="614.41" cy="358.99" r="1.95"/><circle cx="510.81" cy="407.28" r="1.95"/><circle cx="500.3" cy="399.47" r="1.95"/><circle cx="660.95" cy="340.89" r="1.95"/><circle cx="552.98" cy="389.08" r="1.95"/><circle cx="551.33" cy="387.94" r="1.95"/><circle cx="570.8" cy="377.32" r="1.95"/><circle cx="417.59" cy="378.11" r="1.95"/><circle cx="513.88" cy="415.02" r="1.95"/><circle cx="618.73" cy="359.37" r="1.95"/><circle cx="581.75" cy="371.21" r="1.95"/><circle cx="646.02" cy="353" r="1.95"/><circle cx="490.05" cy="392.59" r="1.95"/><circle cx="534.48" cy="393.87" r="1.95"/><circle cx="469.67" cy="388.61" r="1.95"/><circle cx="456.4" cy="388.09" r="1.95"/><circle cx="431" cy="375.66" r="1.95"/><circle cx="460.01" cy="388.4" r="1.95"/><circle cx="450.6" cy="383.16" r="1.95"/><circle cx="524.64" cy="424.84" r="1.95"/><circle cx="517.11" cy="414.01" r="1.95"/><circle cx="612.12" cy="360.37" r="1.95"/><circle cx="615.91" cy="361.27" r="1.95"/><circle cx="552.02" cy="388.04" r="1.95"/><circle cx="583.21" cy="374.67" r="1.95"/><circle cx="532.54" cy="403.35" r="1.95"/><circle cx="490.01" cy="392.61" r="1.95"/><circle cx="542" cy="386.85" r="1.95"/><circle cx="576.3" cy="377.03" r="1.95"/><circle cx="663.46" cy="340.04" r="1.95"/><circle cx="626.24" cy="357.78" r="1.95"/><circle cx="424.42" cy="381.69" r="1.95"/><circle cx="578.74" cy="372.86" r="1.95"/><circle cx="430.96" cy="376.68" r="1.95"/><circle cx="573.91" cy="371.29" r="1.95"/><circle cx="635.05" cy="352" r="1.95"/><circle cx="594.65" cy="365.56" r="1.95"/><circle cx="438.65" cy="370.69" r="1.95"/><circle cx="520.53" cy="420.51" r="1.95"/><circle cx="459.01" cy="385.6" r="1.95"/><circle cx="584.29" cy="373" r="1.95"/><circle cx="597.71" cy="368.55" r="1.95"/><circle cx="604.8" cy="363.9" r="1.95"/><circle cx="502.4" cy="399.51" r="1.95"/><circle cx="567.41" cy="375.69" r="1.95"/><circle cx="462.51" cy="388.03" r="1.95"/><circle cx="656.73" cy="349.7" r="1.95"/><circle cx="659" cy="343.14" r="1.95"/><circle cx="414.67" cy="378.21" r="1.95"/><circle cx="558.2" cy="383.3" r="1.95"/><circle cx="599.72" cy="368.67" r="1.95"/><circle cx="468.65" cy="391.97" r="1.95"/><circle cx="415.4" cy="377.03" r="1.95"/><circle cx="407.07" cy="371.21" r="1.95"/><circle cx="596.71" cy="367.18" r="1.95"/><circle cx="409.8" cy="378.45" r="1.95"/><circle cx="510.47" cy="407.01" r="1.95"/><circle cx="621.36" cy="359.51" r="1.95"/><circle cx="420.65" cy="374.52" r="1.95"/><circle cx="596.68" cy="364.52" r="1.95"/><circle cx="522.52" cy="425.88" r="1.95"/><circle cx="511.33" cy="409.07" r="1.95"/><circle cx="536.74" cy="390.48" r="1.95"/><circle cx="501.21" cy="398.94" r="1.95"/><circle cx="638.4" cy="352.28" r="1.95"/><circle cx="586.79" cy="369.38" r="1.95"/><circle cx="510.82" cy="408.56" r="1.95"/><circle cx="438.87" cy="370.06" r="1.95"/><circle cx="542.2" cy="384.28" r="1.95"/><circle cx="675.34" cy="339.35" r="1.95"/><circle cx="646.43" cy="348.25" r="1.95"/><circle cx="424.78" cy="377.57" r="1.95"/><circle cx="502.33" cy="401.28" r="1.95"/><circle cx="532.87" cy="400.65" r="1.95"/><circle cx="515.62" cy="414.7" r="1.95"/><circle cx="436.62" cy="374" r="1.95"/><circle cx="456.63" cy="386.35" r="1.95"/><circle cx="550.44" cy="385.46" r="1.95"/><circle cx="600.52" cy="365.31" r="1.95"/><circle cx="599.27" cy="369.07" r="1.95"/><circle cx="587.34" cy="369.94" r="1.95"/><circle cx="587.81" cy="368.76" r="1.95"/><circle cx="408.81" cy="375.45" r="1.95"/><circle cx="465.19" cy="390.88" r="1.95"/><circle cx="497.08" cy="397.52" r="1.95"/><circle cx="475.45" cy="392.92" r="1.95"/><circle cx="510.97" cy="406.41" r="1.95"/><circle cx="513.97" cy="411.04" r="1.95"/><circle cx="497.93" cy="397.02" r="1.95"/><circle cx="409.3" cy="375.83" r="1.95"/><circle cx="639.3" cy="347.32" r="1.95"/><circle cx="663.99" cy="341.75" r="1.95"/><circle cx="572.18" cy="373.72" r="1.95"/><circle cx="479.91" cy="394.22" r="1.95"/><circle cx="527.68" cy="423.42" r="1.95"/><circle cx="651.97" cy="350.77" r="1.95"/><circle cx="567.87" cy="379.98" r="1.95"/><circle cx="594.01" cy="368.07" r="1.95"/><circle cx="594.88" cy="370.69" r="1.95"/><circle cx="670.44" cy="339.04" r="1.95"/><circle cx="582.77" cy="372.79" r="1.95"/><circle cx="435.61" cy="370.66" r="1.95"/><circle cx="542.53" cy="387.93" r="1.95"/><circle cx="654.66" cy="347.3" r="1.95"/><circle cx="441.35" cy="377.33" r="1.95"/><circle cx="420.25" cy="375.65" r="1.95"/><circle cx="420.06" cy="380.26" r="1.95"/><circle cx="425.32" cy="385.06" r="1.95"/><circle cx="450.54" cy="380.28" r="1.95"/><circle cx="613.96" cy="361.16" r="1.95"/><circle cx="567.82" cy="376.53" r="1.95"/><circle cx="603.4" cy="365.28" r="1.95"/><circle cx="556.27" cy="384.63" r="1.95"/><circle cx="501.74" cy="399.93" r="1.95"/><circle cx="618.16" cy="361.46" r="1.95"/><circle cx="452.19" cy="385.63" r="1.95"/><circle cx="503.34" cy="401.76" r="1.95"/><circle cx="518.27" cy="417.19" r="1.95"/><circle cx="589.57" cy="370.26" r="1.95"/><circle cx="611.28" cy="362.53" r="1.95"/><circle cx="559.01" cy="384.97" r="1.95"/><circle cx="570.12" cy="377.35" r="1.95"/><circle cx="482.12" cy="392.83" r="1.95"/><circle cx="566.13" cy="376.67" r="1.95"/><circle cx="633.45" cy="354.94" r="1.95"/><circle cx="524.71" cy="428.51" r="1.95"/><circle cx="608.77" cy="363.65" r="1.95"/><circle cx="543.22" cy="386.65" r="1.95"/><circle cx="544.51" cy="392.74" r="1.95"/><circle cx="570.12" cy="376.69" r="1.95"/><circle cx="444.17" cy="371.83" r="1.95"/><circle cx="464.43" cy="389.06" r="1.95"/><circle cx="453.72" cy="385.82" r="1.95"/><circle cx="550.49" cy="389.28" r="1.95"/><circle cx="586.57" cy="373.08" r="1.95"/><circle cx="596.89" cy="369.39" r="1.95"/><circle cx="462.59" cy="388.71" r="1.95"/><circle cx="496.31" cy="392.66" r="1.95"/><circle cx="445.74" cy="377.31" r="1.95"/><circle cx="582.47" cy="372.04" r="1.95"/><circle cx="519.67" cy="420.55" r="1.95"/><circle cx="479.93" cy="389.45" r="1.95"/><circle cx="467.03" cy="389.41" r="1.95"/><circle cx="661.9" cy="344.22" r="1.95"/><circle cx="536.15" cy="388.57" r="1.95"/><circle cx="673.21" cy="335.61" r="1.95"/><circle cx="492.94" cy="394.34" r="1.95"/><circle cx="464.52" cy="390.05" r="1.95"/><circle cx="599.15" cy="366.38" r="1.95"/><circle cx="651.95" cy="342.93" r="1.95"/><circle cx="450.58" cy="382.9" r="1.95"/><circle cx="638.45" cy="349.09" r="1.95"/><circle cx="564.57" cy="381.4" r="1.95"/><circle cx="649.83" cy="348.08" r="1.95"/><circle cx="661.13" cy="344.17" r="1.95"/><circle cx="521.36" cy="423.49" r="1.95"/><circle cx="659.75" cy="343.21" r="1.95"/><circle cx="455.05" cy="386.95" r="1.95"/><circle cx="525.94" cy="425.69" r="1.95"/><circle cx="525.78" cy="424.28" r="1.95"/><circle cx="472.47" cy="394.51" r="1.95"/><circle cx="536.73" cy="390.42" r="1.95"/><circle cx="609.04" cy="364.99" r="1.95"/><circle cx="435.66" cy="373" r="1.95"/><circle cx="535.93" cy="390.66" r="1.95"/><circle cx="547.92" cy="389.65" r="1.95"/><circle cx="459.38" cy="386.24" r="1.95"/><circle cx="579.28" cy="371.84" r="1.95"/><circle cx="474.52" cy="391.97" r="1.95"/><circle cx="560.12" cy="385.15" r="1.95"/><circle cx="560.35" cy="382.26" r="1.95"/><circle cx="608" cy="363.85" r="1.95"/><circle cx="658.07" cy="342.06" r="1.95"/><circle cx="655.71" cy="346.17" r="1.95"/><circle cx="541.61" cy="391.08" r="1.95"/><circle cx="477.22" cy="393.04" r="1.95"/><circle cx="471.68" cy="392.73" r="1.95"/><circle cx="618.15" cy="358.52" r="1.95"/><circle cx="611.08" cy="360.44" r="1.95"/><circle cx="620.18" cy="358.58" r="1.95"/><circle cx="630.79" cy="351.76" r="1.95"/><circle cx="558.54" cy="381.73" r="1.95"/><circle cx="648.02" cy="350.8" r="1.95"/><circle cx="583.34" cy="369.62" r="1.95"/><circle cx="576.4" cy="377.84" r="1.95"/><circle cx="631.75" cy="351.21" r="1.95"/><circle cx="581.97" cy="372.72" r="1.95"/><circle cx="613.13" cy="359.23" r="1.95"/><circle cx="656.72" cy="345.89" r="1.95"/><circle cx="512.91" cy="408.25" r="1.95"/><circle cx="608.62" cy="363.43" r="1.95"/><circle cx="486.83" cy="392.49" r="1.95"/><circle cx="537.41" cy="390.06" r="1.95"/><circle cx="641.57" cy="351.86" r="1.95"/><circle cx="668.49" cy="342.91" r="1.95"/><circle cx="661.49" cy="342.32" r="1.95"/><circle cx="610.38" cy="364.4" r="1.95"/><circle cx="634.8" cy="353.06" r="1.95"/><circle cx="644.52" cy="349.97" r="1.95"/><circle cx="570.63" cy="381.46" r="1.95"/><circle cx="472.03" cy="387.53" r="1.95"/><circle cx="411.27" cy="375.27" r="1.95"/><circle cx="611.33" cy="358.68" r="1.95"/><circle cx="611.1" cy="361.74" r="1.95"/><circle cx="603.22" cy="365.19" r="1.95"/><circle cx="562.6" cy="388.87" r="1.95"/><circle cx="583.54" cy="372.06" r="1.95"/><circle cx="599.83" cy="370.62" r="1.95"/><circle cx="549.57" cy="391.56" r="1.95"/><circle cx="583.72" cy="370.45" r="1.95"/><circle cx="466.86" cy="391.52" r="1.95"/><circle cx="550.24" cy="391.95" r="1.95"/><circle cx="575.67" cy="375" r="1.95"/><circle cx="559.53" cy="383.88" r="1.95"/><circle cx="475.71" cy="392.62" r="1.95"/><circle cx="440.61" cy="369.69" r="1.95"/><circle cx="582.62" cy="370.03" r="1.95"/><circle cx="436.79" cy="372.35" r="1.95"/><circle cx="620.23" cy="359.82" r="1.95"/><circle cx="455.5" cy="383.72" r="1.95"/><circle cx="614.24" cy="360.47" r="1.95"/><circle cx="502.21" cy="400.18" r="1.95"/><circle cx="649.05" cy="348.27" r="1.95"/><circle cx="467.22" cy="392.06" r="1.95"/><circle cx="448.91" cy="382.07" r="1.95"/><circle cx="588.17" cy="370.64" r="1.95"/><circle cx="614.69" cy="358.13" r="1.95"/><circle cx="500.55" cy="397.15" r="1.95"/><circle cx="533.51" cy="398.65" r="1.95"/><circle cx="584.59" cy="367.91" r="1.95"/><circle cx="485.94" cy="393.15" r="1.95"/><circle cx="511.18" cy="406.98" r="1.95"/><circle cx="558.83" cy="382.36" r="1.95"/><circle cx="488.01" cy="394.34" r="1.95"/><circle cx="445.78" cy="378.21" r="1.95"/><circle cx="651.01" cy="346.13" r="1.95"/><circle cx="439.5" cy="369.68" r="1.95"/><circle cx="672.08" cy="339.51" r="1.95"/><circle cx="633.76" cy="358.71" r="1.95"/><circle cx="526.76" cy="417.62" r="1.95"/><circle cx="638.11" cy="351.77" r="1.95"/><circle cx="423.8" cy="377.64" r="1.95"/><circle cx="557.89" cy="386.51" r="1.95"/><circle cx="501.64" cy="399.26" r="1.95"/><circle cx="487.43" cy="388.01" r="1.95"/><circle cx="647.29" cy="351.79" r="1.95"/><circle cx="416.79" cy="375.41" r="1.95"/><circle cx="638.48" cy="351.58" r="1.95"/><circle cx="427.68" cy="377.05" r="1.95"/><circle cx="588.8" cy="367.99" r="1.95"/><circle cx="483.37" cy="391.09" r="1.95"/><circle cx="548.29" cy="391.32" r="1.95"/><circle cx="655.5" cy="347.7" r="1.95"/><circle cx="621.08" cy="357.19" r="1.95"/><circle cx="433.18" cy="372.11" r="1.95"/><circle cx="488.63" cy="392.45" r="1.95"/><circle cx="537.83" cy="390.74" r="1.95"/><circle cx="599.4" cy="367.52" r="1.95"/><circle cx="408.01" cy="376.46" r="1.95"/><circle cx="638.98" cy="350.32" r="1.95"/><circle cx="633.04" cy="353.24" r="1.95"/><circle cx="663.81" cy="342.74" r="1.95"/><circle cx="460.98" cy="387.97" r="1.95"/><circle cx="463.88" cy="387.57" r="1.95"/><circle cx="630.62" cy="357.87" r="1.95"/><circle cx="545.01" cy="389.32" r="1.95"/><circle cx="472.49" cy="393.35" r="1.95"/><circle cx="411.07" cy="376.94" r="1.95"/><circle cx="464.79" cy="392.1" r="1.95"/><circle cx="588.15" cy="365.94" r="1.95"/><circle cx="603.7" cy="369.48" r="1.95"/><circle cx="501.83" cy="399.69" r="1.95"/><circle cx="653.44" cy="344.41" r="1.95"/><circle cx="543.66" cy="389.91" r="1.95"/><circle cx="545.78" cy="394.83" r="1.95"/><circle cx="512.7" cy="411.02" r="1.95"/><circle cx="515.04" cy="410.44" r="1.95"/><circle cx="503.1" cy="400.12" r="1.95"/><circle cx="628.41" cy="358" r="1.95"/><circle cx="524.95" cy="421.93" r="1.95"/><circle cx="468.76" cy="390.77" r="1.95"/><circle cx="523.63" cy="425.3" r="1.95"/><circle cx="655.57" cy="350.29" r="1.95"/><circle cx="578.44" cy="372.69" r="1.95"/><circle cx="434.76" cy="374.67" r="1.95"/><circle cx="519.29" cy="417.28" r="1.95"/><circle cx="532.07" cy="407.52" r="1.95"/><circle cx="410.24" cy="378.24" r="1.95"/><circle cx="665.22" cy="342.75" r="1.95"/><circle cx="653.04" cy="343.58" r="1.95"/><circle cx="433.82" cy="372.61" r="1.95"/><circle cx="555.11" cy="387.6" r="1.95"/><circle cx="490.6" cy="392.55" r="1.95"/><circle cx="463.5" cy="389.36" r="1.95"/><circle cx="480.3" cy="392.03" r="1.95"/><circle cx="420.91" cy="374.49" r="1.95"/><circle cx="591.7" cy="368.4" r="1.95"/><circle cx="505.17" cy="401.28" r="1.95"/><circle cx="594.81" cy="368.25" r="1.95"/><circle cx="625.9" cy="353.75" r="1.95"/><circle cx="560.61" cy="382.58" r="1.95"/><circle cx="498.97" cy="395.18" r="1.95"/><circle cx="444.18" cy="377.87" r="1.95"/><circle cx="581.8" cy="371.72" r="1.95"/><circle cx="588.07" cy="368.23" r="1.95"/><circle cx="616.72" cy="361.78" r="1.95"/><circle cx="443.55" cy="380.73" r="1.95"/><circle cx="418.92" cy="379.35" r="1.95"/><circle cx="643.07" cy="347.68" r="1.95"/><circle cx="569.68" cy="380.04" r="1.95"/><circle cx="431.84" cy="373.18" r="1.95"/><circle cx="597.3" cy="367.88" r="1.95"/><circle cx="421.65" cy="374.45" r="1.95"/><circle cx="576.6" cy="374.13" r="1.95"/><circle cx="555.82" cy="388.67" r="1.95"/><circle cx="598.98" cy="368.43" r="1.95"/><circle cx="431.81" cy="372.02" r="1.95"/><circle cx="651" cy="346.47" r="1.95"/><circle cx="659.56" cy="343.46" r="1.95"/><circle cx="671.48" cy="340.52" r="1.95"/><circle cx="612.63" cy="365.41" r="1.95"/><circle cx="490.36" cy="391.58" r="1.95"/><circle cx="669.82" cy="339.51" r="1.95"/><circle cx="571.79" cy="375.76" r="1.95"/><circle cx="599.83" cy="365.52" r="1.95"/><circle cx="584.47" cy="371.85" r="1.95"/><circle cx="462.11" cy="389.29" r="1.95"/><circle cx="636.08" cy="349.6" r="1.95"/><circle cx="580.56" cy="370.29" r="1.95"/><circle cx="465.94" cy="392.56" r="1.95"/><circle cx="508.21" cy="405.81" r="1.95"/><circle cx="445.13" cy="379.9" r="1.95"/><circle cx="522.98" cy="424.68" r="1.95"/><circle cx="672.79" cy="338.63" r="1.95"/><circle cx="509.77" cy="407.63" r="1.95"/><circle cx="512.91" cy="409.28" r="1.95"/><circle cx="622.6" cy="355.55" r="1.95"/><circle cx="428.78" cy="379.19" r="1.95"/><circle cx="438.71" cy="372.13" r="1.95"/><circle cx="607.19" cy="361.86" r="1.95"/><circle cx="441.57" cy="376.2" r="1.95"/><circle cx="571.02" cy="378.28" r="1.95"/><circle cx="626.29" cy="354.51" r="1.95"/><circle cx="558.02" cy="384.51" r="1.95"/><circle cx="428.08" cy="379.51" r="1.95"/><circle cx="462.05" cy="389.43" r="1.95"/><circle cx="551.92" cy="389.15" r="1.95"/><circle cx="663.25" cy="340" r="1.95"/><circle cx="582.45" cy="368.98" r="1.95"/><circle cx="594.03" cy="371.04" r="1.95"/><circle cx="566.73" cy="379.14" r="1.95"/><circle cx="494.22" cy="396.21" r="1.95"/><circle cx="570.04" cy="378.01" r="1.95"/><circle cx="409.07" cy="378.77" r="1.95"/><circle cx="517.95" cy="414.33" r="1.95"/><circle cx="624.97" cy="358.93" r="1.95"/><circle cx="461.52" cy="386.34" r="1.95"/><circle cx="580.98" cy="373.63" r="1.95"/><circle cx="600.37" cy="369.46" r="1.95"/><circle cx="448.61" cy="378.89" r="1.95"/><circle cx="637.34" cy="352.8" r="1.95"/><circle cx="472.12" cy="391.25" r="1.95"/><circle cx="665.56" cy="340.74" r="1.95"/><circle cx="499.22" cy="398.39" r="1.95"/><circle cx="571.08" cy="374.78" r="1.95"/><circle cx="661.77" cy="341.4" r="1.95"/><circle cx="627.15" cy="357.17" r="1.95"/><circle cx="537.21" cy="392.78" r="1.95"/><circle cx="458.83" cy="385.91" r="1.95"/><circle cx="571.95" cy="373.58" r="1.95"/><circle cx="564.69" cy="384.58" r="1.95"/><circle cx="423.71" cy="380.14" r="1.95"/><circle cx="509.43" cy="407.08" r="1.95"/><circle cx="654.26" cy="344.47" r="1.95"/><circle cx="547.98" cy="388.58" r="1.95"/><circle cx="455.22" cy="385.84" r="1.95"/><circle cx="579.77" cy="370.78" r="1.95"/><circle cx="528.64" cy="422.11" r="1.95"/><circle cx="652.4" cy="347.52" r="1.95"/><circle cx="538.37" cy="390.8" r="1.95"/><circle cx="413.53" cy="375.11" r="1.95"/><circle cx="449.94" cy="380.65" r="1.95"/><circle cx="453.7" cy="383.02" r="1.95"/><circle cx="662.47" cy="343.52" r="1.95"/><circle cx="503.2" cy="400.58" r="1.95"/><circle cx="500.37" cy="398.5" r="1.95"/><circle cx="669.17" cy="340.27" r="1.95"/><circle cx="461.98" cy="388.59" r="1.95"/><circle cx="573.88" cy="378.43" r="1.95"/><circle cx="661.53" cy="343.03" r="1.95"/><circle cx="651.37" cy="345.66" r="1.95"/><circle cx="449.65" cy="382.24" r="1.95"/><circle cx="533.26" cy="402.02" r="1.95"/><circle cx="474.33" cy="390.68" r="1.95"/><circle cx="594.86" cy="368.86" r="1.95"/><circle cx="472.71" cy="391.13" r="1.95"/><circle cx="454.11" cy="385.59" r="1.95"/><circle cx="479.67" cy="391.92" r="1.95"/><circle cx="441.67" cy="372.66" r="1.95"/><circle cx="599.29" cy="366.78" r="1.95"/><circle cx="481.71" cy="393.57" r="1.95"/><circle cx="514.15" cy="413.93" r="1.95"/><circle cx="480.59" cy="393.35" r="1.95"/><circle cx="508.81" cy="407.46" r="1.95"/><circle cx="488.65" cy="392.51" r="1.95"/><circle cx="501.62" cy="399.23" r="1.95"/><circle cx="597.27" cy="369.82" r="1.95"/><circle cx="453.28" cy="382.04" r="1.95"/><circle cx="591.28" cy="369.54" r="1.95"/><circle cx="499.97" cy="395.15" r="1.95"/><circle cx="431.68" cy="372.41" r="1.95"/><circle cx="438.72" cy="368.96" r="1.95"/><circle cx="648.82" cy="346.24" r="1.95"/><circle cx="417.79" cy="378.52" r="1.95"/><circle cx="480.85" cy="390.13" r="1.95"/><circle cx="638.88" cy="350.83" r="1.95"/><circle cx="427.88" cy="379.16" r="1.95"/><circle cx="463.28" cy="387.34" r="1.95"/><circle cx="478.83" cy="394.15" r="1.95"/><circle cx="631.41" cy="353.15" r="1.95"/><circle cx="437.65" cy="371.13" r="1.95"/><circle cx="660.95" cy="341.12" r="1.95"/><circle cx="438.76" cy="369.44" r="1.95"/><circle cx="558.68" cy="383.4" r="1.95"/><circle cx="614.58" cy="360.33" r="1.95"/><circle cx="556.82" cy="384.15" r="1.95"/><circle cx="543.06" cy="389.61" r="1.95"/><circle cx="524.25" cy="428.58" r="1.95"/><circle cx="474.49" cy="391.5" r="1.95"/><circle cx="673.6" cy="339.18" r="1.95"/><circle cx="515.17" cy="412.28" r="1.95"/><circle cx="578.6" cy="378.17" r="1.95"/><circle cx="563.24" cy="384.04" r="1.95"/><circle cx="665.34" cy="342.54" r="1.95"/><circle cx="472.18" cy="393.19" r="1.95"/><circle cx="448.21" cy="379.97" r="1.95"/><circle cx="648.46" cy="348.44" r="1.95"/><circle cx="543.46" cy="389.95" r="1.95"/><circle cx="579.04" cy="373.23" r="1.95"/><circle cx="574.73" cy="373.4" r="1.95"/><circle cx="617.03" cy="358.44" r="1.95"/><circle cx="631.94" cy="354.93" r="1.95"/><circle cx="595.26" cy="369.27" r="1.95"/><circle cx="407.83" cy="370.99" r="1.95"/><circle cx="631.79" cy="354.16" r="1.95"/><circle cx="417.91" cy="379.84" r="1.95"/><circle cx="637.3" cy="350.75" r="1.95"/><circle cx="406.79" cy="375.06" r="1.95"/><circle cx="614.9" cy="357.96" r="1.95"/><circle cx="578.38" cy="374.93" r="1.95"/><circle cx="413.49" cy="374.96" r="1.95"/><circle cx="609.33" cy="360.57" r="1.95"/><circle cx="562.45" cy="380.76" r="1.95"/><circle cx="439.07" cy="375.22" r="1.95"/><circle cx="642.44" cy="349.37" r="1.95"/><circle cx="565.58" cy="377.04" r="1.95"/><circle cx="531" cy="415.39" r="1.95"/><circle cx="660.89" cy="344.16" r="1.95"/><circle cx="461.16" cy="391.09" r="1.95"/><circle cx="453.95" cy="382.23" r="1.95"/><circle cx="646.64" cy="346.22" r="1.95"/><circle cx="449.67" cy="381.67" r="1.95"/><circle cx="626.53" cy="356.87" r="1.95"/><circle cx="462.98" cy="389.33" r="1.95"/><circle cx="625.53" cy="358.67" r="1.95"/><circle cx="516.32" cy="411.59" r="1.95"/><circle cx="572.63" cy="374.51" r="1.95"/><circle cx="569.9" cy="377.16" r="1.95"/><circle cx="512.72" cy="411.69" r="1.95"/><circle cx="546.02" cy="391.24" r="1.95"/><circle cx="581.26" cy="371.27" r="1.95"/><circle cx="443.21" cy="374.4" r="1.95"/><circle cx="652.97" cy="348.77" r="1.95"/><circle cx="628.06" cy="357.35" r="1.95"/><circle cx="462.51" cy="393.71" r="1.95"/><circle cx="467.11" cy="390.27" r="1.95"/><circle cx="512.67" cy="413.17" r="1.95"/><circle cx="614.15" cy="358.74" r="1.95"/><circle cx="545.57" cy="389.24" r="1.95"/><circle cx="491.24" cy="392.69" r="1.95"/><circle cx="613.3" cy="360.54" r="1.95"/><circle cx="459.13" cy="385.44" r="1.95"/><circle cx="597.16" cy="366.97" r="1.95"/><circle cx="609.3" cy="362.93" r="1.95"/><circle cx="433.94" cy="370.54" r="1.95"/><circle cx="559.88" cy="384.48" r="1.95"/><circle cx="566.33" cy="378.96" r="1.95"/><circle cx="667.85" cy="340.13" r="1.95"/><circle cx="486.92" cy="395.67" r="1.95"/><circle cx="530.28" cy="416.91" r="1.95"/><circle cx="658.36" cy="345.11" r="1.95"/><circle cx="441.63" cy="374.16" r="1.95"/><circle cx="647.89" cy="349.06" r="1.95"/><circle cx="504.87" cy="403.51" r="1.95"/><circle cx="498.95" cy="396.57" r="1.95"/><circle cx="674.26" cy="341.77" r="1.95"/><circle cx="511.56" cy="411.77" r="1.95"/><circle cx="473.04" cy="394.11" r="1.95"/><circle cx="462.3" cy="387.33" r="1.95"/><circle cx="593.69" cy="365.98" r="1.95"/><circle cx="577.61" cy="372.81" r="1.95"/><circle cx="470.82" cy="391.91" r="1.95"/><circle cx="539.73" cy="390.71" r="1.95"/><circle cx="483.61" cy="391.76" r="1.95"/><circle cx="631.81" cy="353.38" r="1.95"/><circle cx="502.78" cy="403.78" r="1.95"/><circle cx="572.17" cy="375.05" r="1.95"/><circle cx="652.34" cy="349.38" r="1.95"/><circle cx="470.76" cy="393.37" r="1.95"/><circle cx="662.74" cy="340.25" r="1.95"/><circle cx="537.11" cy="391.77" r="1.95"/><circle cx="578.8" cy="372.02" r="1.95"/><circle cx="479.7" cy="389.57" r="1.95"/><circle cx="593.38" cy="365.56" r="1.95"/><circle cx="601.27" cy="363.37" r="1.95"/><circle cx="565.87" cy="380.18" r="1.95"/><circle cx="638.61" cy="350.88" r="1.95"/><circle cx="533.42" cy="398.95" r="1.95"/><circle cx="410.54" cy="374.27" r="1.95"/><circle cx="652.3" cy="346.68" r="1.95"/><circle cx="559.33" cy="383.05" r="1.95"/><circle cx="572" cy="373.42" r="1.95"/><circle cx="567.58" cy="375.25" r="1.95"/><circle cx="417.59" cy="378.31" r="1.95"/><circle cx="483.88" cy="392.46" r="1.95"/><circle cx="430.68" cy="374.26" r="1.95"/><circle cx="581.36" cy="371.86" r="1.95"/><circle cx="636.5" cy="353.58" r="1.95"/><circle cx="584.26" cy="374.72" r="1.95"/><circle cx="625.44" cy="354.85" r="1.95"/><circle cx="496.01" cy="397.58" r="1.95"/><circle cx="414.97" cy="381.57" r="1.95"/><circle cx="516.74" cy="415.21" r="1.95"/><circle cx="451.92" cy="386.47" r="1.95"/><circle cx="488.64" cy="388.11" r="1.95"/><circle cx="470.77" cy="394.44" r="1.95"/><circle cx="455.11" cy="385.3" r="1.95"/><circle cx="591.57" cy="365.92" r="1.95"/><circle cx="567.33" cy="380.16" r="1.95"/><circle cx="627.9" cy="357.62" r="1.95"/><circle cx="671.35" cy="341.74" r="1.95"/><circle cx="470.42" cy="393.89" r="1.95"/><circle cx="658.94" cy="344.51" r="1.95"/><circle cx="613.08" cy="360.07" r="1.95"/><circle cx="557.96" cy="383.64" r="1.95"/><circle cx="668.23" cy="339.91" r="1.95"/><circle cx="544.39" cy="390.79" r="1.95"/><circle cx="414.12" cy="376.34" r="1.95"/><circle cx="440.11" cy="371.93" r="1.95"/><circle cx="490.68" cy="395.52" r="1.95"/><circle cx="593.87" cy="369.69" r="1.95"/><circle cx="558.89" cy="388.39" r="1.95"/><circle cx="590.35" cy="374.07" r="1.95"/><circle cx="411.54" cy="374.41" r="1.95"/><circle cx="473.22" cy="390.74" r="1.95"/><circle cx="555.77" cy="383.38" r="1.95"/><circle cx="582.58" cy="369.33" r="1.95"/><circle cx="522.74" cy="426.41" r="1.95"/><circle cx="465.22" cy="387.93" r="1.95"/><circle cx="489.87" cy="391.47" r="1.95"/><circle cx="611.27" cy="361.73" r="1.95"/><circle cx="599.61" cy="368.69" r="1.95"/><circle cx="473.04" cy="391.15" r="1.95"/><circle cx="662.3" cy="342.37" r="1.95"/><circle cx="418.33" cy="378.94" r="1.95"/><circle cx="469.58" cy="392.27" r="1.95"/><circle cx="524.43" cy="426.23" r="1.95"/><circle cx="622.95" cy="359.47" r="1.95"/><circle cx="558.61" cy="382.11" r="1.95"/><circle cx="588.28" cy="370.68" r="1.95"/><circle cx="662.49" cy="341.73" r="1.95"/><circle cx="505.27" cy="404.72" r="1.95"/><circle cx="455.33" cy="387.02" r="1.95"/><circle cx="516.68" cy="412.96" r="1.95"/><circle cx="558.11" cy="387.07" r="1.95"/><circle cx="442.68" cy="373.36" r="1.95"/><circle cx="416.89" cy="379.85" r="1.95"/><circle cx="601.87" cy="366.59" r="1.95"/><circle cx="672.57" cy="337.67" r="1.95"/><circle cx="657.14" cy="343.13" r="1.95"/><circle cx="507.73" cy="404.16" r="1.95"/><circle cx="528.71" cy="418.8" r="1.95"/><circle cx="629.56" cy="353.48" r="1.95"/><circle cx="671.54" cy="340.47" r="1.95"/><circle cx="502.35" cy="397.73" r="1.95"/><circle cx="662.65" cy="342.88" r="1.95"/><circle cx="594.51" cy="368.88" r="1.95"/><circle cx="446.13" cy="376.15" r="1.95"/><circle cx="527.7" cy="420.9" r="1.95"/><circle cx="407.32" cy="372.38" r="1.95"/><circle cx="516.14" cy="409.38" r="1.95"/><circle cx="547.25" cy="388.82" r="1.95"/><circle cx="621.24" cy="357.85" r="1.95"/><circle cx="495.48" cy="397.86" r="1.95"/><circle cx="581.29" cy="371.13" r="1.95"/><circle cx="584.97" cy="373.86" r="1.95"/><circle cx="547.52" cy="392.77" r="1.95"/><circle cx="571.53" cy="378.81" r="1.95"/><circle cx="530.26" cy="418.92" r="1.95"/><circle cx="570.79" cy="377.69" r="1.95"/><circle cx="530.47" cy="414.75" r="1.95"/><circle cx="651.9" cy="348.73" r="1.95"/><circle cx="436.9" cy="373.44" r="1.95"/><circle cx="638.98" cy="352" r="1.95"/><circle cx="607.01" cy="363.5" r="1.95"/><circle cx="409.52" cy="372.86" r="1.95"/><circle cx="599.97" cy="368.3" r="1.95"/><circle cx="504.12" cy="402.51" r="1.95"/><circle cx="542.96" cy="386.72" r="1.95"/><circle cx="545.8" cy="390.54" r="1.95"/><circle cx="604.34" cy="366.55" r="1.95"/><circle cx="537.38" cy="390.73" r="1.95"/><circle cx="577.58" cy="375.22" r="1.95"/><circle cx="465.5" cy="391.51" r="1.95"/><circle cx="425.54" cy="376.77" r="1.95"/><circle cx="586.32" cy="370.05" r="1.95"/><circle cx="672.52" cy="340.34" r="1.95"/><circle cx="427.37" cy="381.63" r="1.95"/><circle cx="651.57" cy="350.37" r="1.95"/><circle cx="509.95" cy="403.13" r="1.95"/><circle cx="582.29" cy="371.58" r="1.95"/><circle cx="478.09" cy="392.76" r="1.95"/><circle cx="592.53" cy="371.79" r="1.95"/><circle cx="523.8" cy="429.13" r="1.95"/><circle cx="620.42" cy="356.78" r="1.95"/><circle cx="481.04" cy="390.87" r="1.95"/><circle cx="496.08" cy="394.33" r="1.95"/><circle cx="574.79" cy="376.67" r="1.95"/><circle cx="434.86" cy="369.51" r="1.95"/><circle cx="668.93" cy="342.07" r="1.95"/><circle cx="569.94" cy="379.25" r="1.95"/><circle cx="668.16" cy="340.97" r="1.95"/><circle cx="454.43" cy="380.67" r="1.95"/><circle cx="597.31" cy="366.65" r="1.95"/><circle cx="460.74" cy="389.18" r="1.95"/><circle cx="428.85" cy="376.35" r="1.95"/><circle cx="525.7" cy="423.11" r="1.95"/><circle cx="533.33" cy="398.6" r="1.95"/><circle cx="556.68" cy="387.15" r="1.95"/><circle cx="532.03" cy="409.96" r="1.95"/><circle cx="459.15" cy="387.71" r="1.95"/><circle cx="590.06" cy="369.03" r="1.95"/><circle cx="478.1" cy="391.36" r="1.95"/><circle cx="484.61" cy="392.05" r="1.95"/><circle cx="616.75" cy="361.52" r="1.95"/><circle cx="589.97" cy="369.56" r="1.95"/><circle cx="602.15" cy="368.11" r="1.95"/><circle cx="654.56" cy="343.04" r="1.95"/><circle cx="635.93" cy="354.84" r="1.95"/><circle cx="465.57" cy="389.71" r="1.95"/><circle cx="669.17" cy="341.88" r="1.95"/><circle cx="546.43" cy="390.41" r="1.95"/><circle cx="556.8" cy="387" r="1.95"/><circle cx="481.45" cy="394.63" r="1.95"/><circle cx="458.8" cy="375.4" r="1.95"/><circle cx="469.3" cy="382.7" r="1.95"/><circle cx="435.5" cy="379.7" r="1.95"/><circle cx="421" cy="381.5" r="1.95"/><circle cx="424" cy="382" r="1.95"/><circle cx="532" cy="418" r="1.95"/><circle cx="532.4" cy="413" r="1.95"/><circle cx="532.8" cy="406" r="1.95"/><circle cx="533.2" cy="401" r="1.95"/></g>
<line x1="404.7" y1="427.2" x2="675.5" y2="427.2" stroke="#505050" stroke-width="1.5" stroke-dasharray="5.9,3.5"/>
<text x="562.8" y="422.4" font-size="9.3" fill="#231f20">9.6 nPa Hz<tspan font-size="5.9" dy="-4.0">−1/2</tspan><tspan dy="4.0" dx="1.2"> @52 kHz</tspan></text>
<rect x="451.6" y="302.6" width="114.7" height="53.6" fill="#fff"/>
<rect x="455.9" y="302.6" width="3.9" height="53.6" fill="#dedede"/>
<path d="M453.41,333.91 L453.9,332.95 L454.39,336.51 L454.88,335.44 L455.37,338.37 L455.85,336.5 L456.34,338.3 L456.71,339.92 L457.07,342.59 L457.56,345.11 L458.05,342.61 L458.54,339.19 L459.15,337.32 L459.76,333.79 L460.37,331.23 L460.98,329.37 L461.59,325.55 L461.83,314.71 L462.07,303.98 L462.32,321.81 L462.8,325.7 L463.17,328.66 L463.66,331.21 L464.15,333.16 L464.63,333.62 L465.24,333.06 L465.85,331.16 L466.46,330.75 L467.07,329.37 L467.68,329.41 L468.29,329.77 L468.78,328.79 L469.27,328.51 L469.7,328.18 L470.12,327.91 L470.55,328.48 L470.98,327.32 L471.46,327.12 L471.95,327.65 L472.56,325.21 L473.17,326.91 L473.78,327.87 L474.21,327 L474.63,326.38 L475.12,326.11 L475.61,325.84 L476.1,325.79 L476.59,325.89 L477.01,326.21 L477.44,325.97 L477.87,325.49 L478.29,325.55 L478.78,325.99 L479.27,324.87 L479.76,325.66 L480.24,325.95 L480.67,325.7 L481.1,325.81 L481.52,326.46 L481.95,325.79 L482.44,326.27 L482.93,326.55 L483.54,327.82 L484.15,328.1 L484.76,327.85 L485.37,326.08 L485.98,324.88 L486.59,323.62 L487.07,322.76 L487.56,321.91 L487.99,321.95 L488.41,320.79 L488.84,319.81 L489.27,319.39 L489.76,317.74 L490.24,317.3 L490.73,316.14 L491.22,314.87 L491.65,314.6 L492.07,312.8 L492.56,311.82 L492.93,308.77 L493.29,306.23 L493.54,309.66 L493.9,311.17 L494.51,311.93 L495.12,312.4 L495.73,312.63 L496.34,314.14 L496.95,315.39 L497.38,315.96 L497.8,316.28 L498.29,315.56 L498.78,316.4 L499.19,316.71 L499.59,316.64 L500,316.28 L500.41,317.21 L500.81,316.44 L501.22,317.3 L501.63,317.87 L502.03,316.64 L502.44,317.75 L502.85,317.98 L503.25,318.14 L503.66,317.96 L504.07,318.46 L504.47,318.36 L504.88,319.29 L505.28,319.73 L505.69,319.54 L506.1,319.72 L506.5,319.98 L506.91,320.25 L507.32,320.35 L507.72,320.41 L508.13,320.6 L508.54,320.18 L508.9,320.08 L509.27,321.85 L509.63,322.62 L510,321.97 L510.39,322.5 L510.78,323.11 L511.18,323.6 L511.57,323.71 L511.92,323.26 L512.27,322.04 L512.68,321.99 L513.09,321.75 L513.49,321.19 L513.9,321.6 L514.28,321.18 L514.65,321.13 L515.02,320.41 L515.4,320.78 L515.77,319.78 L516.16,320.27 L516.55,319.01 L516.94,319.56 L517.33,320.17 L517.72,319.62 L518.11,319.79 L518.5,319.01 L518.89,320.17 L519.28,319.72 L519.67,319.4 L520.05,319.49 L520.44,319.38 L520.83,319.92 L521.22,319.57 L521.61,319.03 L522,319.62 L522.39,320.34 L522.78,320.18 L523.17,319.91 L523.56,320.43 L523.95,320.35 L524.34,320.66 L524.73,319.92 L525.12,320.3 L525.5,320.84 L525.89,320.41 L526.28,320.56 L526.67,321.11 L527.06,320.14 L527.45,320.28 L527.84,319.85 L528.23,319.71 L528.62,319.81 L529.01,319.15 L529.4,318.78 L529.79,320.02 L530.18,319.25 L530.57,319.54 L530.96,318.95 L531.34,318.77 L531.73,318.78 L532.12,318.6 L532.51,317.77 L532.9,318.64 L533.29,317.71 L533.68,318.09 L534.07,318.93 L534.46,317.88 L534.85,318.54 L535.24,317.79 L535.63,318.21 L536.02,318.03 L536.41,318.21 L536.8,317.75 L537.18,317.77 L537.57,318.29 L537.96,317.59 L538.35,317.91 L538.74,318.53 L539.13,318.08 L539.52,318.01 L539.91,317.96 L540.3,318.49 L540.69,318.33 L541.08,318.57 L541.47,318.48 L541.86,319.32 L542.25,318.46 L542.63,317.91 L543.02,318.75 L543.41,318.75 L543.8,318.85 L544.19,318.2 L544.58,319.31 L544.97,318.89 L545.36,318.93 L545.75,318.36 L546.14,319.21 L546.53,318.96 L546.92,319.47 L547.31,318.74 L547.7,318.38 L548.09,318.88 L548.47,318.43 L548.86,318.79 L549.25,318.05 L549.64,318.27 L550.03,318.08 L550.42,318 L550.81,317.65 L551.2,317.26 L551.59,317.28 L551.98,316.81 L552.37,316.82 L552.76,316.38 L553.15,315.34 L553.54,315.92 L553.93,316.21 L554.31,315.52 L554.7,315.36 L555.09,315.03 L555.48,314.4 L555.87,313.68 L556.26,314.12 L556.65,313.82 L557.04,313.24 L557.43,312.8 L557.82,312.4 L558.21,311.77 L558.6,311.42 L558.99,310.85 L559.38,310.5 L559.76,309.54 L560.15,309.2 L560.54,309.74 L560.93,309.47 L561.32,308.74 L561.71,309.96 L562.1,309.26 L562.49,311.12 L562.88,310.97 L563.27,311.26 L563.66,311.06 L564.05,310.88 L564.44,311.23 L564.83,311.32 L565.18,310.32 L565.53,309.97 L565.88,309.71 L566.23,309.21" stroke="#1c74bd" stroke-width="1.6" fill="none" stroke-linejoin="round"/>
<path d="M457.6,344.3 L458.47,346.4 L460.74,346.58 L459.01,348.06 L459.54,350.27 L457.6,349.09 L455.66,350.27 L456.19,348.06 L454.46,346.58 L456.73,346.4Z" stroke="#e0202a" stroke-width="1" fill="none"/>
<line x1="451.6" y1="302.6" x2="566.3" y2="302.6" stroke="#777" stroke-width="0.9" />
<line x1="566.3" y1="302.6" x2="566.3" y2="356.2" stroke="#777" stroke-width="0.9" />
<line x1="451.6" y1="356.2" x2="566.3" y2="356.2" stroke="#3c3c3c" stroke-width="0.9" />
<line x1="451.6" y1="302.6" x2="451.6" y2="356.2" stroke="#3c3c3c" stroke-width="0.9" />
<line x1="449.2" y1="309" x2="451.6" y2="309" stroke="#3c3c3c" stroke-width="0.8" />
<line x1="449.2" y1="327.8" x2="451.6" y2="327.8" stroke="#3c3c3c" stroke-width="0.8" />
<line x1="449.2" y1="346.8" x2="451.6" y2="346.8" stroke="#3c3c3c" stroke-width="0.8" />
<line x1="450.2" y1="318.4" x2="451.6" y2="318.4" stroke="#3c3c3c" stroke-width="0.6" />
<line x1="450.2" y1="337.3" x2="451.6" y2="337.3" stroke="#3c3c3c" stroke-width="0.6" />
<line x1="450.2" y1="356" x2="451.6" y2="356" stroke="#3c3c3c" stroke-width="0.6" />
<line x1="451.6" y1="356.2" x2="451.6" y2="358.6" stroke="#3c3c3c" stroke-width="0.8" />
<line x1="463.07" y1="356.2" x2="463.07" y2="357.6" stroke="#3c3c3c" stroke-width="0.8" />
<line x1="474.54" y1="356.2" x2="474.54" y2="357.6" stroke="#3c3c3c" stroke-width="0.8" />
<line x1="486.01" y1="356.2" x2="486.01" y2="357.6" stroke="#3c3c3c" stroke-width="0.8" />
<line x1="497.48" y1="356.2" x2="497.48" y2="357.6" stroke="#3c3c3c" stroke-width="0.8" />
<line x1="508.95" y1="356.2" x2="508.95" y2="358.6" stroke="#3c3c3c" stroke-width="0.8" />
<line x1="520.42" y1="356.2" x2="520.42" y2="357.6" stroke="#3c3c3c" stroke-width="0.8" />
<line x1="531.89" y1="356.2" x2="531.89" y2="357.6" stroke="#3c3c3c" stroke-width="0.8" />
<line x1="543.36" y1="356.2" x2="543.36" y2="357.6" stroke="#3c3c3c" stroke-width="0.8" />
<line x1="554.83" y1="356.2" x2="554.83" y2="357.6" stroke="#3c3c3c" stroke-width="0.8" />
<line x1="566.3" y1="356.2" x2="566.3" y2="358.6" stroke="#3c3c3c" stroke-width="0.8" />
<text x="448.2" y="312.2" font-size="9" text-anchor="end" fill="#231f20">10<tspan font-size="6.3" dy="-3.7">−4</tspan></text>
<text x="448.2" y="331" font-size="9" text-anchor="end" fill="#231f20">10<tspan font-size="6.3" dy="-3.7">−6</tspan></text>
<text x="448.2" y="350" font-size="9" text-anchor="end" fill="#231f20">10<tspan font-size="6.3" dy="-3.7">−8</tspan></text>
<text x="451.6" y="367.9" font-size="9.3" text-anchor="middle" font-weight="normal" fill="#231f20" >0</text>
<text x="508.95" y="367.9" font-size="9.3" text-anchor="middle" font-weight="normal" fill="#231f20" >0.5</text>
<text x="566.3" y="367.9" font-size="9.3" text-anchor="middle" font-weight="normal" fill="#231f20" >1</text>
</svg></body></html>
